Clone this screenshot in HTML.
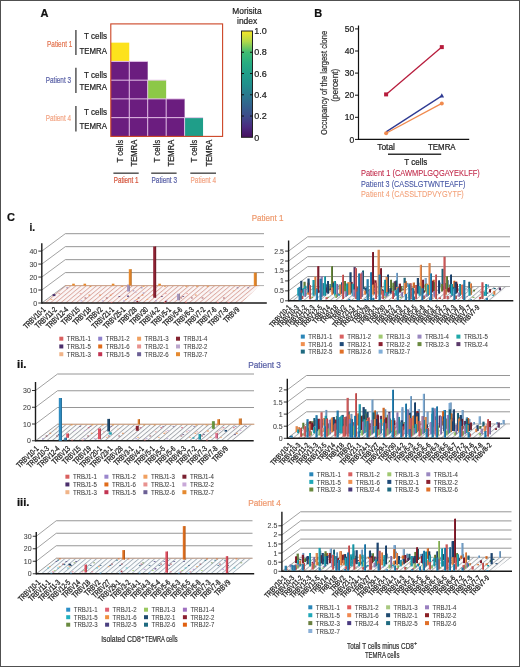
<!DOCTYPE html>
<html><head><meta charset="utf-8"><style>
html,body{margin:0;padding:0;background:#fff;}
body{width:520px;height:667px;overflow:hidden;position:relative;}
svg{position:absolute;left:0;top:0;display:block;font-family:"Liberation Sans",sans-serif;will-change:transform;}
.frame{position:absolute;left:0;top:0;width:520px;height:667px;box-sizing:border-box;border:1px solid #505050;}
</style></head><body>
<svg width="520" height="667" viewBox="0 0 520 667">
<text x="40.50" y="17.00" font-size="11" fill="#111" font-weight="bold" stroke="#111" stroke-width="0.22">A</text>
<text x="47.10" y="46.60" font-size="9.2" fill="#E2734F" textLength="25.20" lengthAdjust="spacingAndGlyphs" stroke="#E2734F" stroke-width="0.22">Patient 1</text>
<text x="45.80" y="83.20" font-size="9.2" fill="#5960A6" textLength="25.20" lengthAdjust="spacingAndGlyphs" stroke="#5960A6" stroke-width="0.22">Patient 3</text>
<text x="45.80" y="121.30" font-size="9.2" fill="#F2A585" textLength="25.20" lengthAdjust="spacingAndGlyphs" stroke="#F2A585" stroke-width="0.22">Patient 4</text>
<line x1="75.90" y1="29.90" x2="75.90" y2="55.10" stroke="#555" stroke-width="1.5"/>
<line x1="75.90" y1="67.70" x2="75.90" y2="92.90" stroke="#555" stroke-width="1.5"/>
<line x1="75.90" y1="106.00" x2="75.90" y2="131.60" stroke="#555" stroke-width="1.5"/>
<text x="107.00" y="39.20" font-size="9.0" fill="#222" text-anchor="end" textLength="23.00" lengthAdjust="spacingAndGlyphs" stroke="#222" stroke-width="0.22">T cells</text>
<text x="107.00" y="53.80" font-size="9.0" fill="#222" text-anchor="end" textLength="27.50" lengthAdjust="spacingAndGlyphs" stroke="#222" stroke-width="0.22">TEMRA</text>
<text x="107.00" y="78.00" font-size="9.0" fill="#222" text-anchor="end" textLength="23.00" lengthAdjust="spacingAndGlyphs" stroke="#222" stroke-width="0.22">T cells</text>
<text x="107.00" y="89.60" font-size="9.0" fill="#222" text-anchor="end" textLength="27.50" lengthAdjust="spacingAndGlyphs" stroke="#222" stroke-width="0.22">TEMRA</text>
<text x="107.00" y="115.20" font-size="9.0" fill="#222" text-anchor="end" textLength="23.00" lengthAdjust="spacingAndGlyphs" stroke="#222" stroke-width="0.22">T cells</text>
<text x="107.00" y="128.80" font-size="9.0" fill="#222" text-anchor="end" textLength="27.50" lengthAdjust="spacingAndGlyphs" stroke="#222" stroke-width="0.22">TEMRA</text>
<rect x="110.80" y="42.65" width="18.45" height="18.75" fill="#FDE21C" />
<rect x="110.80" y="61.40" width="18.45" height="18.75" fill="#6B1D7F" />
<rect x="129.25" y="61.40" width="18.45" height="18.75" fill="#6B1D7F" />
<rect x="110.80" y="80.15" width="18.45" height="18.75" fill="#6B1D7F" />
<rect x="129.25" y="80.15" width="18.45" height="18.75" fill="#6B1D7F" />
<rect x="147.70" y="80.15" width="18.45" height="18.75" fill="#8CC847" />
<rect x="110.80" y="98.90" width="18.45" height="18.75" fill="#6B1D7F" />
<rect x="129.25" y="98.90" width="18.45" height="18.75" fill="#6B1D7F" />
<rect x="147.70" y="98.90" width="18.45" height="18.75" fill="#6B1D7F" />
<rect x="166.15" y="98.90" width="18.45" height="18.75" fill="#6B1D7F" />
<rect x="110.80" y="117.65" width="18.45" height="18.75" fill="#6B1D7F" />
<rect x="129.25" y="117.65" width="18.45" height="18.75" fill="#6B1D7F" />
<rect x="147.70" y="117.65" width="18.45" height="18.75" fill="#6B1D7F" />
<rect x="166.15" y="117.65" width="18.45" height="18.75" fill="#6B1D7F" />
<rect x="184.60" y="117.65" width="18.45" height="18.75" fill="#1F9E89" />
<g stroke="#E9C6EC" stroke-width="0.9">
<line x1="110.80" y1="61.40" x2="129.25" y2="61.40" stroke="#EBC8EE" stroke-width="0.9"/>
<line x1="129.25" y1="61.40" x2="129.25" y2="80.15" stroke="#EBC8EE" stroke-width="0.9"/>
<line x1="129.25" y1="61.40" x2="147.70" y2="61.40" stroke="#EBC8EE" stroke-width="0.9"/>
<line x1="110.80" y1="80.15" x2="129.25" y2="80.15" stroke="#EBC8EE" stroke-width="0.9"/>
<line x1="129.25" y1="80.15" x2="129.25" y2="98.90" stroke="#EBC8EE" stroke-width="0.9"/>
<line x1="129.25" y1="80.15" x2="147.70" y2="80.15" stroke="#EBC8EE" stroke-width="0.9"/>
<line x1="147.70" y1="80.15" x2="147.70" y2="98.90" stroke="#EBC8EE" stroke-width="0.9"/>
<line x1="147.70" y1="80.15" x2="166.15" y2="80.15" stroke="#EBC8EE" stroke-width="0.9"/>
<line x1="110.80" y1="98.90" x2="129.25" y2="98.90" stroke="#EBC8EE" stroke-width="0.9"/>
<line x1="129.25" y1="98.90" x2="129.25" y2="117.65" stroke="#EBC8EE" stroke-width="0.9"/>
<line x1="129.25" y1="98.90" x2="147.70" y2="98.90" stroke="#EBC8EE" stroke-width="0.9"/>
<line x1="147.70" y1="98.90" x2="147.70" y2="117.65" stroke="#EBC8EE" stroke-width="0.9"/>
<line x1="147.70" y1="98.90" x2="166.15" y2="98.90" stroke="#EBC8EE" stroke-width="0.9"/>
<line x1="166.15" y1="98.90" x2="166.15" y2="117.65" stroke="#EBC8EE" stroke-width="0.9"/>
<line x1="166.15" y1="98.90" x2="184.60" y2="98.90" stroke="#EBC8EE" stroke-width="0.9"/>
<line x1="110.80" y1="117.65" x2="129.25" y2="117.65" stroke="#EBC8EE" stroke-width="0.9"/>
<line x1="129.25" y1="117.65" x2="129.25" y2="136.40" stroke="#EBC8EE" stroke-width="0.9"/>
<line x1="129.25" y1="117.65" x2="147.70" y2="117.65" stroke="#EBC8EE" stroke-width="0.9"/>
<line x1="147.70" y1="117.65" x2="147.70" y2="136.40" stroke="#EBC8EE" stroke-width="0.9"/>
<line x1="147.70" y1="117.65" x2="166.15" y2="117.65" stroke="#EBC8EE" stroke-width="0.9"/>
<line x1="166.15" y1="117.65" x2="166.15" y2="136.40" stroke="#EBC8EE" stroke-width="0.9"/>
<line x1="166.15" y1="117.65" x2="184.60" y2="117.65" stroke="#EBC8EE" stroke-width="0.9"/>
<line x1="184.60" y1="117.65" x2="184.60" y2="136.40" stroke="#EBC8EE" stroke-width="0.9"/>
<line x1="184.60" y1="117.65" x2="203.05" y2="117.65" stroke="#EBC8EE" stroke-width="0.9"/>
</g>
<rect x="110.80" y="23.90" width="111.80" height="112.50" fill="none" stroke="#CC4424" stroke-width="1.1"/>
<text x="122.70" y="162.50" font-size="8.6" fill="#222" transform="rotate(-90 122.70 162.50)" textLength="22.70" lengthAdjust="spacingAndGlyphs" stroke="#222" stroke-width="0.22">T cells</text>
<text x="137.35" y="166.40" font-size="8.6" fill="#222" transform="rotate(-90 137.35 166.40)" textLength="26.60" lengthAdjust="spacingAndGlyphs" stroke="#222" stroke-width="0.22">TEMRA</text>
<text x="159.70" y="162.50" font-size="8.6" fill="#222" transform="rotate(-90 159.70 162.50)" textLength="22.70" lengthAdjust="spacingAndGlyphs" stroke="#222" stroke-width="0.22">T cells</text>
<text x="174.00" y="166.40" font-size="8.6" fill="#222" transform="rotate(-90 174.00 166.40)" textLength="26.60" lengthAdjust="spacingAndGlyphs" stroke="#222" stroke-width="0.22">TEMRA</text>
<text x="197.10" y="162.50" font-size="8.6" fill="#222" transform="rotate(-90 197.10 162.50)" textLength="22.70" lengthAdjust="spacingAndGlyphs" stroke="#222" stroke-width="0.22">T cells</text>
<text x="212.10" y="166.40" font-size="8.6" fill="#222" transform="rotate(-90 212.10 166.40)" textLength="26.60" lengthAdjust="spacingAndGlyphs" stroke="#222" stroke-width="0.22">TEMRA</text>
<line x1="113.40" y1="173.20" x2="138.70" y2="173.20" stroke="#555" stroke-width="1.5"/>
<line x1="151.20" y1="173.20" x2="176.60" y2="173.20" stroke="#555" stroke-width="1.5"/>
<line x1="190.30" y1="173.20" x2="216.00" y2="173.20" stroke="#555" stroke-width="1.5"/>
<text x="113.80" y="183.10" font-size="8.8" fill="#D4553C" textLength="24.80" lengthAdjust="spacingAndGlyphs" stroke="#D4553C" stroke-width="0.22">Patient 1</text>
<text x="151.50" y="183.10" font-size="8.8" fill="#5960A6" textLength="25.50" lengthAdjust="spacingAndGlyphs" stroke="#5960A6" stroke-width="0.22">Patient 3</text>
<text x="190.50" y="183.10" font-size="8.8" fill="#F2A585" textLength="25.50" lengthAdjust="spacingAndGlyphs" stroke="#F2A585" stroke-width="0.22">Patient 4</text>
<defs><linearGradient id="vir" x1="0" y1="1" x2="0" y2="0"><stop offset="0.0" stop-color="#46105F"/><stop offset="0.1" stop-color="#4A2C80"/><stop offset="0.2" stop-color="#3D4C8A"/><stop offset="0.3" stop-color="#33638D"/><stop offset="0.4" stop-color="#2A7A8E"/><stop offset="0.5" stop-color="#20908C"/><stop offset="0.6" stop-color="#1F9E89"/><stop offset="0.7" stop-color="#27AD81"/><stop offset="0.8" stop-color="#40BC72"/><stop offset="0.9" stop-color="#B0D84A"/><stop offset="1.0" stop-color="#F8E626"/></linearGradient></defs>
<rect x="241.50" y="31.00" width="11.00" height="106.30" fill="url(#vir)" stroke="#222" stroke-width="1"/>
<text x="254.30" y="140.50" font-size="9" fill="#222" stroke="#222" stroke-width="0.22">0</text>
<line x1="241.50" y1="116.04" x2="244.00" y2="116.04" stroke="#111" stroke-width="1"/>
<line x1="250.00" y1="116.04" x2="252.50" y2="116.04" stroke="#111" stroke-width="1"/>
<text x="254.30" y="119.24" font-size="9" fill="#222" stroke="#222" stroke-width="0.22">0.2</text>
<line x1="241.50" y1="94.78" x2="244.00" y2="94.78" stroke="#111" stroke-width="1"/>
<line x1="250.00" y1="94.78" x2="252.50" y2="94.78" stroke="#111" stroke-width="1"/>
<text x="254.30" y="97.98" font-size="9" fill="#222" stroke="#222" stroke-width="0.22">0.4</text>
<line x1="241.50" y1="73.52" x2="244.00" y2="73.52" stroke="#111" stroke-width="1"/>
<line x1="250.00" y1="73.52" x2="252.50" y2="73.52" stroke="#111" stroke-width="1"/>
<text x="254.30" y="76.72" font-size="9" fill="#222" stroke="#222" stroke-width="0.22">0.6</text>
<line x1="241.50" y1="52.26" x2="244.00" y2="52.26" stroke="#111" stroke-width="1"/>
<line x1="250.00" y1="52.26" x2="252.50" y2="52.26" stroke="#111" stroke-width="1"/>
<text x="254.30" y="55.46" font-size="9" fill="#222" stroke="#222" stroke-width="0.22">0.8</text>
<text x="254.30" y="34.20" font-size="9" fill="#222" stroke="#222" stroke-width="0.22">1.0</text>
<text x="246.90" y="14.00" font-size="9.3" fill="#222" text-anchor="middle" textLength="29.30" lengthAdjust="spacingAndGlyphs" stroke="#222" stroke-width="0.22">Morisita</text>
<text x="247.10" y="23.60" font-size="9.3" fill="#222" text-anchor="middle" textLength="20.20" lengthAdjust="spacingAndGlyphs" stroke="#222" stroke-width="0.22">index</text>
<text x="314.30" y="17.30" font-size="11" fill="#111" font-weight="bold" stroke="#111" stroke-width="0.22">B</text>
<line x1="358.50" y1="25.50" x2="358.50" y2="140.00" stroke="#111" stroke-width="1.2"/>
<line x1="357.90" y1="139.40" x2="469.20" y2="139.40" stroke="#111" stroke-width="1.2"/>
<line x1="355.00" y1="139.40" x2="358.50" y2="139.40" stroke="#111" stroke-width="1"/>
<text x="354.20" y="142.50" font-size="8.5" fill="#222" text-anchor="end" stroke="#222" stroke-width="0.22">0</text>
<line x1="355.00" y1="117.30" x2="358.50" y2="117.30" stroke="#111" stroke-width="1"/>
<text x="354.20" y="120.40" font-size="8.5" fill="#222" text-anchor="end" stroke="#222" stroke-width="0.22">10</text>
<line x1="355.00" y1="95.20" x2="358.50" y2="95.20" stroke="#111" stroke-width="1"/>
<text x="354.20" y="98.30" font-size="8.5" fill="#222" text-anchor="end" stroke="#222" stroke-width="0.22">20</text>
<line x1="355.00" y1="73.10" x2="358.50" y2="73.10" stroke="#111" stroke-width="1"/>
<text x="354.20" y="76.20" font-size="8.5" fill="#222" text-anchor="end" stroke="#222" stroke-width="0.22">30</text>
<line x1="355.00" y1="51.00" x2="358.50" y2="51.00" stroke="#111" stroke-width="1"/>
<text x="354.20" y="54.10" font-size="8.5" fill="#222" text-anchor="end" stroke="#222" stroke-width="0.22">40</text>
<line x1="355.00" y1="28.90" x2="358.50" y2="28.90" stroke="#111" stroke-width="1"/>
<text x="354.20" y="32.00" font-size="8.5" fill="#222" text-anchor="end" stroke="#222" stroke-width="0.22">50</text>
<text x="326.50" y="135.00" font-size="8.5" fill="#333" transform="rotate(-90 326.50 135.00)" textLength="104.30" lengthAdjust="spacingAndGlyphs" stroke="#333" stroke-width="0.22">Occupancy of the largest clone</text>
<text x="338.20" y="101.80" font-size="8.5" fill="#333" transform="rotate(-90 338.20 101.80)" textLength="33.10" lengthAdjust="spacingAndGlyphs" stroke="#333" stroke-width="0.22">(percent)</text>
<line x1="386.10" y1="94.40" x2="441.80" y2="47.10" stroke="#B71C3C" stroke-width="1.3"/>
<rect x="384.10" y="92.40" width="4.00" height="4.00" fill="#B71C3C" />
<rect x="439.80" y="45.10" width="4.00" height="4.00" fill="#B71C3C" />
<line x1="386.10" y1="131.90" x2="441.80" y2="95.90" stroke="#2E3A92" stroke-width="1.3"/>
<polygon points="441.80,93.30 439.50,97.40 444.10,97.40" fill="#2E3A92" stroke="none" stroke-width="1" />
<line x1="386.10" y1="133.30" x2="441.80" y2="103.40" stroke="#F08A4E" stroke-width="1.3"/>
<circle cx="386.1" cy="133.3" r="2" fill="#F08A4E"/><circle cx="441.8" cy="103.4" r="2" fill="#F08A4E"/>
<text x="386.10" y="149.60" font-size="8.5" fill="#222" text-anchor="middle" textLength="17.80" lengthAdjust="spacingAndGlyphs" stroke="#222" stroke-width="0.22">Total</text>
<text x="441.80" y="149.60" font-size="8.5" fill="#222" text-anchor="middle" textLength="27.70" lengthAdjust="spacingAndGlyphs" stroke="#222" stroke-width="0.22">TEMRA</text>
<line x1="388.00" y1="154.20" x2="441.20" y2="154.20" stroke="#333" stroke-width="1.5"/>
<text x="415.70" y="165.00" font-size="8.5" fill="#222" text-anchor="middle" textLength="23.10" lengthAdjust="spacingAndGlyphs" stroke="#222" stroke-width="0.22">T cells</text>
<text x="361.00" y="176.40" font-size="8.5" fill="#C02848" textLength="118.70" lengthAdjust="spacingAndGlyphs" stroke="#C02848" stroke-width="0.08">Patient 1 (CAWMPLGQGAYEKLFF)</text>
<text x="361.00" y="187.10" font-size="8.5" fill="#4252A2" textLength="104.40" lengthAdjust="spacingAndGlyphs" stroke="#4252A2" stroke-width="0.08">Patient 3 (CASSLGTWNTEAFF)</text>
<text x="361.00" y="196.60" font-size="8.5" fill="#F2A078" textLength="102.80" lengthAdjust="spacingAndGlyphs" stroke="#F2A078" stroke-width="0.08">Patient 4 (CASSLTDPVYGYTF)</text>
<text x="7.00" y="220.50" font-size="11" fill="#111" font-weight="bold" stroke="#111" stroke-width="0.22">C</text>
<defs><pattern id="hpink" patternUnits="userSpaceOnUse" width="3.3" height="3.3" patternTransform="rotate(50)"><rect width="3.3" height="3.3" fill="#fbf6f6"/><rect width="0.9" height="3.3" fill="#dcaaa2"/></pattern><pattern id="hgray" patternUnits="userSpaceOnUse" width="3.4" height="3.4" patternTransform="rotate(50)"><rect width="3.4" height="3.4" fill="#fcfcfc"/><rect width="0.9" height="3.4" fill="#a8aeb4"/></pattern><pattern id="hmix" patternUnits="userSpaceOnUse" width="3.4" height="3.4" patternTransform="rotate(50)"><rect width="3.4" height="3.4" fill="#fbf8f8"/><rect width="0.9" height="3.4" fill="#b8acae"/></pattern><pattern id="hgray2" patternUnits="userSpaceOnUse" width="3.4" height="3.4" patternTransform="rotate(50)"><rect width="3.4" height="3.4" fill="#fbfbfb"/><rect width="0.9" height="3.4" fill="#a2a6ac"/></pattern><pattern id="hblue" patternUnits="userSpaceOnUse" width="3.4" height="3.4" patternTransform="rotate(50)"><rect width="3.4" height="3.4" fill="#fafcfd"/><rect width="0.9" height="3.4" fill="#a4b0ba"/></pattern></defs>
<text x="29.50" y="231.00" font-size="10" fill="#111" font-weight="bold" stroke="#111" stroke-width="0.22">i.</text>
<text x="17.00" y="367.70" font-size="10" fill="#111" textLength="9.40" lengthAdjust="spacingAndGlyphs" font-weight="bold" stroke="#111" stroke-width="0.22">ii.</text>
<text x="17.00" y="506.30" font-size="10" fill="#111" textLength="12.40" lengthAdjust="spacingAndGlyphs" font-weight="bold" stroke="#111" stroke-width="0.22">iii.</text>
<text x="267.60" y="220.60" font-size="8.6" fill="#EE9A6E" text-anchor="middle" textLength="31.80" lengthAdjust="spacingAndGlyphs" stroke="#EE9A6E" stroke-width="0.22">Patient 1</text>
<text x="264.60" y="368.40" font-size="8.6" fill="#5960A6" text-anchor="middle" textLength="32.80" lengthAdjust="spacingAndGlyphs" stroke="#5960A6" stroke-width="0.22">Patient 3</text>
<text x="0.00" y="0.00" font-size="1" fill="#222" stroke="#222" stroke-width="0.22"></text>
<polygon points="42.60,303.00 65.30,285.60 259.50,285.60 241.50,303.00" fill="url(#hpink)" stroke="none" stroke-width="1" />
<line x1="65.30" y1="285.60" x2="264.00" y2="285.60" stroke="#9a9a9a" stroke-width="0.8"/>
<line x1="65.30" y1="285.60" x2="259.50" y2="285.60" stroke="#d9a080" stroke-width="0.8"/>
<line x1="41.80" y1="303.00" x2="65.30" y2="285.60" stroke="#8a8a8a" stroke-width="0.8"/>
<line x1="38.30" y1="303.00" x2="41.80" y2="303.00" stroke="#333" stroke-width="1"/>
<text x="37.20" y="305.50" font-size="7.0" fill="#444" text-anchor="end" stroke="#444" stroke-width="0.08">0</text>
<line x1="41.80" y1="290.02" x2="65.30" y2="272.62" stroke="#8a8a8a" stroke-width="0.8"/>
<line x1="65.30" y1="272.62" x2="264.00" y2="272.62" stroke="#8a8a8a" stroke-width="0.9"/>
<line x1="38.30" y1="290.02" x2="41.80" y2="290.02" stroke="#333" stroke-width="1"/>
<text x="37.20" y="292.52" font-size="7.0" fill="#444" text-anchor="end" stroke="#444" stroke-width="0.08">10</text>
<line x1="41.80" y1="277.05" x2="65.30" y2="259.65" stroke="#8a8a8a" stroke-width="0.8"/>
<line x1="65.30" y1="259.65" x2="264.00" y2="259.65" stroke="#8a8a8a" stroke-width="0.9"/>
<line x1="38.30" y1="277.05" x2="41.80" y2="277.05" stroke="#333" stroke-width="1"/>
<text x="37.20" y="279.55" font-size="7.0" fill="#444" text-anchor="end" stroke="#444" stroke-width="0.08">20</text>
<line x1="41.80" y1="264.07" x2="65.30" y2="246.67" stroke="#8a8a8a" stroke-width="0.8"/>
<line x1="65.30" y1="246.67" x2="264.00" y2="246.67" stroke="#8a8a8a" stroke-width="0.9"/>
<line x1="38.30" y1="264.07" x2="41.80" y2="264.07" stroke="#333" stroke-width="1"/>
<text x="37.20" y="266.57" font-size="7.0" fill="#444" text-anchor="end" stroke="#444" stroke-width="0.08">30</text>
<line x1="41.80" y1="251.10" x2="65.30" y2="233.70" stroke="#8a8a8a" stroke-width="0.8"/>
<line x1="65.30" y1="233.70" x2="264.00" y2="233.70" stroke="#8a8a8a" stroke-width="0.9"/>
<line x1="38.30" y1="251.10" x2="41.80" y2="251.10" stroke="#333" stroke-width="1"/>
<text x="37.20" y="253.60" font-size="7.0" fill="#444" text-anchor="end" stroke="#444" stroke-width="0.08">40</text>
<line x1="41.80" y1="243.30" x2="41.80" y2="303.70" stroke="#1a1a1a" stroke-width="1.4"/>
<line x1="41.80" y1="303.00" x2="266.80" y2="303.00" stroke="#1a1a1a" stroke-width="1.4"/>
<text x="0" y="0" font-size="7.9" fill="#262626" transform="translate(46.00 310.20) rotate(-44) scale(0.74 1)" text-anchor="end" stroke="#262626" stroke-width="0.3">TRBV10-1</text>
<text x="0" y="0" font-size="7.9" fill="#262626" transform="translate(57.41 310.20) rotate(-44) scale(0.74 1)" text-anchor="end" stroke="#262626" stroke-width="0.3">TRBV11-2</text>
<text x="0" y="0" font-size="7.9" fill="#262626" transform="translate(68.82 310.20) rotate(-44) scale(0.74 1)" text-anchor="end" stroke="#262626" stroke-width="0.3">TRBV12-4</text>
<text x="0" y="0" font-size="7.9" fill="#262626" transform="translate(80.24 310.20) rotate(-44) scale(0.74 1)" text-anchor="end" stroke="#262626" stroke-width="0.3">TRBV15</text>
<text x="0" y="0" font-size="7.9" fill="#262626" transform="translate(91.65 310.20) rotate(-44) scale(0.74 1)" text-anchor="end" stroke="#262626" stroke-width="0.3">TRBV18</text>
<text x="0" y="0" font-size="7.9" fill="#262626" transform="translate(103.06 310.20) rotate(-44) scale(0.74 1)" text-anchor="end" stroke="#262626" stroke-width="0.3">TRBV2</text>
<text x="0" y="0" font-size="7.9" fill="#262626" transform="translate(114.47 310.20) rotate(-44) scale(0.74 1)" text-anchor="end" stroke="#262626" stroke-width="0.3">TRBV21-1</text>
<text x="0" y="0" font-size="7.9" fill="#262626" transform="translate(125.88 310.20) rotate(-44) scale(0.74 1)" text-anchor="end" stroke="#262626" stroke-width="0.3">TRBV25-1</text>
<text x="0" y="0" font-size="7.9" fill="#262626" transform="translate(137.29 310.20) rotate(-44) scale(0.74 1)" text-anchor="end" stroke="#262626" stroke-width="0.3">TRBV28</text>
<text x="0" y="0" font-size="7.9" fill="#262626" transform="translate(148.71 310.20) rotate(-44) scale(0.74 1)" text-anchor="end" stroke="#262626" stroke-width="0.3">TRBV30</text>
<text x="0" y="0" font-size="7.9" fill="#262626" transform="translate(160.12 310.20) rotate(-44) scale(0.74 1)" text-anchor="end" stroke="#262626" stroke-width="0.3">TRBV4-2</text>
<text x="0" y="0" font-size="7.9" fill="#262626" transform="translate(171.53 310.20) rotate(-44) scale(0.74 1)" text-anchor="end" stroke="#262626" stroke-width="0.3">TRBV5-1</text>
<text x="0" y="0" font-size="7.9" fill="#262626" transform="translate(182.94 310.20) rotate(-44) scale(0.74 1)" text-anchor="end" stroke="#262626" stroke-width="0.3">TRBV5-6</text>
<text x="0" y="0" font-size="7.9" fill="#262626" transform="translate(194.35 310.20) rotate(-44) scale(0.74 1)" text-anchor="end" stroke="#262626" stroke-width="0.3">TRBV6-3</text>
<text x="0" y="0" font-size="7.9" fill="#262626" transform="translate(205.76 310.20) rotate(-44) scale(0.74 1)" text-anchor="end" stroke="#262626" stroke-width="0.3">TRBV7-2</text>
<text x="0" y="0" font-size="7.9" fill="#262626" transform="translate(217.18 310.20) rotate(-44) scale(0.74 1)" text-anchor="end" stroke="#262626" stroke-width="0.3">TRBV7-6</text>
<text x="0" y="0" font-size="7.9" fill="#262626" transform="translate(228.59 310.20) rotate(-44) scale(0.74 1)" text-anchor="end" stroke="#262626" stroke-width="0.3">TRBV7-8</text>
<text x="0" y="0" font-size="7.9" fill="#262626" transform="translate(240.00 310.20) rotate(-44) scale(0.74 1)" text-anchor="end" stroke="#262626" stroke-width="0.3">TRBV9</text>
<polygon points="289.40,300.80 307.60,286.50 509.50,286.50 490.50,300.80" fill="url(#hgray)" stroke="none" stroke-width="1" />
<line x1="288.60" y1="300.80" x2="307.60" y2="286.50" stroke="#8a8a8a" stroke-width="0.8"/>
<line x1="307.60" y1="286.50" x2="510.00" y2="286.50" stroke="#999" stroke-width="0.8"/>
<line x1="285.10" y1="300.80" x2="288.60" y2="300.80" stroke="#333" stroke-width="1"/>
<text x="284.00" y="303.30" font-size="7.0" fill="#444" text-anchor="end" stroke="#444" stroke-width="0.08">0</text>
<line x1="288.60" y1="290.86" x2="307.60" y2="276.56" stroke="#8a8a8a" stroke-width="0.8"/>
<line x1="307.60" y1="276.56" x2="510.00" y2="276.56" stroke="#8a8a8a" stroke-width="0.9"/>
<line x1="285.10" y1="290.86" x2="288.60" y2="290.86" stroke="#333" stroke-width="1"/>
<text x="284.00" y="293.36" font-size="7.0" fill="#444" text-anchor="end" stroke="#444" stroke-width="0.08">0.5</text>
<line x1="288.60" y1="280.92" x2="307.60" y2="266.62" stroke="#8a8a8a" stroke-width="0.8"/>
<line x1="307.60" y1="266.62" x2="510.00" y2="266.62" stroke="#8a8a8a" stroke-width="0.9"/>
<line x1="285.10" y1="280.92" x2="288.60" y2="280.92" stroke="#333" stroke-width="1"/>
<text x="284.00" y="283.42" font-size="7.0" fill="#444" text-anchor="end" stroke="#444" stroke-width="0.08">1</text>
<line x1="288.60" y1="270.98" x2="307.60" y2="256.68" stroke="#8a8a8a" stroke-width="0.8"/>
<line x1="307.60" y1="256.68" x2="510.00" y2="256.68" stroke="#8a8a8a" stroke-width="0.9"/>
<line x1="285.10" y1="270.98" x2="288.60" y2="270.98" stroke="#333" stroke-width="1"/>
<text x="284.00" y="273.48" font-size="7.0" fill="#444" text-anchor="end" stroke="#444" stroke-width="0.08">1.5</text>
<line x1="288.60" y1="261.04" x2="307.60" y2="246.74" stroke="#8a8a8a" stroke-width="0.8"/>
<line x1="307.60" y1="246.74" x2="510.00" y2="246.74" stroke="#8a8a8a" stroke-width="0.9"/>
<line x1="285.10" y1="261.04" x2="288.60" y2="261.04" stroke="#333" stroke-width="1"/>
<text x="284.00" y="263.54" font-size="7.0" fill="#444" text-anchor="end" stroke="#444" stroke-width="0.08">2</text>
<line x1="288.60" y1="251.10" x2="307.60" y2="236.80" stroke="#8a8a8a" stroke-width="0.8"/>
<line x1="307.60" y1="236.80" x2="510.00" y2="236.80" stroke="#8a8a8a" stroke-width="0.9"/>
<line x1="285.10" y1="251.10" x2="288.60" y2="251.10" stroke="#333" stroke-width="1"/>
<text x="284.00" y="253.60" font-size="7.0" fill="#444" text-anchor="end" stroke="#444" stroke-width="0.08">2.5</text>
<line x1="288.60" y1="240.50" x2="288.60" y2="301.50" stroke="#1a1a1a" stroke-width="1.4"/>
<line x1="288.60" y1="300.80" x2="513.30" y2="300.80" stroke="#1a1a1a" stroke-width="1.4"/>
<text x="0" y="0" font-size="7.4" fill="#262626" transform="translate(291.40 307.90) rotate(-47) scale(0.8 1)" text-anchor="end" stroke="#262626" stroke-width="0.3">TRBV10-1</text>
<text x="0" y="0" font-size="7.4" fill="#262626" transform="translate(299.25 307.90) rotate(-47) scale(0.8 1)" text-anchor="end" stroke="#262626" stroke-width="0.3">TRBV10-3</text>
<text x="0" y="0" font-size="7.4" fill="#262626" transform="translate(307.11 307.90) rotate(-47) scale(0.8 1)" text-anchor="end" stroke="#262626" stroke-width="0.3">TRBV11-2</text>
<text x="0" y="0" font-size="7.4" fill="#262626" transform="translate(314.96 307.90) rotate(-47) scale(0.8 1)" text-anchor="end" stroke="#262626" stroke-width="0.3">TRBV12-3</text>
<text x="0" y="0" font-size="7.4" fill="#262626" transform="translate(322.82 307.90) rotate(-47) scale(0.8 1)" text-anchor="end" stroke="#262626" stroke-width="0.3">TRBV12-5</text>
<text x="0" y="0" font-size="7.4" fill="#262626" transform="translate(330.67 307.90) rotate(-47) scale(0.8 1)" text-anchor="end" stroke="#262626" stroke-width="0.3">TRBV14</text>
<text x="0" y="0" font-size="7.4" fill="#262626" transform="translate(338.52 307.90) rotate(-47) scale(0.8 1)" text-anchor="end" stroke="#262626" stroke-width="0.3">TRBV18</text>
<text x="0" y="0" font-size="7.4" fill="#262626" transform="translate(346.38 307.90) rotate(-47) scale(0.8 1)" text-anchor="end" stroke="#262626" stroke-width="0.3">TRBV2</text>
<text x="0" y="0" font-size="7.4" fill="#262626" transform="translate(354.23 307.90) rotate(-47) scale(0.8 1)" text-anchor="end" stroke="#262626" stroke-width="0.3">TRBV21-1</text>
<text x="0" y="0" font-size="7.4" fill="#262626" transform="translate(362.09 307.90) rotate(-47) scale(0.8 1)" text-anchor="end" stroke="#262626" stroke-width="0.3">TRBV25-1</text>
<text x="0" y="0" font-size="7.4" fill="#262626" transform="translate(369.94 307.90) rotate(-47) scale(0.8 1)" text-anchor="end" stroke="#262626" stroke-width="0.3">TRBV28</text>
<text x="0" y="0" font-size="7.4" fill="#262626" transform="translate(377.80 307.90) rotate(-47) scale(0.8 1)" text-anchor="end" stroke="#262626" stroke-width="0.3">TRBV3-1</text>
<text x="0" y="0" font-size="7.4" fill="#262626" transform="translate(385.65 307.90) rotate(-47) scale(0.8 1)" text-anchor="end" stroke="#262626" stroke-width="0.3">TRBV30</text>
<text x="0" y="0" font-size="7.4" fill="#262626" transform="translate(393.50 307.90) rotate(-47) scale(0.8 1)" text-anchor="end" stroke="#262626" stroke-width="0.3">TRBV4-2</text>
<text x="0" y="0" font-size="7.4" fill="#262626" transform="translate(401.36 307.90) rotate(-47) scale(0.8 1)" text-anchor="end" stroke="#262626" stroke-width="0.3">TRBV4-3</text>
<text x="0" y="0" font-size="7.4" fill="#262626" transform="translate(409.21 307.90) rotate(-47) scale(0.8 1)" text-anchor="end" stroke="#262626" stroke-width="0.3">TRBV5-1</text>
<text x="0" y="0" font-size="7.4" fill="#262626" transform="translate(417.07 307.90) rotate(-47) scale(0.8 1)" text-anchor="end" stroke="#262626" stroke-width="0.3">TRBV5-5</text>
<text x="0" y="0" font-size="7.4" fill="#262626" transform="translate(424.92 307.90) rotate(-47) scale(0.8 1)" text-anchor="end" stroke="#262626" stroke-width="0.3">TRBV5-6</text>
<text x="0" y="0" font-size="7.4" fill="#262626" transform="translate(432.77 307.90) rotate(-47) scale(0.8 1)" text-anchor="end" stroke="#262626" stroke-width="0.3">TRBV6-1</text>
<text x="0" y="0" font-size="7.4" fill="#262626" transform="translate(440.63 307.90) rotate(-47) scale(0.8 1)" text-anchor="end" stroke="#262626" stroke-width="0.3">TRBV6-5</text>
<text x="0" y="0" font-size="7.4" fill="#262626" transform="translate(448.48 307.90) rotate(-47) scale(0.8 1)" text-anchor="end" stroke="#262626" stroke-width="0.3">TRBV7-2</text>
<text x="0" y="0" font-size="7.4" fill="#262626" transform="translate(456.34 307.90) rotate(-47) scale(0.8 1)" text-anchor="end" stroke="#262626" stroke-width="0.3">TRBV7-3</text>
<text x="0" y="0" font-size="7.4" fill="#262626" transform="translate(464.19 307.90) rotate(-47) scale(0.8 1)" text-anchor="end" stroke="#262626" stroke-width="0.3">TRBV7-6</text>
<text x="0" y="0" font-size="7.4" fill="#262626" transform="translate(472.05 307.90) rotate(-47) scale(0.8 1)" text-anchor="end" stroke="#262626" stroke-width="0.3">TRBV7-7</text>
<text x="0" y="0" font-size="7.4" fill="#262626" transform="translate(479.90 307.90) rotate(-47) scale(0.8 1)" text-anchor="end" stroke="#262626" stroke-width="0.3">TRBV7-9</text>
<polygon points="36.30,440.75 57.50,424.25 254.50,424.25 232.50,440.75" fill="url(#hgray2)" stroke="none" stroke-width="1" />
<line x1="57.50" y1="424.25" x2="254.00" y2="424.25" stroke="#9a9a9a" stroke-width="0.8"/>
<line x1="57.50" y1="424.25" x2="254.50" y2="424.25" stroke="#e0a070" stroke-width="0.8"/>
<line x1="35.50" y1="440.75" x2="57.50" y2="424.25" stroke="#8a8a8a" stroke-width="0.8"/>
<line x1="32.00" y1="440.75" x2="35.50" y2="440.75" stroke="#333" stroke-width="1"/>
<text x="30.90" y="443.25" font-size="7.0" fill="#444" text-anchor="end" stroke="#444" stroke-width="0.08">0</text>
<line x1="35.50" y1="424.00" x2="57.50" y2="407.50" stroke="#8a8a8a" stroke-width="0.8"/>
<line x1="57.50" y1="407.50" x2="254.00" y2="407.50" stroke="#8a8a8a" stroke-width="0.9"/>
<line x1="32.00" y1="424.00" x2="35.50" y2="424.00" stroke="#333" stroke-width="1"/>
<text x="30.90" y="426.50" font-size="7.0" fill="#444" text-anchor="end" stroke="#444" stroke-width="0.08">10</text>
<line x1="35.50" y1="407.25" x2="57.50" y2="390.75" stroke="#8a8a8a" stroke-width="0.8"/>
<line x1="57.50" y1="390.75" x2="254.00" y2="390.75" stroke="#8a8a8a" stroke-width="0.9"/>
<line x1="32.00" y1="407.25" x2="35.50" y2="407.25" stroke="#333" stroke-width="1"/>
<text x="30.90" y="409.75" font-size="7.0" fill="#444" text-anchor="end" stroke="#444" stroke-width="0.08">20</text>
<line x1="35.50" y1="390.50" x2="57.50" y2="374.00" stroke="#8a8a8a" stroke-width="0.8"/>
<line x1="57.50" y1="374.00" x2="254.00" y2="374.00" stroke="#8a8a8a" stroke-width="0.9"/>
<line x1="32.00" y1="390.50" x2="35.50" y2="390.50" stroke="#333" stroke-width="1"/>
<text x="30.90" y="393.00" font-size="7.0" fill="#444" text-anchor="end" stroke="#444" stroke-width="0.08">30</text>
<line x1="35.50" y1="382.00" x2="35.50" y2="441.45" stroke="#1a1a1a" stroke-width="1.4"/>
<line x1="35.50" y1="440.75" x2="253.70" y2="440.75" stroke="#1a1a1a" stroke-width="1.4"/>
<text x="0" y="0" font-size="7.9" fill="#262626" transform="translate(39.10 449.35) rotate(-44) scale(0.74 1)" text-anchor="end" stroke="#262626" stroke-width="0.3">TRBV10-1</text>
<text x="0" y="0" font-size="7.9" fill="#262626" transform="translate(49.63 449.35) rotate(-44) scale(0.74 1)" text-anchor="end" stroke="#262626" stroke-width="0.3">TRBV10-3</text>
<text x="0" y="0" font-size="7.9" fill="#262626" transform="translate(60.17 449.35) rotate(-44) scale(0.74 1)" text-anchor="end" stroke="#262626" stroke-width="0.3">TRBV12-4</text>
<text x="0" y="0" font-size="7.9" fill="#262626" transform="translate(70.70 449.35) rotate(-44) scale(0.74 1)" text-anchor="end" stroke="#262626" stroke-width="0.3">TRBV13</text>
<text x="0" y="0" font-size="7.9" fill="#262626" transform="translate(81.23 449.35) rotate(-44) scale(0.74 1)" text-anchor="end" stroke="#262626" stroke-width="0.3">TRBV15</text>
<text x="0" y="0" font-size="7.9" fill="#262626" transform="translate(91.77 449.35) rotate(-44) scale(0.74 1)" text-anchor="end" stroke="#262626" stroke-width="0.3">TRBV19</text>
<text x="0" y="0" font-size="7.9" fill="#262626" transform="translate(102.30 449.35) rotate(-44) scale(0.74 1)" text-anchor="end" stroke="#262626" stroke-width="0.3">TRBV20-1</text>
<text x="0" y="0" font-size="7.9" fill="#262626" transform="translate(112.83 449.35) rotate(-44) scale(0.74 1)" text-anchor="end" stroke="#262626" stroke-width="0.3">TRBV23-1</text>
<text x="0" y="0" font-size="7.9" fill="#262626" transform="translate(123.37 449.35) rotate(-44) scale(0.74 1)" text-anchor="end" stroke="#262626" stroke-width="0.3">TRBV28</text>
<text x="0" y="0" font-size="7.9" fill="#262626" transform="translate(133.90 449.35) rotate(-44) scale(0.74 1)" text-anchor="end" stroke="#262626" stroke-width="0.3">TRBV3-1</text>
<text x="0" y="0" font-size="7.9" fill="#262626" transform="translate(144.43 449.35) rotate(-44) scale(0.74 1)" text-anchor="end" stroke="#262626" stroke-width="0.3">TRBV4-1</text>
<text x="0" y="0" font-size="7.9" fill="#262626" transform="translate(154.97 449.35) rotate(-44) scale(0.74 1)" text-anchor="end" stroke="#262626" stroke-width="0.3">TRBV5-1</text>
<text x="0" y="0" font-size="7.9" fill="#262626" transform="translate(165.50 449.35) rotate(-44) scale(0.74 1)" text-anchor="end" stroke="#262626" stroke-width="0.3">TRBV5-5</text>
<text x="0" y="0" font-size="7.9" fill="#262626" transform="translate(176.03 449.35) rotate(-44) scale(0.74 1)" text-anchor="end" stroke="#262626" stroke-width="0.3">TRBV5-6</text>
<text x="0" y="0" font-size="7.9" fill="#262626" transform="translate(186.57 449.35) rotate(-44) scale(0.74 1)" text-anchor="end" stroke="#262626" stroke-width="0.3">TRBV6-3</text>
<text x="0" y="0" font-size="7.9" fill="#262626" transform="translate(197.10 449.35) rotate(-44) scale(0.74 1)" text-anchor="end" stroke="#262626" stroke-width="0.3">TRBV7-2</text>
<text x="0" y="0" font-size="7.9" fill="#262626" transform="translate(207.63 449.35) rotate(-44) scale(0.74 1)" text-anchor="end" stroke="#262626" stroke-width="0.3">TRBV7-3</text>
<text x="0" y="0" font-size="7.9" fill="#262626" transform="translate(218.17 449.35) rotate(-44) scale(0.74 1)" text-anchor="end" stroke="#262626" stroke-width="0.3">TRBV7-8</text>
<text x="0" y="0" font-size="7.9" fill="#262626" transform="translate(228.70 449.35) rotate(-44) scale(0.74 1)" text-anchor="end" stroke="#262626" stroke-width="0.3">TRBV9</text>
<polygon points="288.10,438.30 306.50,423.90 509.70,423.90 490.50,438.30" fill="url(#hgray)" stroke="none" stroke-width="1" />
<line x1="287.30" y1="438.30" x2="306.50" y2="423.90" stroke="#8a8a8a" stroke-width="0.8"/>
<line x1="306.50" y1="423.90" x2="510.00" y2="423.90" stroke="#999" stroke-width="0.8"/>
<line x1="283.80" y1="438.30" x2="287.30" y2="438.30" stroke="#333" stroke-width="1"/>
<text x="282.70" y="440.80" font-size="7.0" fill="#444" text-anchor="end" stroke="#444" stroke-width="0.08">0</text>
<line x1="287.30" y1="426.20" x2="306.50" y2="411.80" stroke="#8a8a8a" stroke-width="0.8"/>
<line x1="306.50" y1="411.80" x2="510.00" y2="411.80" stroke="#8a8a8a" stroke-width="0.9"/>
<line x1="283.80" y1="426.20" x2="287.30" y2="426.20" stroke="#333" stroke-width="1"/>
<text x="282.70" y="428.70" font-size="7.0" fill="#444" text-anchor="end" stroke="#444" stroke-width="0.08">0.5</text>
<line x1="287.30" y1="414.10" x2="306.50" y2="399.70" stroke="#8a8a8a" stroke-width="0.8"/>
<line x1="306.50" y1="399.70" x2="510.00" y2="399.70" stroke="#8a8a8a" stroke-width="0.9"/>
<line x1="283.80" y1="414.10" x2="287.30" y2="414.10" stroke="#333" stroke-width="1"/>
<text x="282.70" y="416.60" font-size="7.0" fill="#444" text-anchor="end" stroke="#444" stroke-width="0.08">1</text>
<line x1="287.30" y1="402.00" x2="306.50" y2="387.60" stroke="#8a8a8a" stroke-width="0.8"/>
<line x1="306.50" y1="387.60" x2="510.00" y2="387.60" stroke="#8a8a8a" stroke-width="0.9"/>
<line x1="283.80" y1="402.00" x2="287.30" y2="402.00" stroke="#333" stroke-width="1"/>
<text x="282.70" y="404.50" font-size="7.0" fill="#444" text-anchor="end" stroke="#444" stroke-width="0.08">1.5</text>
<line x1="287.30" y1="389.90" x2="306.50" y2="375.50" stroke="#8a8a8a" stroke-width="0.8"/>
<line x1="306.50" y1="375.50" x2="510.00" y2="375.50" stroke="#8a8a8a" stroke-width="0.9"/>
<line x1="283.80" y1="389.90" x2="287.30" y2="389.90" stroke="#333" stroke-width="1"/>
<text x="282.70" y="392.40" font-size="7.0" fill="#444" text-anchor="end" stroke="#444" stroke-width="0.08">2</text>
<line x1="287.30" y1="378.70" x2="287.30" y2="439.00" stroke="#1a1a1a" stroke-width="1.4"/>
<line x1="287.30" y1="438.30" x2="510.00" y2="438.30" stroke="#1a1a1a" stroke-width="1.4"/>
<text x="0" y="0" font-size="7.4" fill="#262626" transform="translate(292.40 445.60) rotate(-47) scale(0.8 1)" text-anchor="end" stroke="#262626" stroke-width="0.3">TRBV10-1</text>
<text x="0" y="0" font-size="7.4" fill="#262626" transform="translate(301.07 445.60) rotate(-47) scale(0.8 1)" text-anchor="end" stroke="#262626" stroke-width="0.3">TRBV10-3</text>
<text x="0" y="0" font-size="7.4" fill="#262626" transform="translate(309.75 445.60) rotate(-47) scale(0.8 1)" text-anchor="end" stroke="#262626" stroke-width="0.3">TRBV11-2</text>
<text x="0" y="0" font-size="7.4" fill="#262626" transform="translate(318.42 445.60) rotate(-47) scale(0.8 1)" text-anchor="end" stroke="#262626" stroke-width="0.3">TRBV12-3</text>
<text x="0" y="0" font-size="7.4" fill="#262626" transform="translate(327.10 445.60) rotate(-47) scale(0.8 1)" text-anchor="end" stroke="#262626" stroke-width="0.3">TRBV12-5</text>
<text x="0" y="0" font-size="7.4" fill="#262626" transform="translate(335.77 445.60) rotate(-47) scale(0.8 1)" text-anchor="end" stroke="#262626" stroke-width="0.3">TRBV14</text>
<text x="0" y="0" font-size="7.4" fill="#262626" transform="translate(344.44 445.60) rotate(-47) scale(0.8 1)" text-anchor="end" stroke="#262626" stroke-width="0.3">TRBV18</text>
<text x="0" y="0" font-size="7.4" fill="#262626" transform="translate(353.12 445.60) rotate(-47) scale(0.8 1)" text-anchor="end" stroke="#262626" stroke-width="0.3">TRBV2</text>
<text x="0" y="0" font-size="7.4" fill="#262626" transform="translate(361.79 445.60) rotate(-47) scale(0.8 1)" text-anchor="end" stroke="#262626" stroke-width="0.3">TRBV21-1</text>
<text x="0" y="0" font-size="7.4" fill="#262626" transform="translate(370.47 445.60) rotate(-47) scale(0.8 1)" text-anchor="end" stroke="#262626" stroke-width="0.3">TRBV24-1</text>
<text x="0" y="0" font-size="7.4" fill="#262626" transform="translate(379.14 445.60) rotate(-47) scale(0.8 1)" text-anchor="end" stroke="#262626" stroke-width="0.3">TRBV27</text>
<text x="0" y="0" font-size="7.4" fill="#262626" transform="translate(387.81 445.60) rotate(-47) scale(0.8 1)" text-anchor="end" stroke="#262626" stroke-width="0.3">TRBV29-1</text>
<text x="0" y="0" font-size="7.4" fill="#262626" transform="translate(396.49 445.60) rotate(-47) scale(0.8 1)" text-anchor="end" stroke="#262626" stroke-width="0.3">TRBV30</text>
<text x="0" y="0" font-size="7.4" fill="#262626" transform="translate(405.16 445.60) rotate(-47) scale(0.8 1)" text-anchor="end" stroke="#262626" stroke-width="0.3">TRBV4-2</text>
<text x="0" y="0" font-size="7.4" fill="#262626" transform="translate(413.83 445.60) rotate(-47) scale(0.8 1)" text-anchor="end" stroke="#262626" stroke-width="0.3">TRBV5-3</text>
<text x="0" y="0" font-size="7.4" fill="#262626" transform="translate(422.51 445.60) rotate(-47) scale(0.8 1)" text-anchor="end" stroke="#262626" stroke-width="0.3">TRBV5-5</text>
<text x="0" y="0" font-size="7.4" fill="#262626" transform="translate(431.18 445.60) rotate(-47) scale(0.8 1)" text-anchor="end" stroke="#262626" stroke-width="0.3">TRBV5-6</text>
<text x="0" y="0" font-size="7.4" fill="#262626" transform="translate(439.86 445.60) rotate(-47) scale(0.8 1)" text-anchor="end" stroke="#262626" stroke-width="0.3">TRBV6-3</text>
<text x="0" y="0" font-size="7.4" fill="#262626" transform="translate(448.53 445.60) rotate(-47) scale(0.8 1)" text-anchor="end" stroke="#262626" stroke-width="0.3">TRBV6-5</text>
<text x="0" y="0" font-size="7.4" fill="#262626" transform="translate(457.20 445.60) rotate(-47) scale(0.8 1)" text-anchor="end" stroke="#262626" stroke-width="0.3">TRBV6-7</text>
<text x="0" y="0" font-size="7.4" fill="#262626" transform="translate(465.88 445.60) rotate(-47) scale(0.8 1)" text-anchor="end" stroke="#262626" stroke-width="0.3">TRBV7-2</text>
<text x="0" y="0" font-size="7.4" fill="#262626" transform="translate(474.55 445.60) rotate(-47) scale(0.8 1)" text-anchor="end" stroke="#262626" stroke-width="0.3">TRBV7-6</text>
<text x="0" y="0" font-size="7.4" fill="#262626" transform="translate(483.23 445.60) rotate(-47) scale(0.8 1)" text-anchor="end" stroke="#262626" stroke-width="0.3">TRBV7-8</text>
<text x="0" y="0" font-size="7.4" fill="#262626" transform="translate(491.90 445.60) rotate(-47) scale(0.8 1)" text-anchor="end" stroke="#262626" stroke-width="0.3">TRBV8-2</text>
<polygon points="37.05,573.75 56.25,558.25 252.50,558.25 232.50,573.75" fill="url(#hblue)" stroke="none" stroke-width="1" />
<line x1="56.25" y1="558.25" x2="252.50" y2="558.25" stroke="#9a9a9a" stroke-width="0.8"/>
<line x1="56.25" y1="558.25" x2="252.50" y2="558.25" stroke="#c8a088" stroke-width="0.8"/>
<line x1="36.25" y1="573.75" x2="56.25" y2="558.25" stroke="#8a8a8a" stroke-width="0.8"/>
<line x1="32.75" y1="573.75" x2="36.25" y2="573.75" stroke="#333" stroke-width="1"/>
<text x="31.65" y="576.25" font-size="7.0" fill="#444" text-anchor="end" stroke="#444" stroke-width="0.08">0</text>
<line x1="36.25" y1="561.25" x2="56.25" y2="545.75" stroke="#8a8a8a" stroke-width="0.8"/>
<line x1="56.25" y1="545.75" x2="252.50" y2="545.75" stroke="#8a8a8a" stroke-width="0.9"/>
<line x1="32.75" y1="561.25" x2="36.25" y2="561.25" stroke="#333" stroke-width="1"/>
<text x="31.65" y="563.75" font-size="7.0" fill="#444" text-anchor="end" stroke="#444" stroke-width="0.08">10</text>
<line x1="36.25" y1="548.75" x2="56.25" y2="533.25" stroke="#8a8a8a" stroke-width="0.8"/>
<line x1="56.25" y1="533.25" x2="252.50" y2="533.25" stroke="#8a8a8a" stroke-width="0.9"/>
<line x1="32.75" y1="548.75" x2="36.25" y2="548.75" stroke="#333" stroke-width="1"/>
<text x="31.65" y="551.25" font-size="7.0" fill="#444" text-anchor="end" stroke="#444" stroke-width="0.08">20</text>
<line x1="36.25" y1="536.25" x2="56.25" y2="520.75" stroke="#8a8a8a" stroke-width="0.8"/>
<line x1="56.25" y1="520.75" x2="252.50" y2="520.75" stroke="#8a8a8a" stroke-width="0.9"/>
<line x1="32.75" y1="536.25" x2="36.25" y2="536.25" stroke="#333" stroke-width="1"/>
<text x="31.65" y="538.75" font-size="7.0" fill="#444" text-anchor="end" stroke="#444" stroke-width="0.08">30</text>
<line x1="36.25" y1="532.00" x2="36.25" y2="574.45" stroke="#1a1a1a" stroke-width="1.4"/>
<line x1="36.25" y1="573.75" x2="254.20" y2="573.75" stroke="#1a1a1a" stroke-width="1.4"/>
<text x="0" y="0" font-size="7.9" fill="#262626" transform="translate(40.80 583.05) rotate(-44) scale(0.74 1)" text-anchor="end" stroke="#262626" stroke-width="0.3">TRBV10-1</text>
<text x="0" y="0" font-size="7.9" fill="#262626" transform="translate(50.81 583.05) rotate(-44) scale(0.74 1)" text-anchor="end" stroke="#262626" stroke-width="0.3">TRBV11-1</text>
<text x="0" y="0" font-size="7.9" fill="#262626" transform="translate(60.82 583.05) rotate(-44) scale(0.74 1)" text-anchor="end" stroke="#262626" stroke-width="0.3">TRBV11-3</text>
<text x="0" y="0" font-size="7.9" fill="#262626" transform="translate(70.83 583.05) rotate(-44) scale(0.74 1)" text-anchor="end" stroke="#262626" stroke-width="0.3">TRBV12-5</text>
<text x="0" y="0" font-size="7.9" fill="#262626" transform="translate(80.84 583.05) rotate(-44) scale(0.74 1)" text-anchor="end" stroke="#262626" stroke-width="0.3">TRBV14</text>
<text x="0" y="0" font-size="7.9" fill="#262626" transform="translate(90.85 583.05) rotate(-44) scale(0.74 1)" text-anchor="end" stroke="#262626" stroke-width="0.3">TRBV18</text>
<text x="0" y="0" font-size="7.9" fill="#262626" transform="translate(100.86 583.05) rotate(-44) scale(0.74 1)" text-anchor="end" stroke="#262626" stroke-width="0.3">TRBV2</text>
<text x="0" y="0" font-size="7.9" fill="#262626" transform="translate(110.87 583.05) rotate(-44) scale(0.74 1)" text-anchor="end" stroke="#262626" stroke-width="0.3">TRBV27</text>
<text x="0" y="0" font-size="7.9" fill="#262626" transform="translate(120.88 583.05) rotate(-44) scale(0.74 1)" text-anchor="end" stroke="#262626" stroke-width="0.3">TRBV29-1</text>
<text x="0" y="0" font-size="7.9" fill="#262626" transform="translate(130.89 583.05) rotate(-44) scale(0.74 1)" text-anchor="end" stroke="#262626" stroke-width="0.3">TRBV3-2</text>
<text x="0" y="0" font-size="7.9" fill="#262626" transform="translate(140.91 583.05) rotate(-44) scale(0.74 1)" text-anchor="end" stroke="#262626" stroke-width="0.3">TRBV4-1</text>
<text x="0" y="0" font-size="7.9" fill="#262626" transform="translate(150.92 583.05) rotate(-44) scale(0.74 1)" text-anchor="end" stroke="#262626" stroke-width="0.3">TRBV4-3</text>
<text x="0" y="0" font-size="7.9" fill="#262626" transform="translate(160.93 583.05) rotate(-44) scale(0.74 1)" text-anchor="end" stroke="#262626" stroke-width="0.3">TRBV5-4</text>
<text x="0" y="0" font-size="7.9" fill="#262626" transform="translate(170.94 583.05) rotate(-44) scale(0.74 1)" text-anchor="end" stroke="#262626" stroke-width="0.3">TRBV5-6</text>
<text x="0" y="0" font-size="7.9" fill="#262626" transform="translate(180.95 583.05) rotate(-44) scale(0.74 1)" text-anchor="end" stroke="#262626" stroke-width="0.3">TRBV6-3</text>
<text x="0" y="0" font-size="7.9" fill="#262626" transform="translate(190.96 583.05) rotate(-44) scale(0.74 1)" text-anchor="end" stroke="#262626" stroke-width="0.3">TRBV6-5</text>
<text x="0" y="0" font-size="7.9" fill="#262626" transform="translate(200.97 583.05) rotate(-44) scale(0.74 1)" text-anchor="end" stroke="#262626" stroke-width="0.3">TRBV6-8</text>
<text x="0" y="0" font-size="7.9" fill="#262626" transform="translate(210.98 583.05) rotate(-44) scale(0.74 1)" text-anchor="end" stroke="#262626" stroke-width="0.3">TRBV7-3</text>
<text x="0" y="0" font-size="7.9" fill="#262626" transform="translate(220.99 583.05) rotate(-44) scale(0.74 1)" text-anchor="end" stroke="#262626" stroke-width="0.3">TRBV7-8</text>
<text x="0" y="0" font-size="7.9" fill="#262626" transform="translate(231.00 583.05) rotate(-44) scale(0.74 1)" text-anchor="end" stroke="#262626" stroke-width="0.3">TRBV9</text>
<polygon points="282.70,571.30 300.60,557.30 511.70,557.30 493.00,571.30" fill="url(#hgray)" stroke="none" stroke-width="1" />
<line x1="281.90" y1="571.30" x2="300.60" y2="557.30" stroke="#8a8a8a" stroke-width="0.8"/>
<line x1="300.60" y1="557.30" x2="511.50" y2="557.30" stroke="#999" stroke-width="0.8"/>
<line x1="278.40" y1="571.30" x2="281.90" y2="571.30" stroke="#333" stroke-width="1"/>
<text x="277.30" y="573.80" font-size="7.0" fill="#444" text-anchor="end" stroke="#444" stroke-width="0.08">0</text>
<line x1="281.90" y1="562.20" x2="300.60" y2="548.20" stroke="#8a8a8a" stroke-width="0.8"/>
<line x1="300.60" y1="548.20" x2="511.50" y2="548.20" stroke="#8a8a8a" stroke-width="0.9"/>
<line x1="278.40" y1="562.20" x2="281.90" y2="562.20" stroke="#333" stroke-width="1"/>
<text x="277.30" y="564.70" font-size="7.0" fill="#444" text-anchor="end" stroke="#444" stroke-width="0.08">0.5</text>
<line x1="281.90" y1="553.10" x2="300.60" y2="539.10" stroke="#8a8a8a" stroke-width="0.8"/>
<line x1="300.60" y1="539.10" x2="511.50" y2="539.10" stroke="#8a8a8a" stroke-width="0.9"/>
<line x1="278.40" y1="553.10" x2="281.90" y2="553.10" stroke="#333" stroke-width="1"/>
<text x="277.30" y="555.60" font-size="7.0" fill="#444" text-anchor="end" stroke="#444" stroke-width="0.08">1</text>
<line x1="281.90" y1="544.00" x2="300.60" y2="530.00" stroke="#8a8a8a" stroke-width="0.8"/>
<line x1="300.60" y1="530.00" x2="511.50" y2="530.00" stroke="#8a8a8a" stroke-width="0.9"/>
<line x1="278.40" y1="544.00" x2="281.90" y2="544.00" stroke="#333" stroke-width="1"/>
<text x="277.30" y="546.50" font-size="7.0" fill="#444" text-anchor="end" stroke="#444" stroke-width="0.08">1.5</text>
<line x1="281.90" y1="534.90" x2="300.60" y2="520.90" stroke="#8a8a8a" stroke-width="0.8"/>
<line x1="300.60" y1="520.90" x2="511.50" y2="520.90" stroke="#8a8a8a" stroke-width="0.9"/>
<line x1="278.40" y1="534.90" x2="281.90" y2="534.90" stroke="#333" stroke-width="1"/>
<text x="277.30" y="537.40" font-size="7.0" fill="#444" text-anchor="end" stroke="#444" stroke-width="0.08">2</text>
<line x1="281.90" y1="525.80" x2="300.60" y2="511.80" stroke="#8a8a8a" stroke-width="0.8"/>
<line x1="300.60" y1="511.80" x2="511.50" y2="511.80" stroke="#8a8a8a" stroke-width="0.9"/>
<line x1="278.40" y1="525.80" x2="281.90" y2="525.80" stroke="#333" stroke-width="1"/>
<text x="277.30" y="528.30" font-size="7.0" fill="#444" text-anchor="end" stroke="#444" stroke-width="0.08">2.5</text>
<line x1="281.90" y1="511.70" x2="281.90" y2="572.00" stroke="#1a1a1a" stroke-width="1.4"/>
<line x1="281.90" y1="571.30" x2="512.00" y2="571.30" stroke="#1a1a1a" stroke-width="1.4"/>
<text x="0" y="0" font-size="7.4" fill="#262626" transform="translate(286.40 578.40) rotate(-47) scale(0.8 1)" text-anchor="end" stroke="#262626" stroke-width="0.3">TRBV10-1</text>
<text x="0" y="0" font-size="7.4" fill="#262626" transform="translate(294.87 578.40) rotate(-47) scale(0.8 1)" text-anchor="end" stroke="#262626" stroke-width="0.3">TRBV10-3</text>
<text x="0" y="0" font-size="7.4" fill="#262626" transform="translate(303.34 578.40) rotate(-47) scale(0.8 1)" text-anchor="end" stroke="#262626" stroke-width="0.3">TRBV11-2</text>
<text x="0" y="0" font-size="7.4" fill="#262626" transform="translate(311.81 578.40) rotate(-47) scale(0.8 1)" text-anchor="end" stroke="#262626" stroke-width="0.3">TRBV12-3</text>
<text x="0" y="0" font-size="7.4" fill="#262626" transform="translate(320.28 578.40) rotate(-47) scale(0.8 1)" text-anchor="end" stroke="#262626" stroke-width="0.3">TRBV12-5</text>
<text x="0" y="0" font-size="7.4" fill="#262626" transform="translate(328.75 578.40) rotate(-47) scale(0.8 1)" text-anchor="end" stroke="#262626" stroke-width="0.3">TRBV14</text>
<text x="0" y="0" font-size="7.4" fill="#262626" transform="translate(337.22 578.40) rotate(-47) scale(0.8 1)" text-anchor="end" stroke="#262626" stroke-width="0.3">TRBV18</text>
<text x="0" y="0" font-size="7.4" fill="#262626" transform="translate(345.70 578.40) rotate(-47) scale(0.8 1)" text-anchor="end" stroke="#262626" stroke-width="0.3">TRBV2</text>
<text x="0" y="0" font-size="7.4" fill="#262626" transform="translate(354.17 578.40) rotate(-47) scale(0.8 1)" text-anchor="end" stroke="#262626" stroke-width="0.3">TRBV21-1</text>
<text x="0" y="0" font-size="7.4" fill="#262626" transform="translate(362.64 578.40) rotate(-47) scale(0.8 1)" text-anchor="end" stroke="#262626" stroke-width="0.3">TRBV24-1</text>
<text x="0" y="0" font-size="7.4" fill="#262626" transform="translate(371.11 578.40) rotate(-47) scale(0.8 1)" text-anchor="end" stroke="#262626" stroke-width="0.3">TRBV27</text>
<text x="0" y="0" font-size="7.4" fill="#262626" transform="translate(379.58 578.40) rotate(-47) scale(0.8 1)" text-anchor="end" stroke="#262626" stroke-width="0.3">TRBV29-1</text>
<text x="0" y="0" font-size="7.4" fill="#262626" transform="translate(388.05 578.40) rotate(-47) scale(0.8 1)" text-anchor="end" stroke="#262626" stroke-width="0.3">TRBV3-1</text>
<text x="0" y="0" font-size="7.4" fill="#262626" transform="translate(396.52 578.40) rotate(-47) scale(0.8 1)" text-anchor="end" stroke="#262626" stroke-width="0.3">TRBV4-1</text>
<text x="0" y="0" font-size="7.4" fill="#262626" transform="translate(404.99 578.40) rotate(-47) scale(0.8 1)" text-anchor="end" stroke="#262626" stroke-width="0.3">TRBV4-3</text>
<text x="0" y="0" font-size="7.4" fill="#262626" transform="translate(413.46 578.40) rotate(-47) scale(0.8 1)" text-anchor="end" stroke="#262626" stroke-width="0.3">TRBV5-1</text>
<text x="0" y="0" font-size="7.4" fill="#262626" transform="translate(421.93 578.40) rotate(-47) scale(0.8 1)" text-anchor="end" stroke="#262626" stroke-width="0.3">TRBV5-5</text>
<text x="0" y="0" font-size="7.4" fill="#262626" transform="translate(430.40 578.40) rotate(-47) scale(0.8 1)" text-anchor="end" stroke="#262626" stroke-width="0.3">TRBV5-6</text>
<text x="0" y="0" font-size="7.4" fill="#262626" transform="translate(438.88 578.40) rotate(-47) scale(0.8 1)" text-anchor="end" stroke="#262626" stroke-width="0.3">TRBV6-1</text>
<text x="0" y="0" font-size="7.4" fill="#262626" transform="translate(447.35 578.40) rotate(-47) scale(0.8 1)" text-anchor="end" stroke="#262626" stroke-width="0.3">TRBV6-5</text>
<text x="0" y="0" font-size="7.4" fill="#262626" transform="translate(455.82 578.40) rotate(-47) scale(0.8 1)" text-anchor="end" stroke="#262626" stroke-width="0.3">TRBV6-6</text>
<text x="0" y="0" font-size="7.4" fill="#262626" transform="translate(464.29 578.40) rotate(-47) scale(0.8 1)" text-anchor="end" stroke="#262626" stroke-width="0.3">TRBV7-2</text>
<text x="0" y="0" font-size="7.4" fill="#262626" transform="translate(472.76 578.40) rotate(-47) scale(0.8 1)" text-anchor="end" stroke="#262626" stroke-width="0.3">TRBV7-3</text>
<text x="0" y="0" font-size="7.4" fill="#262626" transform="translate(481.23 578.40) rotate(-47) scale(0.8 1)" text-anchor="end" stroke="#262626" stroke-width="0.3">TRBV7-7</text>
<text x="0" y="0" font-size="7.4" fill="#262626" transform="translate(489.70 578.40) rotate(-47) scale(0.8 1)" text-anchor="end" stroke="#262626" stroke-width="0.3">TRBV7-9</text>
<text x="264.60" y="506.20" font-size="8.6" fill="#EF9A70" text-anchor="middle" textLength="32.80" lengthAdjust="spacingAndGlyphs" stroke="#EF9A70" stroke-width="0.22">Patient 4</text>
<rect x="59.30" y="336.70" width="4.00" height="4.00" fill="#D9605F" />
<text x="66.80" y="341.30" font-size="6.8" fill="#3a3a3a" textLength="24.00" lengthAdjust="spacingAndGlyphs" stroke="#3a3a3a" stroke-width="0.05">TRBJ1-1</text>
<rect x="98.20" y="336.70" width="4.00" height="4.00" fill="#8E80CC" />
<text x="105.70" y="341.30" font-size="6.8" fill="#3a3a3a" textLength="24.00" lengthAdjust="spacingAndGlyphs" stroke="#3a3a3a" stroke-width="0.05">TRBJ1-2</text>
<rect x="137.10" y="336.70" width="4.00" height="4.00" fill="#F0A060" />
<text x="144.60" y="341.30" font-size="6.8" fill="#3a3a3a" textLength="24.00" lengthAdjust="spacingAndGlyphs" stroke="#3a3a3a" stroke-width="0.05">TRBJ1-3</text>
<rect x="176.00" y="336.70" width="4.00" height="4.00" fill="#842430" />
<text x="183.50" y="341.30" font-size="6.8" fill="#3a3a3a" textLength="24.00" lengthAdjust="spacingAndGlyphs" stroke="#3a3a3a" stroke-width="0.05">TRBJ1-4</text>
<rect x="59.30" y="344.45" width="4.00" height="4.00" fill="#4B2F6C" />
<text x="66.80" y="349.05" font-size="6.8" fill="#3a3a3a" textLength="24.00" lengthAdjust="spacingAndGlyphs" stroke="#3a3a3a" stroke-width="0.05">TRBJ1-5</text>
<rect x="98.20" y="344.45" width="4.00" height="4.00" fill="#E06C1A" />
<text x="105.70" y="349.05" font-size="6.8" fill="#3a3a3a" textLength="24.00" lengthAdjust="spacingAndGlyphs" stroke="#3a3a3a" stroke-width="0.05">TRBJ1-6</text>
<rect x="137.10" y="344.45" width="4.00" height="4.00" fill="#E8928F" />
<text x="144.60" y="349.05" font-size="6.8" fill="#3a3a3a" textLength="24.00" lengthAdjust="spacingAndGlyphs" stroke="#3a3a3a" stroke-width="0.05">TRBJ2-1</text>
<rect x="176.00" y="344.45" width="4.00" height="4.00" fill="#BBA6CC" />
<text x="183.50" y="349.05" font-size="6.8" fill="#3a3a3a" textLength="24.00" lengthAdjust="spacingAndGlyphs" stroke="#3a3a3a" stroke-width="0.05">TRBJ2-2</text>
<rect x="59.30" y="352.20" width="4.00" height="4.00" fill="#F0B488" />
<text x="66.80" y="356.80" font-size="6.8" fill="#3a3a3a" textLength="24.00" lengthAdjust="spacingAndGlyphs" stroke="#3a3a3a" stroke-width="0.05">TRBJ1-3</text>
<rect x="98.20" y="352.20" width="4.00" height="4.00" fill="#C23452" />
<text x="105.70" y="356.80" font-size="6.8" fill="#3a3a3a" textLength="24.00" lengthAdjust="spacingAndGlyphs" stroke="#3a3a3a" stroke-width="0.05">TRBJ1-5</text>
<rect x="137.10" y="352.20" width="4.00" height="4.00" fill="#6B5F95" />
<text x="144.60" y="356.80" font-size="6.8" fill="#3a3a3a" textLength="24.00" lengthAdjust="spacingAndGlyphs" stroke="#3a3a3a" stroke-width="0.05">TRBJ2-6</text>
<rect x="176.00" y="352.20" width="4.00" height="4.00" fill="#E58A30" />
<text x="183.50" y="356.80" font-size="6.8" fill="#3a3a3a" textLength="24.00" lengthAdjust="spacingAndGlyphs" stroke="#3a3a3a" stroke-width="0.05">TRBJ2-7</text>
<rect x="300.80" y="334.60" width="4.00" height="4.00" fill="#2A86B8" />
<text x="308.30" y="339.20" font-size="6.8" fill="#3a3a3a" textLength="24.00" lengthAdjust="spacingAndGlyphs" stroke="#3a3a3a" stroke-width="0.05">TRBJ1-1</text>
<rect x="339.70" y="334.60" width="4.00" height="4.00" fill="#D86060" />
<text x="347.20" y="339.20" font-size="6.8" fill="#3a3a3a" textLength="24.00" lengthAdjust="spacingAndGlyphs" stroke="#3a3a3a" stroke-width="0.05">TRBJ1-2</text>
<rect x="378.60" y="334.60" width="4.00" height="4.00" fill="#A0C870" />
<text x="386.10" y="339.20" font-size="6.8" fill="#3a3a3a" textLength="24.00" lengthAdjust="spacingAndGlyphs" stroke="#3a3a3a" stroke-width="0.05">TRBJ1-3</text>
<rect x="417.50" y="334.60" width="4.00" height="4.00" fill="#9A88C0" />
<text x="425.00" y="339.20" font-size="6.8" fill="#3a3a3a" textLength="24.00" lengthAdjust="spacingAndGlyphs" stroke="#3a3a3a" stroke-width="0.05">TRBJ1-4</text>
<rect x="456.40" y="334.60" width="4.00" height="4.00" fill="#20A8A8" />
<text x="463.90" y="339.20" font-size="6.8" fill="#3a3a3a" textLength="24.00" lengthAdjust="spacingAndGlyphs" stroke="#3a3a3a" stroke-width="0.05">TRBJ1-5</text>
<rect x="300.80" y="342.10" width="4.00" height="4.00" fill="#F09050" />
<text x="308.30" y="346.70" font-size="6.8" fill="#3a3a3a" textLength="24.00" lengthAdjust="spacingAndGlyphs" stroke="#3a3a3a" stroke-width="0.05">TRBJ1-6</text>
<rect x="339.70" y="342.10" width="4.00" height="4.00" fill="#1F4A78" />
<text x="347.20" y="346.70" font-size="6.8" fill="#3a3a3a" textLength="24.00" lengthAdjust="spacingAndGlyphs" stroke="#3a3a3a" stroke-width="0.05">TRBJ2-1</text>
<rect x="378.60" y="342.10" width="4.00" height="4.00" fill="#8B2030" />
<text x="386.10" y="346.70" font-size="6.8" fill="#3a3a3a" textLength="24.00" lengthAdjust="spacingAndGlyphs" stroke="#3a3a3a" stroke-width="0.05">TRBJ2-2</text>
<rect x="417.50" y="342.10" width="4.00" height="4.00" fill="#6A8A40" />
<text x="425.00" y="346.70" font-size="6.8" fill="#3a3a3a" textLength="24.00" lengthAdjust="spacingAndGlyphs" stroke="#3a3a3a" stroke-width="0.05">TRBJ2-3</text>
<rect x="456.40" y="342.10" width="4.00" height="4.00" fill="#5A3A6A" />
<text x="463.90" y="346.70" font-size="6.8" fill="#3a3a3a" textLength="24.00" lengthAdjust="spacingAndGlyphs" stroke="#3a3a3a" stroke-width="0.05">TRBJ2-4</text>
<rect x="300.80" y="349.60" width="4.00" height="4.00" fill="#1F6A80" />
<text x="308.30" y="354.20" font-size="6.8" fill="#3a3a3a" textLength="24.00" lengthAdjust="spacingAndGlyphs" stroke="#3a3a3a" stroke-width="0.05">TRBJ2-5</text>
<rect x="339.70" y="349.60" width="4.00" height="4.00" fill="#E07028" />
<text x="347.20" y="354.20" font-size="6.8" fill="#3a3a3a" textLength="24.00" lengthAdjust="spacingAndGlyphs" stroke="#3a3a3a" stroke-width="0.05">TRBJ2-6</text>
<rect x="378.60" y="349.60" width="4.00" height="4.00" fill="#80AED8" />
<text x="386.10" y="354.20" font-size="6.8" fill="#3a3a3a" textLength="24.00" lengthAdjust="spacingAndGlyphs" stroke="#3a3a3a" stroke-width="0.05">TRBJ2-7</text>
<rect x="65.40" y="474.70" width="4.00" height="4.00" fill="#D9605F" />
<text x="72.90" y="479.30" font-size="6.8" fill="#3a3a3a" textLength="24.00" lengthAdjust="spacingAndGlyphs" stroke="#3a3a3a" stroke-width="0.05">TRBJ1-1</text>
<rect x="104.40" y="474.70" width="4.00" height="4.00" fill="#9A86CC" />
<text x="111.90" y="479.30" font-size="6.8" fill="#3a3a3a" textLength="24.00" lengthAdjust="spacingAndGlyphs" stroke="#3a3a3a" stroke-width="0.05">TRBJ1-2</text>
<rect x="143.40" y="474.70" width="4.00" height="4.00" fill="#F0A060" />
<text x="150.90" y="479.30" font-size="6.8" fill="#3a3a3a" textLength="24.00" lengthAdjust="spacingAndGlyphs" stroke="#3a3a3a" stroke-width="0.05">TRBJ1-3</text>
<rect x="182.40" y="474.70" width="4.00" height="4.00" fill="#7A2030" />
<text x="189.90" y="479.30" font-size="6.8" fill="#3a3a3a" textLength="24.00" lengthAdjust="spacingAndGlyphs" stroke="#3a3a3a" stroke-width="0.05">TRBJ1-4</text>
<rect x="65.40" y="482.45" width="4.00" height="4.00" fill="#4B2F6C" />
<text x="72.90" y="487.05" font-size="6.8" fill="#3a3a3a" textLength="24.00" lengthAdjust="spacingAndGlyphs" stroke="#3a3a3a" stroke-width="0.05">TRBJ1-5</text>
<rect x="104.40" y="482.45" width="4.00" height="4.00" fill="#E06C1A" />
<text x="111.90" y="487.05" font-size="6.8" fill="#3a3a3a" textLength="24.00" lengthAdjust="spacingAndGlyphs" stroke="#3a3a3a" stroke-width="0.05">TRBJ1-6</text>
<rect x="143.40" y="482.45" width="4.00" height="4.00" fill="#E8928F" />
<text x="150.90" y="487.05" font-size="6.8" fill="#3a3a3a" textLength="24.00" lengthAdjust="spacingAndGlyphs" stroke="#3a3a3a" stroke-width="0.05">TRBJ2-1</text>
<rect x="182.40" y="482.45" width="4.00" height="4.00" fill="#C8A8D8" />
<text x="189.90" y="487.05" font-size="6.8" fill="#3a3a3a" textLength="24.00" lengthAdjust="spacingAndGlyphs" stroke="#3a3a3a" stroke-width="0.05">TRBJ2-2</text>
<rect x="65.40" y="490.20" width="4.00" height="4.00" fill="#F0B488" />
<text x="72.90" y="494.80" font-size="6.8" fill="#3a3a3a" textLength="24.00" lengthAdjust="spacingAndGlyphs" stroke="#3a3a3a" stroke-width="0.05">TRBJ1-3</text>
<rect x="104.40" y="490.20" width="4.00" height="4.00" fill="#C23452" />
<text x="111.90" y="494.80" font-size="6.8" fill="#3a3a3a" textLength="24.00" lengthAdjust="spacingAndGlyphs" stroke="#3a3a3a" stroke-width="0.05">TRBJ1-5</text>
<rect x="143.40" y="490.20" width="4.00" height="4.00" fill="#6B5F95" />
<text x="150.90" y="494.80" font-size="6.8" fill="#3a3a3a" textLength="24.00" lengthAdjust="spacingAndGlyphs" stroke="#3a3a3a" stroke-width="0.05">TRBJ2-6</text>
<rect x="182.40" y="490.20" width="4.00" height="4.00" fill="#E58A30" />
<text x="189.90" y="494.80" font-size="6.8" fill="#3a3a3a" textLength="24.00" lengthAdjust="spacingAndGlyphs" stroke="#3a3a3a" stroke-width="0.05">TRBJ2-7</text>
<rect x="309.30" y="472.30" width="4.00" height="4.00" fill="#2A86B8" />
<text x="316.80" y="476.90" font-size="6.8" fill="#3a3a3a" textLength="24.00" lengthAdjust="spacingAndGlyphs" stroke="#3a3a3a" stroke-width="0.05">TRBJ1-1</text>
<rect x="348.30" y="472.30" width="4.00" height="4.00" fill="#D86060" />
<text x="355.80" y="476.90" font-size="6.8" fill="#3a3a3a" textLength="24.00" lengthAdjust="spacingAndGlyphs" stroke="#3a3a3a" stroke-width="0.05">TRBJ1-2</text>
<rect x="387.30" y="472.30" width="4.00" height="4.00" fill="#A0C870" />
<text x="394.80" y="476.90" font-size="6.8" fill="#3a3a3a" textLength="24.00" lengthAdjust="spacingAndGlyphs" stroke="#3a3a3a" stroke-width="0.05">TRBJ1-3</text>
<rect x="426.30" y="472.30" width="4.00" height="4.00" fill="#9A88C0" />
<text x="433.80" y="476.90" font-size="6.8" fill="#3a3a3a" textLength="24.00" lengthAdjust="spacingAndGlyphs" stroke="#3a3a3a" stroke-width="0.05">TRBJ1-4</text>
<rect x="309.30" y="479.90" width="4.00" height="4.00" fill="#20A8B8" />
<text x="316.80" y="484.50" font-size="6.8" fill="#3a3a3a" textLength="24.00" lengthAdjust="spacingAndGlyphs" stroke="#3a3a3a" stroke-width="0.05">TRBJ1-5</text>
<rect x="348.30" y="479.90" width="4.00" height="4.00" fill="#F09050" />
<text x="355.80" y="484.50" font-size="6.8" fill="#3a3a3a" textLength="24.00" lengthAdjust="spacingAndGlyphs" stroke="#3a3a3a" stroke-width="0.05">TRBJ1-6</text>
<rect x="387.30" y="479.90" width="4.00" height="4.00" fill="#1F4A78" />
<text x="394.80" y="484.50" font-size="6.8" fill="#3a3a3a" textLength="24.00" lengthAdjust="spacingAndGlyphs" stroke="#3a3a3a" stroke-width="0.05">TRBJ2-1</text>
<rect x="426.30" y="479.90" width="4.00" height="4.00" fill="#8B2030" />
<text x="433.80" y="484.50" font-size="6.8" fill="#3a3a3a" textLength="24.00" lengthAdjust="spacingAndGlyphs" stroke="#3a3a3a" stroke-width="0.05">TRBJ2-2</text>
<rect x="309.30" y="487.50" width="4.00" height="4.00" fill="#6A8A40" />
<text x="316.80" y="492.10" font-size="6.8" fill="#3a3a3a" textLength="24.00" lengthAdjust="spacingAndGlyphs" stroke="#3a3a3a" stroke-width="0.05">TRBJ2-3</text>
<rect x="348.30" y="487.50" width="4.00" height="4.00" fill="#4A3A78" />
<text x="355.80" y="492.10" font-size="6.8" fill="#3a3a3a" textLength="24.00" lengthAdjust="spacingAndGlyphs" stroke="#3a3a3a" stroke-width="0.05">TRBJ2-4</text>
<rect x="387.30" y="487.50" width="4.00" height="4.00" fill="#1F6A80" />
<text x="394.80" y="492.10" font-size="6.8" fill="#3a3a3a" textLength="24.00" lengthAdjust="spacingAndGlyphs" stroke="#3a3a3a" stroke-width="0.05">TRBJ2-5</text>
<rect x="426.30" y="487.50" width="4.00" height="4.00" fill="#E07028" />
<text x="433.80" y="492.10" font-size="6.8" fill="#3a3a3a" textLength="24.00" lengthAdjust="spacingAndGlyphs" stroke="#3a3a3a" stroke-width="0.05">TRBJ2-6</text>
<rect x="66.20" y="607.70" width="4.00" height="4.00" fill="#2B8FC8" />
<text x="73.70" y="612.30" font-size="6.8" fill="#3a3a3a" textLength="24.00" lengthAdjust="spacingAndGlyphs" stroke="#3a3a3a" stroke-width="0.05">TRBJ1-1</text>
<rect x="105.10" y="607.70" width="4.00" height="4.00" fill="#E06070" />
<text x="112.60" y="612.30" font-size="6.8" fill="#3a3a3a" textLength="24.00" lengthAdjust="spacingAndGlyphs" stroke="#3a3a3a" stroke-width="0.05">TRBJ1-2</text>
<rect x="144.00" y="607.70" width="4.00" height="4.00" fill="#9AC860" />
<text x="151.50" y="612.30" font-size="6.8" fill="#3a3a3a" textLength="24.00" lengthAdjust="spacingAndGlyphs" stroke="#3a3a3a" stroke-width="0.05">TRBJ1-3</text>
<rect x="182.90" y="607.70" width="4.00" height="4.00" fill="#A070C0" />
<text x="190.40" y="612.30" font-size="6.8" fill="#3a3a3a" textLength="24.00" lengthAdjust="spacingAndGlyphs" stroke="#3a3a3a" stroke-width="0.05">TRBJ1-4</text>
<rect x="66.20" y="615.20" width="4.00" height="4.00" fill="#20B0C0" />
<text x="73.70" y="619.80" font-size="6.8" fill="#3a3a3a" textLength="24.00" lengthAdjust="spacingAndGlyphs" stroke="#3a3a3a" stroke-width="0.05">TRBJ1-5</text>
<rect x="105.10" y="615.20" width="4.00" height="4.00" fill="#F09040" />
<text x="112.60" y="619.80" font-size="6.8" fill="#3a3a3a" textLength="24.00" lengthAdjust="spacingAndGlyphs" stroke="#3a3a3a" stroke-width="0.05">TRBJ1-6</text>
<rect x="144.00" y="615.20" width="4.00" height="4.00" fill="#1F4A70" />
<text x="151.50" y="619.80" font-size="6.8" fill="#3a3a3a" textLength="24.00" lengthAdjust="spacingAndGlyphs" stroke="#3a3a3a" stroke-width="0.05">TRBJ2-1</text>
<rect x="182.90" y="615.20" width="4.00" height="4.00" fill="#8B2030" />
<text x="190.40" y="619.80" font-size="6.8" fill="#3a3a3a" textLength="24.00" lengthAdjust="spacingAndGlyphs" stroke="#3a3a3a" stroke-width="0.05">TRBJ2-2</text>
<rect x="66.20" y="622.70" width="4.00" height="4.00" fill="#6A8A40" />
<text x="73.70" y="627.30" font-size="6.8" fill="#3a3a3a" textLength="24.00" lengthAdjust="spacingAndGlyphs" stroke="#3a3a3a" stroke-width="0.05">TRBJ2-3</text>
<rect x="105.10" y="622.70" width="4.00" height="4.00" fill="#4A4080" />
<text x="112.60" y="627.30" font-size="6.8" fill="#3a3a3a" textLength="24.00" lengthAdjust="spacingAndGlyphs" stroke="#3a3a3a" stroke-width="0.05">TRBJ2-5</text>
<rect x="144.00" y="622.70" width="4.00" height="4.00" fill="#1F6A80" />
<text x="151.50" y="627.30" font-size="6.8" fill="#3a3a3a" textLength="24.00" lengthAdjust="spacingAndGlyphs" stroke="#3a3a3a" stroke-width="0.05">TRBJ2-6</text>
<rect x="182.90" y="622.70" width="4.00" height="4.00" fill="#E06010" />
<text x="190.40" y="627.30" font-size="6.8" fill="#3a3a3a" textLength="24.00" lengthAdjust="spacingAndGlyphs" stroke="#3a3a3a" stroke-width="0.05">TRBJ2-7</text>
<rect x="308.30" y="605.30" width="4.00" height="4.00" fill="#2A86B8" />
<text x="315.80" y="609.90" font-size="6.8" fill="#3a3a3a" textLength="24.00" lengthAdjust="spacingAndGlyphs" stroke="#3a3a3a" stroke-width="0.05">TRBJ1-1</text>
<rect x="347.20" y="605.30" width="4.00" height="4.00" fill="#E05A5A" />
<text x="354.70" y="609.90" font-size="6.8" fill="#3a3a3a" textLength="24.00" lengthAdjust="spacingAndGlyphs" stroke="#3a3a3a" stroke-width="0.05">TRBJ1-2</text>
<rect x="386.10" y="605.30" width="4.00" height="4.00" fill="#A8C880" />
<text x="393.60" y="609.90" font-size="6.8" fill="#3a3a3a" textLength="24.00" lengthAdjust="spacingAndGlyphs" stroke="#3a3a3a" stroke-width="0.05">TRBJ1-3</text>
<rect x="425.00" y="605.30" width="4.00" height="4.00" fill="#9A80C0" />
<text x="432.50" y="609.90" font-size="6.8" fill="#3a3a3a" textLength="24.00" lengthAdjust="spacingAndGlyphs" stroke="#3a3a3a" stroke-width="0.05">TRBJ1-4</text>
<rect x="308.30" y="613.20" width="4.00" height="4.00" fill="#20A8B8" />
<text x="315.80" y="617.80" font-size="6.8" fill="#3a3a3a" textLength="24.00" lengthAdjust="spacingAndGlyphs" stroke="#3a3a3a" stroke-width="0.05">TRBJ1-5</text>
<rect x="347.20" y="613.20" width="4.00" height="4.00" fill="#F08850" />
<text x="354.70" y="617.80" font-size="6.8" fill="#3a3a3a" textLength="24.00" lengthAdjust="spacingAndGlyphs" stroke="#3a3a3a" stroke-width="0.05">TRBJ1-6</text>
<rect x="386.10" y="613.20" width="4.00" height="4.00" fill="#1F4A70" />
<text x="393.60" y="617.80" font-size="6.8" fill="#3a3a3a" textLength="24.00" lengthAdjust="spacingAndGlyphs" stroke="#3a3a3a" stroke-width="0.05">TRBJ2-1</text>
<rect x="425.00" y="613.20" width="4.00" height="4.00" fill="#8B2025" />
<text x="432.50" y="617.80" font-size="6.8" fill="#3a3a3a" textLength="24.00" lengthAdjust="spacingAndGlyphs" stroke="#3a3a3a" stroke-width="0.05">TRBJ2-2</text>
<rect x="308.30" y="621.10" width="4.00" height="4.00" fill="#6A8040" />
<text x="315.80" y="625.70" font-size="6.8" fill="#3a3a3a" textLength="24.00" lengthAdjust="spacingAndGlyphs" stroke="#3a3a3a" stroke-width="0.05">TRBJ2-3</text>
<rect x="347.20" y="621.10" width="4.00" height="4.00" fill="#4A3A80" />
<text x="354.70" y="625.70" font-size="6.8" fill="#3a3a3a" textLength="24.00" lengthAdjust="spacingAndGlyphs" stroke="#3a3a3a" stroke-width="0.05">TRBJ2-4</text>
<rect x="386.10" y="621.10" width="4.00" height="4.00" fill="#1F6A80" />
<text x="393.60" y="625.70" font-size="6.8" fill="#3a3a3a" textLength="24.00" lengthAdjust="spacingAndGlyphs" stroke="#3a3a3a" stroke-width="0.05">TRBJ2-5</text>
<rect x="425.00" y="621.10" width="4.00" height="4.00" fill="#E0702A" />
<text x="432.50" y="625.70" font-size="6.8" fill="#3a3a3a" textLength="24.00" lengthAdjust="spacingAndGlyphs" stroke="#3a3a3a" stroke-width="0.05">TRBJ2-6</text>
<rect x="308.30" y="629.00" width="4.00" height="4.00" fill="#8AB0D8" />
<text x="315.80" y="633.60" font-size="6.8" fill="#3a3a3a" textLength="24.00" lengthAdjust="spacingAndGlyphs" stroke="#3a3a3a" stroke-width="0.05">TRBJ2-7</text>
<text x="101.20" y="641.90" font-size="8.2" fill="#333" textLength="39.60" lengthAdjust="spacingAndGlyphs" stroke="#333" stroke-width="0.22">Isolated CD8</text>
<text x="141.30" y="638.60" font-size="5.5" fill="#333" stroke="#333" stroke-width="0.22">+</text>
<text x="145.00" y="641.90" font-size="8.2" fill="#333" textLength="32.50" lengthAdjust="spacingAndGlyphs" stroke="#333" stroke-width="0.22">TEMRA cells</text>
<rect x="308.89" y="285.89" width="2.00" height="1.05" fill="#80AED8" />
<rect x="310.19" y="285.89" width="0.70" height="1.05" fill="#5c7d9b" />
<rect x="317.11" y="278.87" width="2.00" height="8.07" fill="#80AED8" />
<rect x="318.41" y="278.87" width="0.70" height="8.07" fill="#5c7d9b" />
<rect x="325.41" y="283.80" width="2.00" height="3.14" fill="#80AED8" />
<rect x="326.71" y="283.80" width="0.70" height="3.14" fill="#5c7d9b" />
<rect x="333.14" y="284.73" width="2.00" height="2.21" fill="#80AED8" />
<rect x="334.44" y="284.73" width="0.70" height="2.21" fill="#5c7d9b" />
<rect x="349.69" y="285.19" width="2.00" height="1.75" fill="#80AED8" />
<rect x="350.99" y="285.19" width="0.70" height="1.75" fill="#5c7d9b" />
<rect x="406.30" y="282.91" width="2.00" height="4.03" fill="#80AED8" />
<rect x="407.60" y="282.91" width="0.70" height="4.03" fill="#5c7d9b" />
<rect x="414.26" y="285.60" width="2.00" height="1.34" fill="#80AED8" />
<rect x="415.56" y="285.60" width="0.70" height="1.34" fill="#5c7d9b" />
<rect x="422.54" y="284.98" width="2.00" height="1.96" fill="#80AED8" />
<rect x="423.84" y="284.98" width="0.70" height="1.96" fill="#5c7d9b" />
<rect x="438.53" y="282.66" width="2.00" height="4.28" fill="#80AED8" />
<rect x="439.83" y="282.66" width="0.70" height="4.28" fill="#5c7d9b" />
<rect x="446.69" y="280.20" width="2.00" height="6.74" fill="#80AED8" />
<rect x="447.99" y="280.20" width="0.70" height="6.74" fill="#5c7d9b" />
<rect x="462.97" y="286.11" width="2.00" height="0.83" fill="#80AED8" />
<rect x="464.27" y="286.11" width="0.70" height="0.83" fill="#5c7d9b" />
<rect x="486.87" y="284.57" width="2.00" height="2.37" fill="#80AED8" />
<rect x="488.17" y="284.57" width="0.70" height="2.37" fill="#5c7d9b" />
<rect x="396.00" y="272.90" width="2.00" height="14.04" fill="#80AED8" />
<rect x="397.30" y="272.90" width="0.70" height="14.04" fill="#5c7d9b" />
<rect x="424.50" y="278.00" width="2.00" height="8.94" fill="#80AED8" />
<rect x="425.80" y="278.00" width="0.70" height="8.94" fill="#5c7d9b" />
<rect x="307.27" y="282.65" width="2.00" height="5.39" fill="#E07028" />
<rect x="308.57" y="282.65" width="0.70" height="5.39" fill="#a1501c" />
<rect x="331.83" y="281.50" width="2.00" height="6.54" fill="#E07028" />
<rect x="333.13" y="281.50" width="0.70" height="6.54" fill="#a1501c" />
<rect x="347.82" y="284.84" width="2.00" height="3.20" fill="#E07028" />
<rect x="349.12" y="284.84" width="0.70" height="3.20" fill="#a1501c" />
<rect x="356.29" y="286.86" width="2.00" height="1.18" fill="#E07028" />
<rect x="357.59" y="286.86" width="0.70" height="1.18" fill="#a1501c" />
<rect x="372.35" y="279.58" width="2.00" height="8.46" fill="#E07028" />
<rect x="373.65" y="279.58" width="0.70" height="8.46" fill="#a1501c" />
<rect x="404.58" y="281.20" width="2.00" height="6.84" fill="#E07028" />
<rect x="405.88" y="281.20" width="0.70" height="6.84" fill="#a1501c" />
<rect x="412.65" y="282.56" width="2.00" height="5.48" fill="#E07028" />
<rect x="413.95" y="282.56" width="0.70" height="5.48" fill="#a1501c" />
<rect x="421.11" y="283.97" width="2.00" height="4.07" fill="#E07028" />
<rect x="422.41" y="283.97" width="0.70" height="4.07" fill="#a1501c" />
<rect x="444.89" y="286.82" width="2.00" height="1.22" fill="#E07028" />
<rect x="446.19" y="286.82" width="0.70" height="1.22" fill="#a1501c" />
<rect x="453.23" y="280.77" width="2.00" height="7.27" fill="#E07028" />
<rect x="454.53" y="280.77" width="0.70" height="7.27" fill="#a1501c" />
<rect x="469.18" y="286.62" width="2.00" height="1.42" fill="#E07028" />
<rect x="470.48" y="286.62" width="0.70" height="1.42" fill="#a1501c" />
<rect x="432.50" y="279.80" width="2.00" height="8.24" fill="#E07028" />
<rect x="433.80" y="279.80" width="0.70" height="8.24" fill="#a1501c" />
<rect x="314.41" y="287.96" width="2.00" height="1.18" fill="#1F6A80" />
<rect x="315.71" y="287.96" width="0.70" height="1.18" fill="#164c5c" />
<rect x="322.20" y="284.51" width="2.00" height="4.63" fill="#1F6A80" />
<rect x="323.50" y="284.51" width="0.70" height="4.63" fill="#164c5c" />
<rect x="330.18" y="283.97" width="2.00" height="5.17" fill="#1F6A80" />
<rect x="331.48" y="283.97" width="0.70" height="5.17" fill="#164c5c" />
<rect x="338.57" y="284.62" width="2.00" height="4.52" fill="#1F6A80" />
<rect x="339.87" y="284.62" width="0.70" height="4.52" fill="#164c5c" />
<rect x="346.72" y="282.96" width="2.00" height="6.18" fill="#1F6A80" />
<rect x="348.02" y="282.96" width="0.70" height="6.18" fill="#164c5c" />
<rect x="362.69" y="287.16" width="2.00" height="1.98" fill="#1F6A80" />
<rect x="363.99" y="287.16" width="0.70" height="1.98" fill="#164c5c" />
<rect x="378.69" y="284.90" width="2.00" height="4.24" fill="#1F6A80" />
<rect x="379.99" y="284.90" width="0.70" height="4.24" fill="#164c5c" />
<rect x="386.98" y="286.69" width="2.00" height="2.45" fill="#1F6A80" />
<rect x="388.28" y="286.69" width="0.70" height="2.45" fill="#164c5c" />
<rect x="395.06" y="280.55" width="2.00" height="8.59" fill="#1F6A80" />
<rect x="396.36" y="280.55" width="0.70" height="8.59" fill="#164c5c" />
<rect x="403.50" y="277.83" width="2.00" height="11.31" fill="#1F6A80" />
<rect x="404.80" y="277.83" width="0.70" height="11.31" fill="#164c5c" />
<rect x="411.14" y="287.76" width="2.00" height="1.38" fill="#1F6A80" />
<rect x="412.44" y="287.76" width="0.70" height="1.38" fill="#164c5c" />
<rect x="419.56" y="282.69" width="2.00" height="6.45" fill="#1F6A80" />
<rect x="420.86" y="282.69" width="0.70" height="6.45" fill="#164c5c" />
<rect x="443.72" y="283.12" width="2.00" height="6.02" fill="#1F6A80" />
<rect x="445.02" y="283.12" width="0.70" height="6.02" fill="#164c5c" />
<rect x="451.93" y="287.27" width="2.00" height="1.87" fill="#1F6A80" />
<rect x="453.23" y="287.27" width="0.70" height="1.87" fill="#164c5c" />
<rect x="468.22" y="281.79" width="2.00" height="7.35" fill="#1F6A80" />
<rect x="469.52" y="281.79" width="0.70" height="7.35" fill="#164c5c" />
<rect x="362.00" y="270.60" width="2.00" height="18.54" fill="#1F6A80" />
<rect x="363.30" y="270.60" width="0.70" height="18.54" fill="#164c5c" />
<rect x="441.50" y="268.80" width="2.00" height="20.34" fill="#1F6A80" />
<rect x="442.80" y="268.80" width="0.70" height="20.34" fill="#164c5c" />
<rect x="493.50" y="288.00" width="2.00" height="1.14" fill="#1F6A80" />
<rect x="494.80" y="288.00" width="0.70" height="1.14" fill="#164c5c" />
<rect x="312.77" y="284.62" width="2.00" height="5.62" fill="#5A3A6A" />
<rect x="314.07" y="284.62" width="0.70" height="5.62" fill="#40294c" />
<rect x="321.07" y="289.50" width="2.00" height="0.74" fill="#5A3A6A" />
<rect x="322.37" y="289.50" width="0.70" height="0.74" fill="#40294c" />
<rect x="329.02" y="288.44" width="2.00" height="1.80" fill="#5A3A6A" />
<rect x="330.32" y="288.44" width="0.70" height="1.80" fill="#40294c" />
<rect x="385.58" y="286.50" width="2.00" height="3.74" fill="#5A3A6A" />
<rect x="386.88" y="286.50" width="0.70" height="3.74" fill="#40294c" />
<rect x="393.68" y="281.24" width="2.00" height="9.00" fill="#5A3A6A" />
<rect x="394.98" y="281.24" width="0.70" height="9.00" fill="#40294c" />
<rect x="401.93" y="289.35" width="2.00" height="0.89" fill="#5A3A6A" />
<rect x="403.23" y="289.35" width="0.70" height="0.89" fill="#40294c" />
<rect x="409.99" y="289.44" width="2.00" height="0.80" fill="#5A3A6A" />
<rect x="411.29" y="289.44" width="0.70" height="0.80" fill="#40294c" />
<rect x="417.73" y="286.82" width="2.00" height="3.42" fill="#5A3A6A" />
<rect x="419.03" y="286.82" width="0.70" height="3.42" fill="#40294c" />
<rect x="434.19" y="289.41" width="2.00" height="0.83" fill="#5A3A6A" />
<rect x="435.49" y="289.41" width="0.70" height="0.83" fill="#40294c" />
<rect x="442.17" y="286.33" width="2.00" height="3.91" fill="#5A3A6A" />
<rect x="443.47" y="286.33" width="0.70" height="3.91" fill="#40294c" />
<rect x="450.23" y="288.25" width="2.00" height="1.99" fill="#5A3A6A" />
<rect x="451.53" y="288.25" width="0.70" height="1.99" fill="#40294c" />
<rect x="458.45" y="288.26" width="2.00" height="1.98" fill="#5A3A6A" />
<rect x="459.75" y="288.26" width="0.70" height="1.98" fill="#40294c" />
<rect x="466.39" y="289.67" width="2.00" height="0.57" fill="#5A3A6A" />
<rect x="467.69" y="289.67" width="0.70" height="0.57" fill="#40294c" />
<rect x="498.83" y="287.60" width="2.00" height="2.64" fill="#5A3A6A" />
<rect x="500.13" y="287.60" width="0.70" height="2.64" fill="#40294c" />
<rect x="353.50" y="267.10" width="2.00" height="23.14" fill="#5A3A6A" />
<rect x="354.80" y="267.10" width="0.70" height="23.14" fill="#40294c" />
<rect x="303.42" y="281.81" width="2.00" height="9.53" fill="#6A8A40" />
<rect x="304.72" y="281.81" width="0.70" height="9.53" fill="#4c632e" />
<rect x="327.39" y="283.99" width="2.00" height="7.35" fill="#6A8A40" />
<rect x="328.69" y="283.99" width="0.70" height="7.35" fill="#4c632e" />
<rect x="343.62" y="287.76" width="2.00" height="3.58" fill="#6A8A40" />
<rect x="344.92" y="287.76" width="0.70" height="3.58" fill="#4c632e" />
<rect x="351.41" y="284.79" width="2.00" height="6.55" fill="#6A8A40" />
<rect x="352.71" y="284.79" width="0.70" height="6.55" fill="#4c632e" />
<rect x="359.61" y="287.53" width="2.00" height="3.81" fill="#6A8A40" />
<rect x="360.91" y="287.53" width="0.70" height="3.81" fill="#4c632e" />
<rect x="367.84" y="289.67" width="2.00" height="1.67" fill="#6A8A40" />
<rect x="369.14" y="289.67" width="0.70" height="1.67" fill="#4c632e" />
<rect x="383.80" y="282.28" width="2.00" height="9.06" fill="#6A8A40" />
<rect x="385.10" y="282.28" width="0.70" height="9.06" fill="#4c632e" />
<rect x="392.30" y="282.73" width="2.00" height="8.61" fill="#6A8A40" />
<rect x="393.60" y="282.73" width="0.70" height="8.61" fill="#4c632e" />
<rect x="400.22" y="285.98" width="2.00" height="5.36" fill="#6A8A40" />
<rect x="401.52" y="285.98" width="0.70" height="5.36" fill="#4c632e" />
<rect x="408.66" y="283.47" width="2.00" height="7.87" fill="#6A8A40" />
<rect x="409.96" y="283.47" width="0.70" height="7.87" fill="#4c632e" />
<rect x="424.71" y="283.82" width="2.00" height="7.52" fill="#6A8A40" />
<rect x="426.01" y="283.82" width="0.70" height="7.52" fill="#4c632e" />
<rect x="432.61" y="282.24" width="2.00" height="9.10" fill="#6A8A40" />
<rect x="433.91" y="282.24" width="0.70" height="9.10" fill="#4c632e" />
<rect x="440.87" y="283.96" width="2.00" height="7.38" fill="#6A8A40" />
<rect x="442.17" y="283.96" width="0.70" height="7.38" fill="#4c632e" />
<rect x="448.80" y="284.52" width="2.00" height="6.82" fill="#6A8A40" />
<rect x="450.10" y="284.52" width="0.70" height="6.82" fill="#4c632e" />
<rect x="472.85" y="289.68" width="2.00" height="1.66" fill="#6A8A40" />
<rect x="474.15" y="289.68" width="0.70" height="1.66" fill="#4c632e" />
<rect x="331.00" y="266.20" width="2.00" height="25.14" fill="#6A8A40" />
<rect x="332.30" y="266.20" width="0.70" height="25.14" fill="#4c632e" />
<rect x="344.00" y="281.00" width="2.00" height="10.34" fill="#6A8A40" />
<rect x="345.30" y="281.00" width="0.70" height="10.34" fill="#4c632e" />
<rect x="345.20" y="285.60" width="2.00" height="5.74" fill="#6A8A40" />
<rect x="346.50" y="285.60" width="0.70" height="5.74" fill="#4c632e" />
<rect x="390.00" y="279.80" width="2.00" height="11.54" fill="#6A8A40" />
<rect x="391.30" y="279.80" width="0.70" height="11.54" fill="#4c632e" />
<rect x="446.00" y="276.30" width="2.00" height="15.04" fill="#6A8A40" />
<rect x="447.30" y="276.30" width="0.70" height="15.04" fill="#4c632e" />
<rect x="301.63" y="288.92" width="2.00" height="3.52" fill="#8B2030" />
<rect x="302.93" y="288.92" width="0.70" height="3.52" fill="#641722" />
<rect x="317.65" y="290.46" width="2.00" height="1.98" fill="#8B2030" />
<rect x="318.95" y="290.46" width="0.70" height="1.98" fill="#641722" />
<rect x="326.04" y="287.19" width="2.00" height="5.25" fill="#8B2030" />
<rect x="327.34" y="287.19" width="0.70" height="5.25" fill="#641722" />
<rect x="334.12" y="282.66" width="2.00" height="9.78" fill="#8B2030" />
<rect x="335.42" y="282.66" width="0.70" height="9.78" fill="#641722" />
<rect x="350.43" y="281.94" width="2.00" height="10.50" fill="#8B2030" />
<rect x="351.73" y="281.94" width="0.70" height="10.50" fill="#641722" />
<rect x="374.36" y="280.38" width="2.00" height="12.06" fill="#8B2030" />
<rect x="375.66" y="280.38" width="0.70" height="12.06" fill="#641722" />
<rect x="382.40" y="290.18" width="2.00" height="2.26" fill="#8B2030" />
<rect x="383.70" y="290.18" width="0.70" height="2.26" fill="#641722" />
<rect x="390.58" y="291.15" width="2.00" height="1.29" fill="#8B2030" />
<rect x="391.88" y="291.15" width="0.70" height="1.29" fill="#641722" />
<rect x="398.77" y="283.67" width="2.00" height="8.77" fill="#8B2030" />
<rect x="400.07" y="283.67" width="0.70" height="8.77" fill="#641722" />
<rect x="422.82" y="290.48" width="2.00" height="1.96" fill="#8B2030" />
<rect x="424.12" y="290.48" width="0.70" height="1.96" fill="#641722" />
<rect x="431.45" y="280.88" width="2.00" height="11.56" fill="#8B2030" />
<rect x="432.75" y="280.88" width="0.70" height="11.56" fill="#641722" />
<rect x="447.55" y="287.52" width="2.00" height="4.92" fill="#8B2030" />
<rect x="448.85" y="287.52" width="0.70" height="4.92" fill="#641722" />
<rect x="455.30" y="291.28" width="2.00" height="1.16" fill="#8B2030" />
<rect x="456.60" y="291.28" width="0.70" height="1.16" fill="#641722" />
<rect x="479.79" y="291.67" width="2.00" height="0.77" fill="#8B2030" />
<rect x="481.09" y="291.67" width="0.70" height="0.77" fill="#641722" />
<rect x="317.20" y="266.20" width="2.00" height="26.24" fill="#8B2030" />
<rect x="318.50" y="266.20" width="0.70" height="26.24" fill="#641722" />
<rect x="372.00" y="252.10" width="2.00" height="40.34" fill="#8B2030" />
<rect x="373.30" y="252.10" width="0.70" height="40.34" fill="#641722" />
<rect x="380.00" y="268.30" width="2.00" height="24.14" fill="#8B2030" />
<rect x="381.30" y="268.30" width="0.70" height="24.14" fill="#641722" />
<rect x="422.00" y="279.80" width="2.00" height="12.64" fill="#8B2030" />
<rect x="423.30" y="279.80" width="0.70" height="12.64" fill="#641722" />
<rect x="456.00" y="283.80" width="2.00" height="8.64" fill="#8B2030" />
<rect x="457.30" y="283.80" width="0.70" height="8.64" fill="#641722" />
<rect x="455.20" y="281.70" width="2.00" height="10.74" fill="#8B2030" />
<rect x="456.50" y="281.70" width="0.70" height="10.74" fill="#641722" />
<rect x="489.00" y="289.20" width="2.00" height="3.24" fill="#8B2030" />
<rect x="490.30" y="289.20" width="0.70" height="3.24" fill="#641722" />
<rect x="300.20" y="280.89" width="2.00" height="12.65" fill="#1F4A78" />
<rect x="301.50" y="280.89" width="0.70" height="12.65" fill="#163556" />
<rect x="324.36" y="284.67" width="2.00" height="8.87" fill="#1F4A78" />
<rect x="325.66" y="284.67" width="0.70" height="8.87" fill="#163556" />
<rect x="332.60" y="282.76" width="2.00" height="10.78" fill="#1F4A78" />
<rect x="333.90" y="282.76" width="0.70" height="10.78" fill="#163556" />
<rect x="340.57" y="289.52" width="2.00" height="4.02" fill="#1F4A78" />
<rect x="341.87" y="289.52" width="0.70" height="4.02" fill="#163556" />
<rect x="349.02" y="291.28" width="2.00" height="2.26" fill="#1F4A78" />
<rect x="350.32" y="291.28" width="0.70" height="2.26" fill="#163556" />
<rect x="357.16" y="287.71" width="2.00" height="5.83" fill="#1F4A78" />
<rect x="358.46" y="287.71" width="0.70" height="5.83" fill="#163556" />
<rect x="364.79" y="287.55" width="2.00" height="5.99" fill="#1F4A78" />
<rect x="366.09" y="287.55" width="0.70" height="5.99" fill="#163556" />
<rect x="373.13" y="292.41" width="2.00" height="1.13" fill="#1F4A78" />
<rect x="374.43" y="292.41" width="0.70" height="1.13" fill="#163556" />
<rect x="381.17" y="289.29" width="2.00" height="4.25" fill="#1F4A78" />
<rect x="382.47" y="289.29" width="0.70" height="4.25" fill="#163556" />
<rect x="389.30" y="288.16" width="2.00" height="5.38" fill="#1F4A78" />
<rect x="390.60" y="288.16" width="0.70" height="5.38" fill="#163556" />
<rect x="397.09" y="287.51" width="2.00" height="6.03" fill="#1F4A78" />
<rect x="398.39" y="287.51" width="0.70" height="6.03" fill="#163556" />
<rect x="413.80" y="290.72" width="2.00" height="2.82" fill="#1F4A78" />
<rect x="415.10" y="290.72" width="0.70" height="2.82" fill="#163556" />
<rect x="421.42" y="288.89" width="2.00" height="4.65" fill="#1F4A78" />
<rect x="422.72" y="288.89" width="0.70" height="4.65" fill="#163556" />
<rect x="429.98" y="288.35" width="2.00" height="5.19" fill="#1F4A78" />
<rect x="431.28" y="288.35" width="0.70" height="5.19" fill="#163556" />
<rect x="454.28" y="291.88" width="2.00" height="1.66" fill="#1F4A78" />
<rect x="455.58" y="291.88" width="0.70" height="1.66" fill="#163556" />
<rect x="461.84" y="291.53" width="2.00" height="2.01" fill="#1F4A78" />
<rect x="463.14" y="291.53" width="0.70" height="2.01" fill="#163556" />
<rect x="486.17" y="292.79" width="2.00" height="0.75" fill="#1F4A78" />
<rect x="487.47" y="292.79" width="0.70" height="0.75" fill="#163556" />
<rect x="307.40" y="278.60" width="2.00" height="14.94" fill="#1F4A78" />
<rect x="308.70" y="278.60" width="0.70" height="14.94" fill="#163556" />
<rect x="327.00" y="281.00" width="2.00" height="12.54" fill="#1F4A78" />
<rect x="328.30" y="281.00" width="0.70" height="12.54" fill="#163556" />
<rect x="341.00" y="282.30" width="2.00" height="11.24" fill="#1F4A78" />
<rect x="342.30" y="282.30" width="0.70" height="11.24" fill="#163556" />
<rect x="349.40" y="272.30" width="2.00" height="21.24" fill="#1F4A78" />
<rect x="350.70" y="272.30" width="0.70" height="21.24" fill="#163556" />
<rect x="387.00" y="274.60" width="2.00" height="18.94" fill="#1F4A78" />
<rect x="388.30" y="274.60" width="0.70" height="18.94" fill="#163556" />
<rect x="416.80" y="278.00" width="2.00" height="15.54" fill="#1F4A78" />
<rect x="418.10" y="278.00" width="0.70" height="15.54" fill="#163556" />
<rect x="438.00" y="280.40" width="2.00" height="13.14" fill="#1F4A78" />
<rect x="439.30" y="280.40" width="0.70" height="13.14" fill="#163556" />
<rect x="450.00" y="274.60" width="2.00" height="18.94" fill="#1F4A78" />
<rect x="451.30" y="274.60" width="0.70" height="18.94" fill="#163556" />
<rect x="454.50" y="282.10" width="2.00" height="11.44" fill="#1F4A78" />
<rect x="455.80" y="282.10" width="0.70" height="11.44" fill="#163556" />
<rect x="298.55" y="293.62" width="2.00" height="1.02" fill="#F09050" />
<rect x="299.85" y="293.62" width="0.70" height="1.02" fill="#ac6739" />
<rect x="306.97" y="292.62" width="2.00" height="2.02" fill="#F09050" />
<rect x="308.27" y="292.62" width="0.70" height="2.02" fill="#ac6739" />
<rect x="331.14" y="287.53" width="2.00" height="7.11" fill="#F09050" />
<rect x="332.44" y="287.53" width="0.70" height="7.11" fill="#ac6739" />
<rect x="339.16" y="284.74" width="2.00" height="9.90" fill="#F09050" />
<rect x="340.46" y="284.74" width="0.70" height="9.90" fill="#ac6739" />
<rect x="347.07" y="282.29" width="2.00" height="12.35" fill="#F09050" />
<rect x="348.37" y="282.29" width="0.70" height="12.35" fill="#ac6739" />
<rect x="355.19" y="289.74" width="2.00" height="4.90" fill="#F09050" />
<rect x="356.49" y="289.74" width="0.70" height="4.90" fill="#ac6739" />
<rect x="363.76" y="290.67" width="2.00" height="3.97" fill="#F09050" />
<rect x="365.06" y="290.67" width="0.70" height="3.97" fill="#ac6739" />
<rect x="371.83" y="284.66" width="2.00" height="9.98" fill="#F09050" />
<rect x="373.13" y="284.66" width="0.70" height="9.98" fill="#ac6739" />
<rect x="379.68" y="286.98" width="2.00" height="7.66" fill="#F09050" />
<rect x="380.98" y="286.98" width="0.70" height="7.66" fill="#ac6739" />
<rect x="396.08" y="287.13" width="2.00" height="7.51" fill="#F09050" />
<rect x="397.38" y="287.13" width="0.70" height="7.51" fill="#ac6739" />
<rect x="403.82" y="282.87" width="2.00" height="11.77" fill="#F09050" />
<rect x="405.12" y="282.87" width="0.70" height="11.77" fill="#ac6739" />
<rect x="412.37" y="288.64" width="2.00" height="6.00" fill="#F09050" />
<rect x="413.67" y="288.64" width="0.70" height="6.00" fill="#ac6739" />
<rect x="420.07" y="282.69" width="2.00" height="11.95" fill="#F09050" />
<rect x="421.37" y="282.69" width="0.70" height="11.95" fill="#ac6739" />
<rect x="428.19" y="293.27" width="2.00" height="1.37" fill="#F09050" />
<rect x="429.49" y="293.27" width="0.70" height="1.37" fill="#ac6739" />
<rect x="444.63" y="289.30" width="2.00" height="5.34" fill="#F09050" />
<rect x="445.93" y="289.30" width="0.70" height="5.34" fill="#ac6739" />
<rect x="460.40" y="284.74" width="2.00" height="9.90" fill="#F09050" />
<rect x="461.70" y="284.74" width="0.70" height="9.90" fill="#ac6739" />
<rect x="493.18" y="290.95" width="2.00" height="3.69" fill="#F09050" />
<rect x="494.48" y="290.95" width="0.70" height="3.69" fill="#ac6739" />
<rect x="314.20" y="276.80" width="2.00" height="17.84" fill="#F09050" />
<rect x="315.50" y="276.80" width="0.70" height="17.84" fill="#ac6739" />
<rect x="348.60" y="282.10" width="2.00" height="12.54" fill="#F09050" />
<rect x="349.90" y="282.10" width="0.70" height="12.54" fill="#ac6739" />
<rect x="377.50" y="249.80" width="2.00" height="44.84" fill="#F09050" />
<rect x="378.80" y="249.80" width="0.70" height="44.84" fill="#ac6739" />
<rect x="385.50" y="277.00" width="2.00" height="17.64" fill="#F09050" />
<rect x="386.80" y="277.00" width="0.70" height="17.64" fill="#ac6739" />
<rect x="419.80" y="264.80" width="2.00" height="29.84" fill="#F09050" />
<rect x="421.10" y="264.80" width="0.70" height="29.84" fill="#ac6739" />
<rect x="426.00" y="283.80" width="2.00" height="10.84" fill="#F09050" />
<rect x="427.30" y="283.80" width="0.70" height="10.84" fill="#ac6739" />
<rect x="428.40" y="263.10" width="2.00" height="31.54" fill="#F09050" />
<rect x="429.70" y="263.10" width="0.70" height="31.54" fill="#ac6739" />
<rect x="470.00" y="283.50" width="2.00" height="11.14" fill="#F09050" />
<rect x="471.30" y="283.50" width="0.70" height="11.14" fill="#ac6739" />
<rect x="297.18" y="288.02" width="2.00" height="7.72" fill="#20A8B8" />
<rect x="298.48" y="288.02" width="0.70" height="7.72" fill="#177884" />
<rect x="321.82" y="283.05" width="2.00" height="12.69" fill="#20A8B8" />
<rect x="323.12" y="283.05" width="0.70" height="12.69" fill="#177884" />
<rect x="337.65" y="293.85" width="2.00" height="1.89" fill="#20A8B8" />
<rect x="338.95" y="293.85" width="0.70" height="1.89" fill="#177884" />
<rect x="346.06" y="283.67" width="2.00" height="12.07" fill="#20A8B8" />
<rect x="347.36" y="283.67" width="0.70" height="12.07" fill="#177884" />
<rect x="354.22" y="292.52" width="2.00" height="3.22" fill="#20A8B8" />
<rect x="355.52" y="292.52" width="0.70" height="3.22" fill="#177884" />
<rect x="370.01" y="293.17" width="2.00" height="2.57" fill="#20A8B8" />
<rect x="371.31" y="293.17" width="0.70" height="2.57" fill="#177884" />
<rect x="386.33" y="292.08" width="2.00" height="3.66" fill="#20A8B8" />
<rect x="387.63" y="292.08" width="0.70" height="3.66" fill="#177884" />
<rect x="394.72" y="290.31" width="2.00" height="5.43" fill="#20A8B8" />
<rect x="396.02" y="290.31" width="0.70" height="5.43" fill="#177884" />
<rect x="418.44" y="286.25" width="2.00" height="9.49" fill="#20A8B8" />
<rect x="419.74" y="286.25" width="0.70" height="9.49" fill="#177884" />
<rect x="426.70" y="284.75" width="2.00" height="10.99" fill="#20A8B8" />
<rect x="428.00" y="284.75" width="0.70" height="10.99" fill="#177884" />
<rect x="450.82" y="284.03" width="2.00" height="11.71" fill="#20A8B8" />
<rect x="452.12" y="284.03" width="0.70" height="11.71" fill="#177884" />
<rect x="483.46" y="291.66" width="2.00" height="4.08" fill="#20A8B8" />
<rect x="484.76" y="291.66" width="0.70" height="4.08" fill="#177884" />
<rect x="491.86" y="294.64" width="2.00" height="1.10" fill="#20A8B8" />
<rect x="493.16" y="294.64" width="0.70" height="1.10" fill="#177884" />
<rect x="302.50" y="288.00" width="2.00" height="7.74" fill="#20A8B8" />
<rect x="303.80" y="288.00" width="0.70" height="7.74" fill="#177884" />
<rect x="304.30" y="285.80" width="2.00" height="9.94" fill="#20A8B8" />
<rect x="305.60" y="285.80" width="0.70" height="9.94" fill="#177884" />
<rect x="312.40" y="280.00" width="2.00" height="15.74" fill="#20A8B8" />
<rect x="313.70" y="280.00" width="0.70" height="15.74" fill="#177884" />
<rect x="324.00" y="276.50" width="2.00" height="19.24" fill="#20A8B8" />
<rect x="325.30" y="276.50" width="0.70" height="19.24" fill="#177884" />
<rect x="334.00" y="281.00" width="2.00" height="14.74" fill="#20A8B8" />
<rect x="335.30" y="281.00" width="0.70" height="14.74" fill="#177884" />
<rect x="351.70" y="283.80" width="2.00" height="11.94" fill="#20A8B8" />
<rect x="353.00" y="283.80" width="0.70" height="11.94" fill="#177884" />
<rect x="384.00" y="279.80" width="2.00" height="15.94" fill="#20A8B8" />
<rect x="385.30" y="279.80" width="0.70" height="15.94" fill="#177884" />
<rect x="459.00" y="284.00" width="2.00" height="11.74" fill="#20A8B8" />
<rect x="460.30" y="284.00" width="0.70" height="11.74" fill="#177884" />
<rect x="468.40" y="288.00" width="2.00" height="7.74" fill="#20A8B8" />
<rect x="469.70" y="288.00" width="0.70" height="7.74" fill="#177884" />
<rect x="485.00" y="284.00" width="2.00" height="11.74" fill="#20A8B8" />
<rect x="486.30" y="284.00" width="0.70" height="11.74" fill="#177884" />
<rect x="304.03" y="288.95" width="2.00" height="7.89" fill="#9A88C0" />
<rect x="305.33" y="288.95" width="0.70" height="7.89" fill="#6e618a" />
<rect x="320.10" y="291.41" width="2.00" height="5.43" fill="#9A88C0" />
<rect x="321.40" y="291.41" width="0.70" height="5.43" fill="#6e618a" />
<rect x="336.04" y="293.10" width="2.00" height="3.74" fill="#9A88C0" />
<rect x="337.34" y="293.10" width="0.70" height="3.74" fill="#6e618a" />
<rect x="344.63" y="291.34" width="2.00" height="5.50" fill="#9A88C0" />
<rect x="345.93" y="291.34" width="0.70" height="5.50" fill="#6e618a" />
<rect x="352.67" y="289.48" width="2.00" height="7.36" fill="#9A88C0" />
<rect x="353.97" y="289.48" width="0.70" height="7.36" fill="#6e618a" />
<rect x="368.92" y="289.96" width="2.00" height="6.88" fill="#9A88C0" />
<rect x="370.22" y="289.96" width="0.70" height="6.88" fill="#6e618a" />
<rect x="385.09" y="292.87" width="2.00" height="3.97" fill="#9A88C0" />
<rect x="386.39" y="292.87" width="0.70" height="3.97" fill="#6e618a" />
<rect x="392.90" y="292.78" width="2.00" height="4.06" fill="#9A88C0" />
<rect x="394.20" y="292.78" width="0.70" height="4.06" fill="#6e618a" />
<rect x="400.81" y="292.27" width="2.00" height="4.57" fill="#9A88C0" />
<rect x="402.11" y="292.27" width="0.70" height="4.57" fill="#6e618a" />
<rect x="409.39" y="291.43" width="2.00" height="5.41" fill="#9A88C0" />
<rect x="410.69" y="291.43" width="0.70" height="5.41" fill="#6e618a" />
<rect x="425.40" y="293.95" width="2.00" height="2.89" fill="#9A88C0" />
<rect x="426.70" y="293.95" width="0.70" height="2.89" fill="#6e618a" />
<rect x="433.20" y="291.21" width="2.00" height="5.63" fill="#9A88C0" />
<rect x="434.50" y="291.21" width="0.70" height="5.63" fill="#6e618a" />
<rect x="449.63" y="295.34" width="2.00" height="1.50" fill="#9A88C0" />
<rect x="450.93" y="295.34" width="0.70" height="1.50" fill="#6e618a" />
<rect x="457.74" y="292.50" width="2.00" height="4.34" fill="#9A88C0" />
<rect x="459.04" y="292.50" width="0.70" height="4.34" fill="#6e618a" />
<rect x="465.69" y="296.30" width="2.00" height="0.54" fill="#9A88C0" />
<rect x="466.99" y="296.30" width="0.70" height="0.54" fill="#6e618a" />
<rect x="320.50" y="276.30" width="2.00" height="20.54" fill="#9A88C0" />
<rect x="321.80" y="276.30" width="0.70" height="20.54" fill="#6e618a" />
<rect x="336.00" y="284.00" width="2.00" height="12.84" fill="#9A88C0" />
<rect x="337.30" y="284.00" width="0.70" height="12.84" fill="#6e618a" />
<rect x="361.00" y="272.30" width="2.00" height="24.54" fill="#9A88C0" />
<rect x="362.30" y="272.30" width="0.70" height="24.54" fill="#6e618a" />
<rect x="310.74" y="296.62" width="2.00" height="1.32" fill="#A0C870" />
<rect x="312.04" y="296.62" width="0.70" height="1.32" fill="#739050" />
<rect x="327.00" y="296.86" width="2.00" height="1.08" fill="#A0C870" />
<rect x="328.30" y="296.86" width="0.70" height="1.08" fill="#739050" />
<rect x="335.07" y="294.47" width="2.00" height="3.47" fill="#A0C870" />
<rect x="336.37" y="294.47" width="0.70" height="3.47" fill="#739050" />
<rect x="367.06" y="293.70" width="2.00" height="4.24" fill="#A0C870" />
<rect x="368.36" y="293.70" width="0.70" height="4.24" fill="#739050" />
<rect x="383.47" y="296.41" width="2.00" height="1.53" fill="#A0C870" />
<rect x="384.77" y="296.41" width="0.70" height="1.53" fill="#739050" />
<rect x="399.35" y="296.72" width="2.00" height="1.22" fill="#A0C870" />
<rect x="400.65" y="296.72" width="0.70" height="1.22" fill="#739050" />
<rect x="407.91" y="294.39" width="2.00" height="3.55" fill="#A0C870" />
<rect x="409.21" y="294.39" width="0.70" height="3.55" fill="#739050" />
<rect x="423.72" y="297.39" width="2.00" height="0.55" fill="#A0C870" />
<rect x="425.02" y="297.39" width="0.70" height="0.55" fill="#739050" />
<rect x="472.25" y="296.81" width="2.00" height="1.13" fill="#A0C870" />
<rect x="473.55" y="296.81" width="0.70" height="1.13" fill="#739050" />
<rect x="480.85" y="295.94" width="2.00" height="2.00" fill="#A0C870" />
<rect x="482.15" y="295.94" width="0.70" height="2.00" fill="#739050" />
<rect x="301.16" y="295.90" width="2.00" height="3.14" fill="#D86060" />
<rect x="302.46" y="295.90" width="0.70" height="3.14" fill="#9b4545" />
<rect x="325.43" y="297.28" width="2.00" height="1.76" fill="#D86060" />
<rect x="326.73" y="297.28" width="0.70" height="1.76" fill="#9b4545" />
<rect x="357.47" y="292.03" width="2.00" height="7.01" fill="#D86060" />
<rect x="358.77" y="292.03" width="0.70" height="7.01" fill="#9b4545" />
<rect x="381.73" y="290.66" width="2.00" height="8.38" fill="#D86060" />
<rect x="383.03" y="290.66" width="0.70" height="8.38" fill="#9b4545" />
<rect x="422.61" y="295.51" width="2.00" height="3.53" fill="#D86060" />
<rect x="423.91" y="295.51" width="0.70" height="3.53" fill="#9b4545" />
<rect x="430.35" y="294.40" width="2.00" height="4.64" fill="#D86060" />
<rect x="431.65" y="294.40" width="0.70" height="4.64" fill="#9b4545" />
<rect x="438.71" y="297.40" width="2.00" height="1.64" fill="#D86060" />
<rect x="440.01" y="297.40" width="0.70" height="1.64" fill="#9b4545" />
<rect x="446.55" y="296.02" width="2.00" height="3.02" fill="#D86060" />
<rect x="447.85" y="296.02" width="0.70" height="3.02" fill="#9b4545" />
<rect x="454.71" y="295.60" width="2.00" height="3.44" fill="#D86060" />
<rect x="456.01" y="295.60" width="0.70" height="3.44" fill="#9b4545" />
<rect x="478.95" y="296.92" width="2.00" height="2.12" fill="#D86060" />
<rect x="480.25" y="296.92" width="0.70" height="2.12" fill="#9b4545" />
<rect x="299.70" y="290.40" width="2.00" height="8.64" fill="#D86060" />
<rect x="301.00" y="290.40" width="0.70" height="8.64" fill="#9b4545" />
<rect x="309.00" y="285.20" width="2.00" height="13.84" fill="#D86060" />
<rect x="310.30" y="285.20" width="0.70" height="13.84" fill="#9b4545" />
<rect x="342.00" y="274.80" width="2.00" height="24.24" fill="#D86060" />
<rect x="343.30" y="274.80" width="0.70" height="24.24" fill="#9b4545" />
<rect x="355.00" y="268.30" width="2.00" height="30.74" fill="#D86060" />
<rect x="356.30" y="268.30" width="0.70" height="30.74" fill="#9b4545" />
<rect x="359.50" y="273.50" width="2.00" height="25.54" fill="#D86060" />
<rect x="360.80" y="273.50" width="0.70" height="25.54" fill="#9b4545" />
<rect x="375.00" y="282.70" width="2.00" height="16.34" fill="#D86060" />
<rect x="376.30" y="282.70" width="0.70" height="16.34" fill="#9b4545" />
<rect x="392.00" y="290.80" width="2.00" height="8.24" fill="#D86060" />
<rect x="393.30" y="290.80" width="0.70" height="8.24" fill="#9b4545" />
<rect x="409.50" y="283.30" width="2.00" height="15.74" fill="#D86060" />
<rect x="410.80" y="283.30" width="0.70" height="15.74" fill="#9b4545" />
<rect x="415.00" y="285.00" width="2.00" height="14.04" fill="#D86060" />
<rect x="416.30" y="285.00" width="0.70" height="14.04" fill="#9b4545" />
<rect x="435.00" y="274.60" width="2.00" height="24.44" fill="#D86060" />
<rect x="436.30" y="274.60" width="0.70" height="24.44" fill="#9b4545" />
<rect x="443.40" y="256.70" width="2.00" height="42.34" fill="#D86060" />
<rect x="444.70" y="256.70" width="0.70" height="42.34" fill="#9b4545" />
<rect x="462.00" y="284.60" width="2.00" height="14.44" fill="#D86060" />
<rect x="463.30" y="284.60" width="0.70" height="14.44" fill="#9b4545" />
<rect x="481.30" y="282.30" width="2.00" height="16.74" fill="#D86060" />
<rect x="482.60" y="282.30" width="0.70" height="16.74" fill="#9b4545" />
<rect x="299.53" y="292.83" width="2.00" height="7.31" fill="#2A86B8" />
<rect x="300.83" y="292.83" width="0.70" height="7.31" fill="#1e6084" />
<rect x="315.80" y="289.12" width="2.00" height="11.02" fill="#2A86B8" />
<rect x="317.10" y="289.12" width="0.70" height="11.02" fill="#1e6084" />
<rect x="348.22" y="298.83" width="2.00" height="1.31" fill="#2A86B8" />
<rect x="349.52" y="298.83" width="0.70" height="1.31" fill="#1e6084" />
<rect x="356.48" y="291.59" width="2.00" height="8.55" fill="#2A86B8" />
<rect x="357.78" y="291.59" width="0.70" height="8.55" fill="#1e6084" />
<rect x="364.09" y="298.92" width="2.00" height="1.22" fill="#2A86B8" />
<rect x="365.39" y="298.92" width="0.70" height="1.22" fill="#1e6084" />
<rect x="372.13" y="297.79" width="2.00" height="2.35" fill="#2A86B8" />
<rect x="373.43" y="297.79" width="0.70" height="2.35" fill="#1e6084" />
<rect x="396.65" y="288.19" width="2.00" height="11.95" fill="#2A86B8" />
<rect x="397.95" y="288.19" width="0.70" height="11.95" fill="#1e6084" />
<rect x="404.86" y="294.03" width="2.00" height="6.11" fill="#2A86B8" />
<rect x="406.16" y="294.03" width="0.70" height="6.11" fill="#1e6084" />
<rect x="412.85" y="296.91" width="2.00" height="3.23" fill="#2A86B8" />
<rect x="414.15" y="296.91" width="0.70" height="3.23" fill="#1e6084" />
<rect x="421.27" y="288.23" width="2.00" height="11.91" fill="#2A86B8" />
<rect x="422.57" y="288.23" width="0.70" height="11.91" fill="#1e6084" />
<rect x="428.95" y="297.42" width="2.00" height="2.72" fill="#2A86B8" />
<rect x="430.25" y="297.42" width="0.70" height="2.72" fill="#1e6084" />
<rect x="453.29" y="288.11" width="2.00" height="12.03" fill="#2A86B8" />
<rect x="454.59" y="288.11" width="0.70" height="12.03" fill="#1e6084" />
<rect x="469.75" y="299.33" width="2.00" height="0.81" fill="#2A86B8" />
<rect x="471.05" y="299.33" width="0.70" height="0.81" fill="#1e6084" />
<rect x="485.72" y="297.94" width="2.00" height="2.20" fill="#2A86B8" />
<rect x="487.02" y="297.94" width="0.70" height="2.20" fill="#1e6084" />
<rect x="298.50" y="286.90" width="2.00" height="13.24" fill="#2A86B8" />
<rect x="299.80" y="286.90" width="0.70" height="13.24" fill="#1e6084" />
<rect x="319.50" y="278.80" width="2.00" height="21.34" fill="#2A86B8" />
<rect x="320.80" y="278.80" width="0.70" height="21.34" fill="#1e6084" />
<rect x="358.00" y="273.50" width="2.00" height="26.64" fill="#2A86B8" />
<rect x="359.30" y="273.50" width="0.70" height="26.64" fill="#1e6084" />
<rect x="366.50" y="279.20" width="2.00" height="20.94" fill="#2A86B8" />
<rect x="367.80" y="279.20" width="0.70" height="20.94" fill="#1e6084" />
<rect x="370.00" y="272.30" width="2.00" height="27.84" fill="#2A86B8" />
<rect x="371.30" y="272.30" width="0.70" height="27.84" fill="#1e6084" />
<rect x="378.50" y="274.60" width="2.00" height="25.54" fill="#2A86B8" />
<rect x="379.80" y="274.60" width="0.70" height="25.54" fill="#1e6084" />
<rect x="408.20" y="284.40" width="2.00" height="15.74" fill="#2A86B8" />
<rect x="409.50" y="284.40" width="0.70" height="15.74" fill="#1e6084" />
<rect x="412.00" y="288.50" width="2.00" height="11.64" fill="#2A86B8" />
<rect x="413.30" y="288.50" width="0.70" height="11.64" fill="#1e6084" />
<rect x="430.00" y="273.50" width="2.00" height="26.64" fill="#2A86B8" />
<rect x="431.30" y="273.50" width="0.70" height="26.64" fill="#1e6084" />
<rect x="463.20" y="280.00" width="2.00" height="20.14" fill="#2A86B8" />
<rect x="464.50" y="280.00" width="0.70" height="20.14" fill="#1e6084" />
<rect x="316.50" y="420.16" width="2.00" height="4.19" fill="#80AED8" />
<rect x="317.80" y="420.16" width="0.70" height="4.19" fill="#5c7d9b" />
<rect x="325.17" y="409.94" width="2.00" height="14.40" fill="#80AED8" />
<rect x="326.47" y="409.94" width="0.70" height="14.40" fill="#5c7d9b" />
<rect x="333.44" y="419.00" width="2.00" height="5.34" fill="#80AED8" />
<rect x="334.74" y="419.00" width="0.70" height="5.34" fill="#5c7d9b" />
<rect x="341.60" y="419.01" width="2.00" height="5.33" fill="#80AED8" />
<rect x="342.90" y="419.01" width="0.70" height="5.33" fill="#5c7d9b" />
<rect x="350.26" y="413.89" width="2.00" height="10.45" fill="#80AED8" />
<rect x="351.56" y="413.89" width="0.70" height="10.45" fill="#5c7d9b" />
<rect x="358.49" y="415.11" width="2.00" height="9.23" fill="#80AED8" />
<rect x="359.79" y="415.11" width="0.70" height="9.23" fill="#5c7d9b" />
<rect x="375.76" y="411.97" width="2.00" height="12.37" fill="#80AED8" />
<rect x="377.06" y="411.97" width="0.70" height="12.37" fill="#5c7d9b" />
<rect x="384.21" y="409.32" width="2.00" height="15.02" fill="#80AED8" />
<rect x="385.51" y="409.32" width="0.70" height="15.02" fill="#5c7d9b" />
<rect x="392.72" y="418.13" width="2.00" height="6.21" fill="#80AED8" />
<rect x="394.02" y="418.13" width="0.70" height="6.21" fill="#5c7d9b" />
<rect x="401.11" y="409.08" width="2.00" height="15.26" fill="#80AED8" />
<rect x="402.41" y="409.08" width="0.70" height="15.26" fill="#5c7d9b" />
<rect x="409.53" y="407.94" width="2.00" height="16.40" fill="#80AED8" />
<rect x="410.83" y="407.94" width="0.70" height="16.40" fill="#5c7d9b" />
<rect x="417.63" y="409.11" width="2.00" height="15.23" fill="#80AED8" />
<rect x="418.93" y="409.11" width="0.70" height="15.23" fill="#5c7d9b" />
<rect x="426.42" y="411.63" width="2.00" height="12.72" fill="#80AED8" />
<rect x="427.72" y="411.63" width="0.70" height="12.72" fill="#5c7d9b" />
<rect x="434.80" y="416.19" width="2.00" height="8.16" fill="#80AED8" />
<rect x="436.10" y="416.19" width="0.70" height="8.16" fill="#5c7d9b" />
<rect x="442.93" y="410.05" width="2.00" height="14.29" fill="#80AED8" />
<rect x="444.23" y="410.05" width="0.70" height="14.29" fill="#5c7d9b" />
<rect x="451.86" y="414.19" width="2.00" height="10.15" fill="#80AED8" />
<rect x="453.16" y="414.19" width="0.70" height="10.15" fill="#5c7d9b" />
<rect x="460.21" y="415.81" width="2.00" height="8.54" fill="#80AED8" />
<rect x="461.51" y="415.81" width="0.70" height="8.54" fill="#5c7d9b" />
<rect x="468.29" y="419.03" width="2.00" height="5.32" fill="#80AED8" />
<rect x="469.59" y="419.03" width="0.70" height="5.32" fill="#5c7d9b" />
<rect x="502.45" y="419.95" width="2.00" height="4.39" fill="#80AED8" />
<rect x="503.75" y="419.95" width="0.70" height="4.39" fill="#5c7d9b" />
<rect x="371.30" y="399.60" width="2.00" height="24.74" fill="#80AED8" />
<rect x="372.60" y="399.60" width="0.70" height="24.74" fill="#5c7d9b" />
<rect x="401.30" y="407.10" width="2.00" height="17.24" fill="#80AED8" />
<rect x="402.60" y="407.10" width="0.70" height="17.24" fill="#5c7d9b" />
<rect x="410.00" y="396.20" width="2.00" height="28.14" fill="#80AED8" />
<rect x="411.30" y="396.20" width="0.70" height="28.14" fill="#5c7d9b" />
<rect x="422.80" y="393.80" width="2.00" height="30.54" fill="#80AED8" />
<rect x="424.10" y="393.80" width="0.70" height="30.54" fill="#5c7d9b" />
<rect x="448.50" y="403.00" width="2.00" height="21.34" fill="#80AED8" />
<rect x="449.80" y="403.00" width="0.70" height="21.34" fill="#5c7d9b" />
<rect x="449.50" y="402.50" width="2.00" height="21.84" fill="#80AED8" />
<rect x="450.80" y="402.50" width="0.70" height="21.84" fill="#5c7d9b" />
<rect x="461.50" y="410.00" width="2.00" height="14.34" fill="#80AED8" />
<rect x="462.80" y="410.00" width="0.70" height="14.34" fill="#5c7d9b" />
<rect x="465.80" y="417.00" width="2.00" height="7.34" fill="#80AED8" />
<rect x="467.10" y="417.00" width="0.70" height="7.34" fill="#5c7d9b" />
<rect x="473.00" y="422.00" width="2.00" height="2.34" fill="#80AED8" />
<rect x="474.30" y="422.00" width="0.70" height="2.34" fill="#5c7d9b" />
<rect x="478.60" y="416.30" width="2.00" height="8.04" fill="#80AED8" />
<rect x="479.90" y="416.30" width="0.70" height="8.04" fill="#5c7d9b" />
<rect x="496.00" y="422.10" width="2.00" height="2.24" fill="#80AED8" />
<rect x="497.30" y="422.10" width="0.70" height="2.24" fill="#5c7d9b" />
<rect x="500.00" y="423.30" width="2.00" height="1.04" fill="#80AED8" />
<rect x="501.30" y="423.30" width="0.70" height="1.04" fill="#5c7d9b" />
<rect x="306.54" y="422.04" width="2.00" height="3.41" fill="#E07028" />
<rect x="307.84" y="422.04" width="0.70" height="3.41" fill="#a1501c" />
<rect x="314.85" y="419.89" width="2.00" height="5.56" fill="#E07028" />
<rect x="316.15" y="419.89" width="0.70" height="5.56" fill="#a1501c" />
<rect x="323.24" y="418.01" width="2.00" height="7.45" fill="#E07028" />
<rect x="324.54" y="418.01" width="0.70" height="7.45" fill="#a1501c" />
<rect x="332.10" y="418.99" width="2.00" height="6.46" fill="#E07028" />
<rect x="333.40" y="418.99" width="0.70" height="6.46" fill="#a1501c" />
<rect x="340.15" y="416.79" width="2.00" height="8.66" fill="#E07028" />
<rect x="341.45" y="416.79" width="0.70" height="8.66" fill="#a1501c" />
<rect x="348.92" y="418.58" width="2.00" height="6.87" fill="#E07028" />
<rect x="350.22" y="418.58" width="0.70" height="6.87" fill="#a1501c" />
<rect x="357.14" y="413.36" width="2.00" height="12.09" fill="#E07028" />
<rect x="358.44" y="413.36" width="0.70" height="12.09" fill="#a1501c" />
<rect x="365.68" y="418.60" width="2.00" height="6.85" fill="#E07028" />
<rect x="366.98" y="418.60" width="0.70" height="6.85" fill="#a1501c" />
<rect x="374.01" y="410.52" width="2.00" height="14.93" fill="#E07028" />
<rect x="375.31" y="410.52" width="0.70" height="14.93" fill="#a1501c" />
<rect x="382.46" y="407.81" width="2.00" height="17.64" fill="#E07028" />
<rect x="383.76" y="407.81" width="0.70" height="17.64" fill="#a1501c" />
<rect x="416.05" y="411.17" width="2.00" height="14.28" fill="#E07028" />
<rect x="417.35" y="411.17" width="0.70" height="14.28" fill="#a1501c" />
<rect x="433.26" y="420.72" width="2.00" height="4.73" fill="#E07028" />
<rect x="434.56" y="420.72" width="0.70" height="4.73" fill="#a1501c" />
<rect x="441.94" y="411.27" width="2.00" height="14.18" fill="#E07028" />
<rect x="443.24" y="411.27" width="0.70" height="14.18" fill="#a1501c" />
<rect x="450.33" y="413.39" width="2.00" height="12.06" fill="#E07028" />
<rect x="451.63" y="413.39" width="0.70" height="12.06" fill="#a1501c" />
<rect x="458.43" y="417.14" width="2.00" height="8.32" fill="#E07028" />
<rect x="459.73" y="417.14" width="0.70" height="8.32" fill="#a1501c" />
<rect x="467.13" y="418.01" width="2.00" height="7.44" fill="#E07028" />
<rect x="468.43" y="418.01" width="0.70" height="7.44" fill="#a1501c" />
<rect x="312.50" y="421.00" width="2.00" height="4.45" fill="#E07028" />
<rect x="313.80" y="421.00" width="0.70" height="4.45" fill="#a1501c" />
<rect x="421.60" y="416.30" width="2.00" height="9.15" fill="#E07028" />
<rect x="422.90" y="416.30" width="0.70" height="9.15" fill="#a1501c" />
<rect x="313.28" y="418.04" width="2.00" height="8.52" fill="#1F6A80" />
<rect x="314.58" y="418.04" width="0.70" height="8.52" fill="#164c5c" />
<rect x="330.62" y="418.64" width="2.00" height="7.91" fill="#1F6A80" />
<rect x="331.92" y="418.64" width="0.70" height="7.91" fill="#164c5c" />
<rect x="347.47" y="411.68" width="2.00" height="14.87" fill="#1F6A80" />
<rect x="348.77" y="411.68" width="0.70" height="14.87" fill="#164c5c" />
<rect x="364.29" y="409.32" width="2.00" height="17.24" fill="#1F6A80" />
<rect x="365.59" y="409.32" width="0.70" height="17.24" fill="#164c5c" />
<rect x="372.39" y="412.39" width="2.00" height="14.17" fill="#1F6A80" />
<rect x="373.69" y="412.39" width="0.70" height="14.17" fill="#164c5c" />
<rect x="397.77" y="419.19" width="2.00" height="7.37" fill="#1F6A80" />
<rect x="399.07" y="419.19" width="0.70" height="7.37" fill="#164c5c" />
<rect x="406.35" y="409.84" width="2.00" height="16.71" fill="#1F6A80" />
<rect x="407.65" y="409.84" width="0.70" height="16.71" fill="#164c5c" />
<rect x="414.85" y="412.50" width="2.00" height="14.06" fill="#1F6A80" />
<rect x="416.15" y="412.50" width="0.70" height="14.06" fill="#164c5c" />
<rect x="431.87" y="411.23" width="2.00" height="15.33" fill="#1F6A80" />
<rect x="433.17" y="411.23" width="0.70" height="15.33" fill="#164c5c" />
<rect x="440.18" y="421.11" width="2.00" height="5.45" fill="#1F6A80" />
<rect x="441.48" y="421.11" width="0.70" height="5.45" fill="#164c5c" />
<rect x="448.69" y="409.42" width="2.00" height="17.14" fill="#1F6A80" />
<rect x="449.99" y="409.42" width="0.70" height="17.14" fill="#164c5c" />
<rect x="456.95" y="413.07" width="2.00" height="13.48" fill="#1F6A80" />
<rect x="458.25" y="413.07" width="0.70" height="13.48" fill="#164c5c" />
<rect x="465.77" y="418.51" width="2.00" height="8.05" fill="#1F6A80" />
<rect x="467.07" y="418.51" width="0.70" height="8.05" fill="#164c5c" />
<rect x="482.36" y="421.70" width="2.00" height="4.86" fill="#1F6A80" />
<rect x="483.66" y="421.70" width="0.70" height="4.86" fill="#164c5c" />
<rect x="384.00" y="419.20" width="2.00" height="7.36" fill="#1F6A80" />
<rect x="385.30" y="419.20" width="0.70" height="7.36" fill="#164c5c" />
<rect x="311.78" y="424.50" width="2.00" height="3.16" fill="#5A3A6A" />
<rect x="313.08" y="424.50" width="0.70" height="3.16" fill="#40294c" />
<rect x="320.46" y="419.11" width="2.00" height="8.56" fill="#5A3A6A" />
<rect x="321.76" y="419.11" width="0.70" height="8.56" fill="#40294c" />
<rect x="329.07" y="422.71" width="2.00" height="4.95" fill="#5A3A6A" />
<rect x="330.37" y="422.71" width="0.70" height="4.95" fill="#40294c" />
<rect x="345.48" y="416.46" width="2.00" height="11.21" fill="#5A3A6A" />
<rect x="346.78" y="416.46" width="0.70" height="11.21" fill="#40294c" />
<rect x="354.43" y="423.20" width="2.00" height="4.46" fill="#5A3A6A" />
<rect x="355.73" y="423.20" width="0.70" height="4.46" fill="#40294c" />
<rect x="362.56" y="415.46" width="2.00" height="12.20" fill="#5A3A6A" />
<rect x="363.86" y="415.46" width="0.70" height="12.20" fill="#40294c" />
<rect x="379.84" y="415.88" width="2.00" height="11.78" fill="#5A3A6A" />
<rect x="381.14" y="415.88" width="0.70" height="11.78" fill="#40294c" />
<rect x="388.21" y="411.94" width="2.00" height="15.72" fill="#5A3A6A" />
<rect x="389.51" y="411.94" width="0.70" height="15.72" fill="#40294c" />
<rect x="396.44" y="422.04" width="2.00" height="5.62" fill="#5A3A6A" />
<rect x="397.74" y="422.04" width="0.70" height="5.62" fill="#40294c" />
<rect x="405.10" y="413.85" width="2.00" height="13.82" fill="#5A3A6A" />
<rect x="406.40" y="413.85" width="0.70" height="13.82" fill="#40294c" />
<rect x="413.63" y="414.89" width="2.00" height="12.77" fill="#5A3A6A" />
<rect x="414.93" y="414.89" width="0.70" height="12.77" fill="#40294c" />
<rect x="421.96" y="420.22" width="2.00" height="7.45" fill="#5A3A6A" />
<rect x="423.26" y="420.22" width="0.70" height="7.45" fill="#40294c" />
<rect x="430.48" y="422.48" width="2.00" height="5.19" fill="#5A3A6A" />
<rect x="431.78" y="422.48" width="0.70" height="5.19" fill="#40294c" />
<rect x="438.62" y="415.57" width="2.00" height="12.09" fill="#5A3A6A" />
<rect x="439.92" y="415.57" width="0.70" height="12.09" fill="#40294c" />
<rect x="447.37" y="420.28" width="2.00" height="7.39" fill="#5A3A6A" />
<rect x="448.67" y="420.28" width="0.70" height="7.39" fill="#40294c" />
<rect x="463.85" y="420.92" width="2.00" height="6.74" fill="#5A3A6A" />
<rect x="465.15" y="420.92" width="0.70" height="6.74" fill="#40294c" />
<rect x="497.56" y="422.47" width="2.00" height="5.20" fill="#5A3A6A" />
<rect x="498.86" y="422.47" width="0.70" height="5.20" fill="#40294c" />
<rect x="333.00" y="424.40" width="2.00" height="3.27" fill="#5A3A6A" />
<rect x="334.30" y="424.40" width="0.70" height="3.27" fill="#40294c" />
<rect x="302.21" y="422.79" width="2.00" height="5.99" fill="#6A8A40" />
<rect x="303.51" y="422.79" width="0.70" height="5.99" fill="#4c632e" />
<rect x="310.36" y="421.22" width="2.00" height="7.55" fill="#6A8A40" />
<rect x="311.66" y="421.22" width="0.70" height="7.55" fill="#4c632e" />
<rect x="318.78" y="425.60" width="2.00" height="3.17" fill="#6A8A40" />
<rect x="320.08" y="425.60" width="0.70" height="3.17" fill="#4c632e" />
<rect x="327.45" y="423.91" width="2.00" height="4.86" fill="#6A8A40" />
<rect x="328.75" y="423.91" width="0.70" height="4.86" fill="#4c632e" />
<rect x="335.91" y="416.01" width="2.00" height="12.76" fill="#6A8A40" />
<rect x="337.21" y="416.01" width="0.70" height="12.76" fill="#4c632e" />
<rect x="344.15" y="418.77" width="2.00" height="10.00" fill="#6A8A40" />
<rect x="345.45" y="418.77" width="0.70" height="10.00" fill="#4c632e" />
<rect x="361.15" y="415.64" width="2.00" height="13.13" fill="#6A8A40" />
<rect x="362.45" y="415.64" width="0.70" height="13.13" fill="#4c632e" />
<rect x="378.02" y="424.86" width="2.00" height="3.91" fill="#6A8A40" />
<rect x="379.32" y="424.86" width="0.70" height="3.91" fill="#4c632e" />
<rect x="386.81" y="414.76" width="2.00" height="14.02" fill="#6A8A40" />
<rect x="388.11" y="414.76" width="0.70" height="14.02" fill="#4c632e" />
<rect x="403.26" y="422.08" width="2.00" height="6.70" fill="#6A8A40" />
<rect x="404.56" y="422.08" width="0.70" height="6.70" fill="#4c632e" />
<rect x="411.74" y="422.53" width="2.00" height="6.25" fill="#6A8A40" />
<rect x="413.04" y="422.53" width="0.70" height="6.25" fill="#4c632e" />
<rect x="445.38" y="418.56" width="2.00" height="10.21" fill="#6A8A40" />
<rect x="446.68" y="418.56" width="0.70" height="10.21" fill="#4c632e" />
<rect x="454.23" y="424.84" width="2.00" height="3.93" fill="#6A8A40" />
<rect x="455.53" y="424.84" width="0.70" height="3.93" fill="#4c632e" />
<rect x="462.68" y="425.79" width="2.00" height="2.98" fill="#6A8A40" />
<rect x="463.98" y="425.79" width="0.70" height="2.98" fill="#4c632e" />
<rect x="479.18" y="425.99" width="2.00" height="2.78" fill="#6A8A40" />
<rect x="480.48" y="425.99" width="0.70" height="2.78" fill="#4c632e" />
<rect x="365.60" y="413.50" width="2.00" height="15.27" fill="#6A8A40" />
<rect x="366.90" y="413.50" width="0.70" height="15.27" fill="#4c632e" />
<rect x="308.95" y="421.30" width="2.00" height="8.58" fill="#8B2030" />
<rect x="310.25" y="421.30" width="0.70" height="8.58" fill="#641722" />
<rect x="317.59" y="418.80" width="2.00" height="11.09" fill="#8B2030" />
<rect x="318.89" y="418.80" width="0.70" height="11.09" fill="#641722" />
<rect x="325.70" y="418.58" width="2.00" height="11.30" fill="#8B2030" />
<rect x="327.00" y="418.58" width="0.70" height="11.30" fill="#641722" />
<rect x="334.67" y="419.75" width="2.00" height="10.13" fill="#8B2030" />
<rect x="335.97" y="419.75" width="0.70" height="10.13" fill="#641722" />
<rect x="342.67" y="424.18" width="2.00" height="5.70" fill="#8B2030" />
<rect x="343.97" y="424.18" width="0.70" height="5.70" fill="#641722" />
<rect x="351.39" y="422.01" width="2.00" height="7.87" fill="#8B2030" />
<rect x="352.69" y="422.01" width="0.70" height="7.87" fill="#641722" />
<rect x="360.00" y="416.25" width="2.00" height="13.63" fill="#8B2030" />
<rect x="361.30" y="416.25" width="0.70" height="13.63" fill="#641722" />
<rect x="368.45" y="423.45" width="2.00" height="6.43" fill="#8B2030" />
<rect x="369.75" y="423.45" width="0.70" height="6.43" fill="#641722" />
<rect x="376.75" y="415.65" width="2.00" height="14.23" fill="#8B2030" />
<rect x="378.05" y="415.65" width="0.70" height="14.23" fill="#641722" />
<rect x="385.08" y="417.57" width="2.00" height="12.31" fill="#8B2030" />
<rect x="386.38" y="417.57" width="0.70" height="12.31" fill="#641722" />
<rect x="393.23" y="420.42" width="2.00" height="9.46" fill="#8B2030" />
<rect x="394.53" y="420.42" width="0.70" height="9.46" fill="#641722" />
<rect x="402.12" y="423.87" width="2.00" height="6.01" fill="#8B2030" />
<rect x="403.42" y="423.87" width="0.70" height="6.01" fill="#641722" />
<rect x="435.95" y="420.68" width="2.00" height="9.20" fill="#8B2030" />
<rect x="437.25" y="420.68" width="0.70" height="9.20" fill="#641722" />
<rect x="452.52" y="417.80" width="2.00" height="12.08" fill="#8B2030" />
<rect x="453.82" y="417.80" width="0.70" height="12.08" fill="#641722" />
<rect x="461.04" y="418.88" width="2.00" height="11.01" fill="#8B2030" />
<rect x="462.34" y="418.88" width="0.70" height="11.01" fill="#641722" />
<rect x="469.72" y="422.54" width="2.00" height="7.34" fill="#8B2030" />
<rect x="471.02" y="422.54" width="0.70" height="7.34" fill="#641722" />
<rect x="486.57" y="424.18" width="2.00" height="5.70" fill="#8B2030" />
<rect x="487.87" y="424.18" width="0.70" height="5.70" fill="#641722" />
<rect x="494.87" y="428.24" width="2.00" height="1.65" fill="#8B2030" />
<rect x="496.17" y="428.24" width="0.70" height="1.65" fill="#641722" />
<rect x="311.00" y="422.70" width="2.00" height="7.18" fill="#8B2030" />
<rect x="312.30" y="422.70" width="0.70" height="7.18" fill="#641722" />
<rect x="376.50" y="414.60" width="2.00" height="15.28" fill="#8B2030" />
<rect x="377.80" y="414.60" width="0.70" height="15.28" fill="#641722" />
<rect x="416.50" y="411.20" width="2.00" height="18.68" fill="#8B2030" />
<rect x="417.80" y="411.20" width="0.70" height="18.68" fill="#641722" />
<rect x="489.00" y="421.00" width="2.00" height="8.88" fill="#8B2030" />
<rect x="490.30" y="421.00" width="0.70" height="8.88" fill="#641722" />
<rect x="307.72" y="427.77" width="2.00" height="3.22" fill="#1F4A78" />
<rect x="309.02" y="427.77" width="0.70" height="3.22" fill="#163556" />
<rect x="315.93" y="418.84" width="2.00" height="12.15" fill="#1F4A78" />
<rect x="317.23" y="418.84" width="0.70" height="12.15" fill="#163556" />
<rect x="324.25" y="419.54" width="2.00" height="11.45" fill="#1F4A78" />
<rect x="325.55" y="419.54" width="0.70" height="11.45" fill="#163556" />
<rect x="332.62" y="417.07" width="2.00" height="13.92" fill="#1F4A78" />
<rect x="333.92" y="417.07" width="0.70" height="13.92" fill="#163556" />
<rect x="341.51" y="414.92" width="2.00" height="16.07" fill="#1F4A78" />
<rect x="342.81" y="414.92" width="0.70" height="16.07" fill="#163556" />
<rect x="358.32" y="414.57" width="2.00" height="16.42" fill="#1F4A78" />
<rect x="359.62" y="414.57" width="0.70" height="16.42" fill="#163556" />
<rect x="366.42" y="412.04" width="2.00" height="18.95" fill="#1F4A78" />
<rect x="367.72" y="412.04" width="0.70" height="18.95" fill="#163556" />
<rect x="375.27" y="419.00" width="2.00" height="11.99" fill="#1F4A78" />
<rect x="376.57" y="419.00" width="0.70" height="11.99" fill="#163556" />
<rect x="383.48" y="424.59" width="2.00" height="6.40" fill="#1F4A78" />
<rect x="384.78" y="424.59" width="0.70" height="6.40" fill="#163556" />
<rect x="392.01" y="414.07" width="2.00" height="16.92" fill="#1F4A78" />
<rect x="393.31" y="414.07" width="0.70" height="16.92" fill="#163556" />
<rect x="400.57" y="420.32" width="2.00" height="10.66" fill="#1F4A78" />
<rect x="401.87" y="420.32" width="0.70" height="10.66" fill="#163556" />
<rect x="408.72" y="412.75" width="2.00" height="18.24" fill="#1F4A78" />
<rect x="410.02" y="412.75" width="0.70" height="18.24" fill="#163556" />
<rect x="417.07" y="413.08" width="2.00" height="17.91" fill="#1F4A78" />
<rect x="418.37" y="413.08" width="0.70" height="17.91" fill="#163556" />
<rect x="425.92" y="424.39" width="2.00" height="6.60" fill="#1F4A78" />
<rect x="427.22" y="424.39" width="0.70" height="6.60" fill="#163556" />
<rect x="434.41" y="416.57" width="2.00" height="14.42" fill="#1F4A78" />
<rect x="435.71" y="416.57" width="0.70" height="14.42" fill="#163556" />
<rect x="442.96" y="416.46" width="2.00" height="14.53" fill="#1F4A78" />
<rect x="444.26" y="416.46" width="0.70" height="14.53" fill="#163556" />
<rect x="450.93" y="421.50" width="2.00" height="9.49" fill="#1F4A78" />
<rect x="452.23" y="421.50" width="0.70" height="9.49" fill="#163556" />
<rect x="459.60" y="415.01" width="2.00" height="15.98" fill="#1F4A78" />
<rect x="460.90" y="415.01" width="0.70" height="15.98" fill="#163556" />
<rect x="468.11" y="423.73" width="2.00" height="7.26" fill="#1F4A78" />
<rect x="469.41" y="423.73" width="0.70" height="7.26" fill="#163556" />
<rect x="476.42" y="425.28" width="2.00" height="5.71" fill="#1F4A78" />
<rect x="477.72" y="425.28" width="0.70" height="5.71" fill="#163556" />
<rect x="289.50" y="436.00" width="2.00" height="1.00" fill="#1F4A78" />
<rect x="290.80" y="436.00" width="0.70" height="1.00" fill="#163556" />
<rect x="328.50" y="423.30" width="2.00" height="7.69" fill="#1F4A78" />
<rect x="329.80" y="423.30" width="0.70" height="7.69" fill="#163556" />
<rect x="362.50" y="407.10" width="2.00" height="23.89" fill="#1F4A78" />
<rect x="363.80" y="407.10" width="0.70" height="23.89" fill="#163556" />
<rect x="414.00" y="402.50" width="2.00" height="28.49" fill="#1F4A78" />
<rect x="415.30" y="402.50" width="0.70" height="28.49" fill="#163556" />
<rect x="452.80" y="409.40" width="2.00" height="21.59" fill="#1F4A78" />
<rect x="454.10" y="409.40" width="0.70" height="21.59" fill="#163556" />
<rect x="457.00" y="419.80" width="2.00" height="11.19" fill="#1F4A78" />
<rect x="458.30" y="419.80" width="0.70" height="11.19" fill="#163556" />
<rect x="297.77" y="427.16" width="2.00" height="4.94" fill="#F09050" />
<rect x="299.07" y="427.16" width="0.70" height="4.94" fill="#ac6739" />
<rect x="305.95" y="423.67" width="2.00" height="8.43" fill="#F09050" />
<rect x="307.25" y="423.67" width="0.70" height="8.43" fill="#ac6739" />
<rect x="314.76" y="427.59" width="2.00" height="4.51" fill="#F09050" />
<rect x="316.06" y="427.59" width="0.70" height="4.51" fill="#ac6739" />
<rect x="323.12" y="427.59" width="2.00" height="4.51" fill="#F09050" />
<rect x="324.42" y="427.59" width="0.70" height="4.51" fill="#ac6739" />
<rect x="331.23" y="424.74" width="2.00" height="7.36" fill="#F09050" />
<rect x="332.53" y="424.74" width="0.70" height="7.36" fill="#ac6739" />
<rect x="348.10" y="414.61" width="2.00" height="17.49" fill="#F09050" />
<rect x="349.40" y="414.61" width="0.70" height="17.49" fill="#ac6739" />
<rect x="365.36" y="420.04" width="2.00" height="12.06" fill="#F09050" />
<rect x="366.66" y="420.04" width="0.70" height="12.06" fill="#ac6739" />
<rect x="373.83" y="419.14" width="2.00" height="12.95" fill="#F09050" />
<rect x="375.13" y="419.14" width="0.70" height="12.95" fill="#ac6739" />
<rect x="390.46" y="419.85" width="2.00" height="12.25" fill="#F09050" />
<rect x="391.76" y="419.85" width="0.70" height="12.25" fill="#ac6739" />
<rect x="399.23" y="422.11" width="2.00" height="9.99" fill="#F09050" />
<rect x="400.53" y="422.11" width="0.70" height="9.99" fill="#ac6739" />
<rect x="407.19" y="423.29" width="2.00" height="8.81" fill="#F09050" />
<rect x="408.49" y="423.29" width="0.70" height="8.81" fill="#ac6739" />
<rect x="415.95" y="416.53" width="2.00" height="15.57" fill="#F09050" />
<rect x="417.25" y="416.53" width="0.70" height="15.57" fill="#ac6739" />
<rect x="424.51" y="417.02" width="2.00" height="15.08" fill="#F09050" />
<rect x="425.81" y="417.02" width="0.70" height="15.08" fill="#ac6739" />
<rect x="449.95" y="419.45" width="2.00" height="12.65" fill="#F09050" />
<rect x="451.25" y="419.45" width="0.70" height="12.65" fill="#ac6739" />
<rect x="458.12" y="418.62" width="2.00" height="13.47" fill="#F09050" />
<rect x="459.42" y="418.62" width="0.70" height="13.47" fill="#ac6739" />
<rect x="466.58" y="425.12" width="2.00" height="6.98" fill="#F09050" />
<rect x="467.88" y="425.12" width="0.70" height="6.98" fill="#ac6739" />
<rect x="475.18" y="428.80" width="2.00" height="3.30" fill="#F09050" />
<rect x="476.48" y="428.80" width="0.70" height="3.30" fill="#ac6739" />
<rect x="483.64" y="425.65" width="2.00" height="6.45" fill="#F09050" />
<rect x="484.94" y="425.65" width="0.70" height="6.45" fill="#ac6739" />
<rect x="295.50" y="426.20" width="2.00" height="5.90" fill="#F09050" />
<rect x="296.80" y="426.20" width="0.70" height="5.90" fill="#ac6739" />
<rect x="308.50" y="423.80" width="2.00" height="8.30" fill="#F09050" />
<rect x="309.80" y="423.80" width="0.70" height="8.30" fill="#ac6739" />
<rect x="331.00" y="417.50" width="2.00" height="14.60" fill="#F09050" />
<rect x="332.30" y="417.50" width="0.70" height="14.60" fill="#ac6739" />
<rect x="408.00" y="415.20" width="2.00" height="16.90" fill="#F09050" />
<rect x="409.30" y="415.20" width="0.70" height="16.90" fill="#ac6739" />
<rect x="412.00" y="415.80" width="2.00" height="16.30" fill="#F09050" />
<rect x="413.30" y="415.80" width="0.70" height="16.30" fill="#ac6739" />
<rect x="312.99" y="426.82" width="2.00" height="6.38" fill="#20A8B8" />
<rect x="314.29" y="426.82" width="0.70" height="6.38" fill="#177884" />
<rect x="338.68" y="417.07" width="2.00" height="16.14" fill="#20A8B8" />
<rect x="339.98" y="417.07" width="0.70" height="16.14" fill="#177884" />
<rect x="346.94" y="424.09" width="2.00" height="9.11" fill="#20A8B8" />
<rect x="348.24" y="424.09" width="0.70" height="9.11" fill="#177884" />
<rect x="363.47" y="419.36" width="2.00" height="13.85" fill="#20A8B8" />
<rect x="364.77" y="419.36" width="0.70" height="13.85" fill="#177884" />
<rect x="372.20" y="426.37" width="2.00" height="6.83" fill="#20A8B8" />
<rect x="373.50" y="426.37" width="0.70" height="6.83" fill="#177884" />
<rect x="388.86" y="418.56" width="2.00" height="14.65" fill="#20A8B8" />
<rect x="390.16" y="418.56" width="0.70" height="14.65" fill="#177884" />
<rect x="397.59" y="416.92" width="2.00" height="16.28" fill="#20A8B8" />
<rect x="398.89" y="416.92" width="0.70" height="16.28" fill="#177884" />
<rect x="405.98" y="425.23" width="2.00" height="7.97" fill="#20A8B8" />
<rect x="407.28" y="425.23" width="0.70" height="7.97" fill="#177884" />
<rect x="414.69" y="424.16" width="2.00" height="9.05" fill="#20A8B8" />
<rect x="415.99" y="424.16" width="0.70" height="9.05" fill="#177884" />
<rect x="422.85" y="419.99" width="2.00" height="13.21" fill="#20A8B8" />
<rect x="424.15" y="419.99" width="0.70" height="13.21" fill="#177884" />
<rect x="431.17" y="413.73" width="2.00" height="19.48" fill="#20A8B8" />
<rect x="432.47" y="413.73" width="0.70" height="19.48" fill="#177884" />
<rect x="448.23" y="414.65" width="2.00" height="18.55" fill="#20A8B8" />
<rect x="449.53" y="414.65" width="0.70" height="18.55" fill="#177884" />
<rect x="465.35" y="424.03" width="2.00" height="9.17" fill="#20A8B8" />
<rect x="466.65" y="424.03" width="0.70" height="9.17" fill="#177884" />
<rect x="297.00" y="429.60" width="2.00" height="3.60" fill="#20A8B8" />
<rect x="298.30" y="429.60" width="0.70" height="3.60" fill="#177884" />
<rect x="324.60" y="415.80" width="2.00" height="17.40" fill="#20A8B8" />
<rect x="325.90" y="415.80" width="0.70" height="17.40" fill="#177884" />
<rect x="340.50" y="415.80" width="2.00" height="17.40" fill="#20A8B8" />
<rect x="341.80" y="415.80" width="0.70" height="17.40" fill="#177884" />
<rect x="340.70" y="415.80" width="2.00" height="17.40" fill="#20A8B8" />
<rect x="342.00" y="415.80" width="0.70" height="17.40" fill="#177884" />
<rect x="358.60" y="404.20" width="2.00" height="29.00" fill="#20A8B8" />
<rect x="359.90" y="404.20" width="0.70" height="29.00" fill="#177884" />
<rect x="380.00" y="419.20" width="2.00" height="14.00" fill="#20A8B8" />
<rect x="381.30" y="419.20" width="0.70" height="14.00" fill="#177884" />
<rect x="397.50" y="417.00" width="2.00" height="16.20" fill="#20A8B8" />
<rect x="398.80" y="417.00" width="0.70" height="16.20" fill="#177884" />
<rect x="319.81" y="420.86" width="2.00" height="13.45" fill="#9A88C0" />
<rect x="321.11" y="420.86" width="0.70" height="13.45" fill="#6e618a" />
<rect x="328.60" y="419.74" width="2.00" height="14.57" fill="#9A88C0" />
<rect x="329.90" y="419.74" width="0.70" height="14.57" fill="#6e618a" />
<rect x="337.11" y="418.68" width="2.00" height="15.63" fill="#9A88C0" />
<rect x="338.41" y="418.68" width="0.70" height="15.63" fill="#6e618a" />
<rect x="345.26" y="426.51" width="2.00" height="7.81" fill="#9A88C0" />
<rect x="346.56" y="426.51" width="0.70" height="7.81" fill="#6e618a" />
<rect x="362.08" y="421.62" width="2.00" height="12.69" fill="#9A88C0" />
<rect x="363.38" y="421.62" width="0.70" height="12.69" fill="#6e618a" />
<rect x="370.77" y="419.84" width="2.00" height="14.47" fill="#9A88C0" />
<rect x="372.07" y="419.84" width="0.70" height="14.47" fill="#6e618a" />
<rect x="379.11" y="422.70" width="2.00" height="11.61" fill="#9A88C0" />
<rect x="380.41" y="422.70" width="0.70" height="11.61" fill="#6e618a" />
<rect x="387.74" y="413.29" width="2.00" height="21.02" fill="#9A88C0" />
<rect x="389.04" y="413.29" width="0.70" height="21.02" fill="#6e618a" />
<rect x="396.27" y="412.36" width="2.00" height="21.95" fill="#9A88C0" />
<rect x="397.57" y="412.36" width="0.70" height="21.95" fill="#6e618a" />
<rect x="404.26" y="422.40" width="2.00" height="11.91" fill="#9A88C0" />
<rect x="405.56" y="422.40" width="0.70" height="11.91" fill="#6e618a" />
<rect x="413.13" y="428.09" width="2.00" height="6.23" fill="#9A88C0" />
<rect x="414.43" y="428.09" width="0.70" height="6.23" fill="#6e618a" />
<rect x="421.51" y="416.08" width="2.00" height="18.23" fill="#9A88C0" />
<rect x="422.81" y="416.08" width="0.70" height="18.23" fill="#6e618a" />
<rect x="429.65" y="421.95" width="2.00" height="12.36" fill="#9A88C0" />
<rect x="430.95" y="421.95" width="0.70" height="12.36" fill="#6e618a" />
<rect x="446.67" y="415.00" width="2.00" height="19.31" fill="#9A88C0" />
<rect x="447.97" y="415.00" width="0.70" height="19.31" fill="#6e618a" />
<rect x="455.11" y="424.68" width="2.00" height="9.63" fill="#9A88C0" />
<rect x="456.41" y="424.68" width="0.70" height="9.63" fill="#6e618a" />
<rect x="463.71" y="425.57" width="2.00" height="8.74" fill="#9A88C0" />
<rect x="465.01" y="425.57" width="0.70" height="8.74" fill="#6e618a" />
<rect x="480.54" y="428.66" width="2.00" height="5.65" fill="#9A88C0" />
<rect x="481.84" y="428.66" width="0.70" height="5.65" fill="#6e618a" />
<rect x="488.90" y="426.94" width="2.00" height="7.37" fill="#9A88C0" />
<rect x="490.20" y="426.94" width="0.70" height="7.37" fill="#6e618a" />
<rect x="348.50" y="419.20" width="2.00" height="15.11" fill="#9A88C0" />
<rect x="349.80" y="419.20" width="0.70" height="15.11" fill="#6e618a" />
<rect x="406.50" y="409.40" width="2.00" height="24.91" fill="#9A88C0" />
<rect x="407.80" y="409.40" width="0.70" height="24.91" fill="#6e618a" />
<rect x="433.50" y="408.30" width="2.00" height="26.01" fill="#9A88C0" />
<rect x="434.80" y="408.30" width="0.70" height="26.01" fill="#6e618a" />
<rect x="440.00" y="416.30" width="2.00" height="18.01" fill="#9A88C0" />
<rect x="441.30" y="416.30" width="0.70" height="18.01" fill="#6e618a" />
<rect x="301.44" y="433.52" width="2.00" height="1.90" fill="#A0C870" />
<rect x="302.74" y="433.52" width="0.70" height="1.90" fill="#739050" />
<rect x="309.91" y="432.02" width="2.00" height="3.40" fill="#A0C870" />
<rect x="311.21" y="432.02" width="0.70" height="3.40" fill="#739050" />
<rect x="318.30" y="429.21" width="2.00" height="6.21" fill="#A0C870" />
<rect x="319.60" y="429.21" width="0.70" height="6.21" fill="#739050" />
<rect x="327.11" y="428.64" width="2.00" height="6.78" fill="#A0C870" />
<rect x="328.41" y="428.64" width="0.70" height="6.78" fill="#739050" />
<rect x="335.45" y="430.15" width="2.00" height="5.27" fill="#A0C870" />
<rect x="336.75" y="430.15" width="0.70" height="5.27" fill="#739050" />
<rect x="343.64" y="425.32" width="2.00" height="10.10" fill="#A0C870" />
<rect x="344.94" y="425.32" width="0.70" height="10.10" fill="#739050" />
<rect x="352.33" y="426.15" width="2.00" height="9.27" fill="#A0C870" />
<rect x="353.63" y="426.15" width="0.70" height="9.27" fill="#739050" />
<rect x="360.84" y="430.20" width="2.00" height="5.22" fill="#A0C870" />
<rect x="362.14" y="430.20" width="0.70" height="5.22" fill="#739050" />
<rect x="369.13" y="430.11" width="2.00" height="5.31" fill="#A0C870" />
<rect x="370.43" y="430.11" width="0.70" height="5.31" fill="#739050" />
<rect x="377.57" y="429.40" width="2.00" height="6.02" fill="#A0C870" />
<rect x="378.87" y="429.40" width="0.70" height="6.02" fill="#739050" />
<rect x="386.30" y="428.65" width="2.00" height="6.77" fill="#A0C870" />
<rect x="387.60" y="428.65" width="0.70" height="6.77" fill="#739050" />
<rect x="394.41" y="430.32" width="2.00" height="5.10" fill="#A0C870" />
<rect x="395.71" y="430.32" width="0.70" height="5.10" fill="#739050" />
<rect x="411.31" y="425.52" width="2.00" height="9.90" fill="#A0C870" />
<rect x="412.61" y="425.52" width="0.70" height="9.90" fill="#739050" />
<rect x="419.66" y="428.77" width="2.00" height="6.65" fill="#A0C870" />
<rect x="420.96" y="428.77" width="0.70" height="6.65" fill="#739050" />
<rect x="436.75" y="425.47" width="2.00" height="9.95" fill="#A0C870" />
<rect x="438.05" y="425.47" width="0.70" height="9.95" fill="#739050" />
<rect x="445.45" y="430.57" width="2.00" height="4.85" fill="#A0C870" />
<rect x="446.75" y="430.57" width="0.70" height="4.85" fill="#739050" />
<rect x="453.76" y="432.28" width="2.00" height="3.14" fill="#A0C870" />
<rect x="455.06" y="432.28" width="0.70" height="3.14" fill="#739050" />
<rect x="461.99" y="431.14" width="2.00" height="4.28" fill="#A0C870" />
<rect x="463.29" y="431.14" width="0.70" height="4.28" fill="#739050" />
<rect x="478.77" y="433.01" width="2.00" height="2.41" fill="#A0C870" />
<rect x="480.07" y="433.01" width="0.70" height="2.41" fill="#739050" />
<rect x="300.23" y="433.44" width="2.00" height="3.09" fill="#D86060" />
<rect x="301.53" y="433.44" width="0.70" height="3.09" fill="#9b4545" />
<rect x="308.36" y="430.86" width="2.00" height="5.67" fill="#D86060" />
<rect x="309.66" y="430.86" width="0.70" height="5.67" fill="#9b4545" />
<rect x="325.63" y="418.94" width="2.00" height="17.59" fill="#D86060" />
<rect x="326.93" y="418.94" width="0.70" height="17.59" fill="#9b4545" />
<rect x="334.23" y="423.42" width="2.00" height="13.10" fill="#D86060" />
<rect x="335.53" y="423.42" width="0.70" height="13.10" fill="#9b4545" />
<rect x="342.56" y="426.32" width="2.00" height="10.21" fill="#D86060" />
<rect x="343.86" y="426.32" width="0.70" height="10.21" fill="#9b4545" />
<rect x="350.78" y="428.61" width="2.00" height="7.91" fill="#D86060" />
<rect x="352.08" y="428.61" width="0.70" height="7.91" fill="#9b4545" />
<rect x="367.56" y="417.49" width="2.00" height="19.04" fill="#D86060" />
<rect x="368.86" y="417.49" width="0.70" height="19.04" fill="#9b4545" />
<rect x="376.02" y="429.96" width="2.00" height="6.56" fill="#D86060" />
<rect x="377.32" y="429.96" width="0.70" height="6.56" fill="#9b4545" />
<rect x="384.44" y="423.35" width="2.00" height="13.18" fill="#D86060" />
<rect x="385.74" y="423.35" width="0.70" height="13.18" fill="#9b4545" />
<rect x="392.93" y="425.18" width="2.00" height="11.35" fill="#D86060" />
<rect x="394.23" y="425.18" width="0.70" height="11.35" fill="#9b4545" />
<rect x="401.50" y="426.37" width="2.00" height="10.16" fill="#D86060" />
<rect x="402.80" y="426.37" width="0.70" height="10.16" fill="#9b4545" />
<rect x="410.16" y="418.07" width="2.00" height="18.46" fill="#D86060" />
<rect x="411.46" y="418.07" width="0.70" height="18.46" fill="#9b4545" />
<rect x="418.37" y="421.10" width="2.00" height="15.42" fill="#D86060" />
<rect x="419.67" y="421.10" width="0.70" height="15.42" fill="#9b4545" />
<rect x="426.95" y="427.94" width="2.00" height="8.59" fill="#D86060" />
<rect x="428.25" y="427.94" width="0.70" height="8.59" fill="#9b4545" />
<rect x="435.26" y="419.92" width="2.00" height="16.61" fill="#D86060" />
<rect x="436.56" y="419.92" width="0.70" height="16.61" fill="#9b4545" />
<rect x="443.79" y="419.10" width="2.00" height="17.43" fill="#D86060" />
<rect x="445.09" y="419.10" width="0.70" height="17.43" fill="#9b4545" />
<rect x="460.55" y="425.92" width="2.00" height="10.61" fill="#D86060" />
<rect x="461.85" y="425.92" width="0.70" height="10.61" fill="#9b4545" />
<rect x="468.94" y="433.59" width="2.00" height="2.94" fill="#D86060" />
<rect x="470.24" y="433.59" width="0.70" height="2.94" fill="#9b4545" />
<rect x="300.00" y="427.90" width="2.00" height="8.63" fill="#D86060" />
<rect x="301.30" y="427.90" width="0.70" height="8.63" fill="#9b4545" />
<rect x="303.70" y="426.20" width="2.00" height="10.33" fill="#D86060" />
<rect x="305.00" y="426.20" width="0.70" height="10.33" fill="#9b4545" />
<rect x="320.40" y="412.30" width="2.00" height="24.23" fill="#D86060" />
<rect x="321.70" y="412.30" width="0.70" height="24.23" fill="#9b4545" />
<rect x="343.60" y="417.00" width="2.00" height="19.53" fill="#D86060" />
<rect x="344.90" y="417.00" width="0.70" height="19.53" fill="#9b4545" />
<rect x="346.50" y="397.90" width="2.00" height="38.63" fill="#D86060" />
<rect x="347.80" y="397.90" width="0.70" height="38.63" fill="#9b4545" />
<rect x="355.00" y="393.30" width="2.00" height="43.23" fill="#D86060" />
<rect x="356.30" y="393.30" width="0.70" height="43.23" fill="#9b4545" />
<rect x="367.00" y="418.00" width="2.00" height="18.53" fill="#D86060" />
<rect x="368.30" y="418.00" width="0.70" height="18.53" fill="#9b4545" />
<rect x="487.00" y="419.20" width="2.00" height="17.33" fill="#D86060" />
<rect x="488.30" y="419.20" width="0.70" height="17.33" fill="#9b4545" />
<rect x="290.53" y="435.54" width="2.00" height="2.09" fill="#2A86B8" />
<rect x="291.83" y="435.54" width="0.70" height="2.09" fill="#1e6084" />
<rect x="323.87" y="426.40" width="2.00" height="11.24" fill="#2A86B8" />
<rect x="325.17" y="426.40" width="0.70" height="11.24" fill="#1e6084" />
<rect x="349.33" y="423.51" width="2.00" height="14.13" fill="#2A86B8" />
<rect x="350.63" y="423.51" width="0.70" height="14.13" fill="#1e6084" />
<rect x="357.74" y="431.11" width="2.00" height="6.53" fill="#2A86B8" />
<rect x="359.04" y="431.11" width="0.70" height="6.53" fill="#1e6084" />
<rect x="366.32" y="421.08" width="2.00" height="16.55" fill="#2A86B8" />
<rect x="367.62" y="421.08" width="0.70" height="16.55" fill="#1e6084" />
<rect x="375.00" y="426.01" width="2.00" height="11.62" fill="#2A86B8" />
<rect x="376.30" y="426.01" width="0.70" height="11.62" fill="#1e6084" />
<rect x="383.08" y="422.52" width="2.00" height="15.12" fill="#2A86B8" />
<rect x="384.38" y="422.52" width="0.70" height="15.12" fill="#1e6084" />
<rect x="391.49" y="430.64" width="2.00" height="7.00" fill="#2A86B8" />
<rect x="392.79" y="430.64" width="0.70" height="7.00" fill="#1e6084" />
<rect x="400.18" y="422.21" width="2.00" height="15.43" fill="#2A86B8" />
<rect x="401.48" y="422.21" width="0.70" height="15.43" fill="#1e6084" />
<rect x="408.58" y="429.03" width="2.00" height="8.61" fill="#2A86B8" />
<rect x="409.88" y="429.03" width="0.70" height="8.61" fill="#1e6084" />
<rect x="425.58" y="428.80" width="2.00" height="8.83" fill="#2A86B8" />
<rect x="426.88" y="428.80" width="0.70" height="8.83" fill="#1e6084" />
<rect x="459.22" y="421.43" width="2.00" height="16.21" fill="#2A86B8" />
<rect x="460.52" y="421.43" width="0.70" height="16.21" fill="#1e6084" />
<rect x="467.54" y="432.16" width="2.00" height="5.48" fill="#2A86B8" />
<rect x="468.84" y="432.16" width="0.70" height="5.48" fill="#1e6084" />
<rect x="484.27" y="431.16" width="2.00" height="6.48" fill="#2A86B8" />
<rect x="485.57" y="431.16" width="0.70" height="6.48" fill="#1e6084" />
<rect x="306.40" y="419.20" width="2.00" height="18.44" fill="#2A86B8" />
<rect x="307.70" y="419.20" width="0.70" height="18.44" fill="#1e6084" />
<rect x="315.40" y="415.20" width="2.00" height="22.44" fill="#2A86B8" />
<rect x="316.70" y="415.20" width="0.70" height="22.44" fill="#1e6084" />
<rect x="336.50" y="410.60" width="2.00" height="27.04" fill="#2A86B8" />
<rect x="337.80" y="410.60" width="0.70" height="27.04" fill="#1e6084" />
<rect x="351.00" y="419.20" width="2.00" height="18.44" fill="#2A86B8" />
<rect x="352.30" y="419.20" width="0.70" height="18.44" fill="#1e6084" />
<rect x="354.00" y="415.80" width="2.00" height="21.84" fill="#2A86B8" />
<rect x="355.30" y="415.80" width="0.70" height="21.84" fill="#1e6084" />
<rect x="392.00" y="389.80" width="2.00" height="47.84" fill="#2A86B8" />
<rect x="393.30" y="389.80" width="0.70" height="47.84" fill="#1e6084" />
<rect x="405.00" y="403.70" width="2.00" height="33.94" fill="#2A86B8" />
<rect x="406.30" y="403.70" width="0.70" height="33.94" fill="#1e6084" />
<rect x="431.50" y="407.70" width="2.00" height="29.94" fill="#2A86B8" />
<rect x="432.80" y="407.70" width="0.70" height="29.94" fill="#1e6084" />
<rect x="436.00" y="406.50" width="2.00" height="31.14" fill="#2A86B8" />
<rect x="437.30" y="406.50" width="0.70" height="31.14" fill="#1e6084" />
<rect x="444.00" y="410.00" width="2.00" height="27.64" fill="#2A86B8" />
<rect x="445.30" y="410.00" width="0.70" height="27.64" fill="#1e6084" />
<rect x="302.16" y="552.97" width="2.00" height="4.76" fill="#80AED8" />
<rect x="303.46" y="552.97" width="0.70" height="4.76" fill="#5c7d9b" />
<rect x="319.18" y="550.70" width="2.00" height="7.03" fill="#80AED8" />
<rect x="320.48" y="550.70" width="0.70" height="7.03" fill="#5c7d9b" />
<rect x="327.11" y="555.00" width="2.00" height="2.73" fill="#80AED8" />
<rect x="328.41" y="555.00" width="0.70" height="2.73" fill="#5c7d9b" />
<rect x="335.94" y="552.41" width="2.00" height="5.32" fill="#80AED8" />
<rect x="337.24" y="552.41" width="0.70" height="5.32" fill="#5c7d9b" />
<rect x="343.92" y="554.91" width="2.00" height="2.82" fill="#80AED8" />
<rect x="345.22" y="554.91" width="0.70" height="2.82" fill="#5c7d9b" />
<rect x="352.71" y="550.58" width="2.00" height="7.15" fill="#80AED8" />
<rect x="354.01" y="550.58" width="0.70" height="7.15" fill="#5c7d9b" />
<rect x="360.84" y="549.59" width="2.00" height="8.14" fill="#80AED8" />
<rect x="362.14" y="549.59" width="0.70" height="8.14" fill="#5c7d9b" />
<rect x="369.58" y="553.24" width="2.00" height="4.49" fill="#80AED8" />
<rect x="370.88" y="553.24" width="0.70" height="4.49" fill="#5c7d9b" />
<rect x="385.89" y="553.70" width="2.00" height="4.03" fill="#80AED8" />
<rect x="387.19" y="553.70" width="0.70" height="4.03" fill="#5c7d9b" />
<rect x="394.73" y="551.66" width="2.00" height="6.07" fill="#80AED8" />
<rect x="396.03" y="551.66" width="0.70" height="6.07" fill="#5c7d9b" />
<rect x="402.66" y="549.09" width="2.00" height="8.64" fill="#80AED8" />
<rect x="403.96" y="549.09" width="0.70" height="8.64" fill="#5c7d9b" />
<rect x="411.32" y="556.36" width="2.00" height="1.37" fill="#80AED8" />
<rect x="412.62" y="556.36" width="0.70" height="1.37" fill="#5c7d9b" />
<rect x="419.76" y="553.90" width="2.00" height="3.83" fill="#80AED8" />
<rect x="421.06" y="553.90" width="0.70" height="3.83" fill="#5c7d9b" />
<rect x="428.35" y="554.12" width="2.00" height="3.61" fill="#80AED8" />
<rect x="429.65" y="554.12" width="0.70" height="3.61" fill="#5c7d9b" />
<rect x="445.06" y="548.62" width="2.00" height="9.11" fill="#80AED8" />
<rect x="446.36" y="548.62" width="0.70" height="9.11" fill="#5c7d9b" />
<rect x="453.32" y="551.73" width="2.00" height="6.00" fill="#80AED8" />
<rect x="454.62" y="551.73" width="0.70" height="6.00" fill="#5c7d9b" />
<rect x="462.01" y="554.14" width="2.00" height="3.59" fill="#80AED8" />
<rect x="463.31" y="554.14" width="0.70" height="3.59" fill="#5c7d9b" />
<rect x="329.70" y="548.50" width="2.00" height="9.23" fill="#80AED8" />
<rect x="331.00" y="548.50" width="0.70" height="9.23" fill="#5c7d9b" />
<rect x="393.50" y="545.60" width="2.00" height="12.13" fill="#80AED8" />
<rect x="394.80" y="545.60" width="0.70" height="12.13" fill="#5c7d9b" />
<rect x="393.50" y="545.00" width="2.00" height="12.73" fill="#80AED8" />
<rect x="394.80" y="545.00" width="0.70" height="12.73" fill="#5c7d9b" />
<rect x="406.00" y="553.70" width="2.00" height="4.03" fill="#80AED8" />
<rect x="407.30" y="553.70" width="0.70" height="4.03" fill="#5c7d9b" />
<rect x="461.30" y="543.00" width="2.00" height="14.73" fill="#80AED8" />
<rect x="462.60" y="543.00" width="0.70" height="14.73" fill="#5c7d9b" />
<rect x="478.00" y="555.60" width="2.00" height="2.13" fill="#80AED8" />
<rect x="479.30" y="555.60" width="0.70" height="2.13" fill="#5c7d9b" />
<rect x="499.00" y="551.25" width="2.00" height="6.48" fill="#80AED8" />
<rect x="500.30" y="551.25" width="0.70" height="6.48" fill="#5c7d9b" />
<rect x="325.94" y="553.07" width="2.00" height="5.73" fill="#E07028" />
<rect x="327.24" y="553.07" width="0.70" height="5.73" fill="#a1501c" />
<rect x="334.17" y="556.26" width="2.00" height="2.55" fill="#E07028" />
<rect x="335.47" y="556.26" width="0.70" height="2.55" fill="#a1501c" />
<rect x="342.71" y="554.37" width="2.00" height="4.43" fill="#E07028" />
<rect x="344.01" y="554.37" width="0.70" height="4.43" fill="#a1501c" />
<rect x="359.60" y="556.12" width="2.00" height="2.69" fill="#E07028" />
<rect x="360.90" y="556.12" width="0.70" height="2.69" fill="#a1501c" />
<rect x="367.78" y="556.79" width="2.00" height="2.02" fill="#E07028" />
<rect x="369.08" y="556.79" width="0.70" height="2.02" fill="#a1501c" />
<rect x="376.06" y="557.56" width="2.00" height="1.25" fill="#E07028" />
<rect x="377.36" y="557.56" width="0.70" height="1.25" fill="#a1501c" />
<rect x="393.10" y="549.22" width="2.00" height="9.59" fill="#E07028" />
<rect x="394.40" y="549.22" width="0.70" height="9.59" fill="#a1501c" />
<rect x="401.76" y="555.55" width="2.00" height="3.26" fill="#E07028" />
<rect x="403.06" y="555.55" width="0.70" height="3.26" fill="#a1501c" />
<rect x="409.72" y="557.11" width="2.00" height="1.70" fill="#E07028" />
<rect x="411.02" y="557.11" width="0.70" height="1.70" fill="#a1501c" />
<rect x="418.22" y="557.47" width="2.00" height="1.33" fill="#E07028" />
<rect x="419.52" y="557.47" width="0.70" height="1.33" fill="#a1501c" />
<rect x="426.78" y="548.36" width="2.00" height="10.45" fill="#E07028" />
<rect x="428.08" y="548.36" width="0.70" height="10.45" fill="#a1501c" />
<rect x="443.33" y="554.33" width="2.00" height="4.48" fill="#E07028" />
<rect x="444.63" y="554.33" width="0.70" height="4.48" fill="#a1501c" />
<rect x="460.16" y="555.59" width="2.00" height="3.22" fill="#E07028" />
<rect x="461.46" y="555.59" width="0.70" height="3.22" fill="#a1501c" />
<rect x="485.34" y="556.19" width="2.00" height="2.62" fill="#E07028" />
<rect x="486.64" y="556.19" width="0.70" height="2.62" fill="#a1501c" />
<rect x="339.30" y="551.30" width="2.00" height="7.51" fill="#E07028" />
<rect x="340.60" y="551.30" width="0.70" height="7.51" fill="#a1501c" />
<rect x="298.93" y="558.95" width="2.00" height="0.94" fill="#1F6A80" />
<rect x="300.23" y="558.95" width="0.70" height="0.94" fill="#164c5c" />
<rect x="307.35" y="557.44" width="2.00" height="2.44" fill="#1F6A80" />
<rect x="308.65" y="557.44" width="0.70" height="2.44" fill="#164c5c" />
<rect x="316.00" y="556.96" width="2.00" height="2.92" fill="#1F6A80" />
<rect x="317.30" y="556.96" width="0.70" height="2.92" fill="#164c5c" />
<rect x="324.31" y="553.94" width="2.00" height="5.94" fill="#1F6A80" />
<rect x="325.61" y="553.94" width="0.70" height="5.94" fill="#164c5c" />
<rect x="333.00" y="549.64" width="2.00" height="10.24" fill="#1F6A80" />
<rect x="334.30" y="549.64" width="0.70" height="10.24" fill="#164c5c" />
<rect x="349.73" y="556.75" width="2.00" height="3.13" fill="#1F6A80" />
<rect x="351.03" y="556.75" width="0.70" height="3.13" fill="#164c5c" />
<rect x="383.21" y="558.75" width="2.00" height="1.14" fill="#1F6A80" />
<rect x="384.51" y="558.75" width="0.70" height="1.14" fill="#164c5c" />
<rect x="408.30" y="553.86" width="2.00" height="6.03" fill="#1F6A80" />
<rect x="409.60" y="553.86" width="0.70" height="6.03" fill="#164c5c" />
<rect x="416.87" y="548.94" width="2.00" height="10.95" fill="#1F6A80" />
<rect x="418.17" y="548.94" width="0.70" height="10.95" fill="#164c5c" />
<rect x="425.09" y="555.69" width="2.00" height="4.19" fill="#1F6A80" />
<rect x="426.39" y="555.69" width="0.70" height="4.19" fill="#164c5c" />
<rect x="442.03" y="554.14" width="2.00" height="5.75" fill="#1F6A80" />
<rect x="443.33" y="554.14" width="0.70" height="5.75" fill="#164c5c" />
<rect x="467.39" y="555.59" width="2.00" height="4.29" fill="#1F6A80" />
<rect x="468.69" y="555.59" width="0.70" height="4.29" fill="#164c5c" />
<rect x="492.28" y="559.01" width="2.00" height="0.87" fill="#1F6A80" />
<rect x="493.58" y="559.01" width="0.70" height="0.87" fill="#164c5c" />
<rect x="306.11" y="557.08" width="2.00" height="3.89" fill="#5A3A6A" />
<rect x="307.41" y="557.08" width="0.70" height="3.89" fill="#40294c" />
<rect x="323.21" y="559.56" width="2.00" height="1.41" fill="#5A3A6A" />
<rect x="324.51" y="559.56" width="0.70" height="1.41" fill="#40294c" />
<rect x="331.45" y="555.32" width="2.00" height="5.64" fill="#5A3A6A" />
<rect x="332.75" y="555.32" width="0.70" height="5.64" fill="#40294c" />
<rect x="340.08" y="559.88" width="2.00" height="1.08" fill="#5A3A6A" />
<rect x="341.38" y="559.88" width="0.70" height="1.08" fill="#40294c" />
<rect x="348.36" y="555.30" width="2.00" height="5.66" fill="#5A3A6A" />
<rect x="349.66" y="555.30" width="0.70" height="5.66" fill="#40294c" />
<rect x="356.89" y="560.24" width="2.00" height="0.72" fill="#5A3A6A" />
<rect x="358.19" y="560.24" width="0.70" height="0.72" fill="#40294c" />
<rect x="373.48" y="556.62" width="2.00" height="4.34" fill="#5A3A6A" />
<rect x="374.78" y="556.62" width="0.70" height="4.34" fill="#40294c" />
<rect x="381.96" y="559.92" width="2.00" height="1.04" fill="#5A3A6A" />
<rect x="383.26" y="559.92" width="0.70" height="1.04" fill="#40294c" />
<rect x="407.07" y="557.88" width="2.00" height="3.08" fill="#5A3A6A" />
<rect x="408.37" y="557.88" width="0.70" height="3.08" fill="#40294c" />
<rect x="423.62" y="559.42" width="2.00" height="1.54" fill="#5A3A6A" />
<rect x="424.92" y="559.42" width="0.70" height="1.54" fill="#40294c" />
<rect x="432.37" y="559.56" width="2.00" height="1.40" fill="#5A3A6A" />
<rect x="433.67" y="559.56" width="0.70" height="1.40" fill="#40294c" />
<rect x="440.53" y="557.50" width="2.00" height="3.46" fill="#5A3A6A" />
<rect x="441.83" y="557.50" width="0.70" height="3.46" fill="#40294c" />
<rect x="449.23" y="560.21" width="2.00" height="0.75" fill="#5A3A6A" />
<rect x="450.53" y="560.21" width="0.70" height="0.75" fill="#40294c" />
<rect x="457.74" y="558.02" width="2.00" height="2.94" fill="#5A3A6A" />
<rect x="459.04" y="558.02" width="0.70" height="2.94" fill="#40294c" />
<rect x="296.57" y="553.64" width="2.00" height="8.40" fill="#6A8A40" />
<rect x="297.87" y="553.64" width="0.70" height="8.40" fill="#4c632e" />
<rect x="313.45" y="559.13" width="2.00" height="2.91" fill="#6A8A40" />
<rect x="314.75" y="559.13" width="0.70" height="2.91" fill="#4c632e" />
<rect x="321.36" y="558.44" width="2.00" height="3.60" fill="#6A8A40" />
<rect x="322.66" y="558.44" width="0.70" height="3.60" fill="#4c632e" />
<rect x="346.97" y="558.54" width="2.00" height="3.50" fill="#6A8A40" />
<rect x="348.27" y="558.54" width="0.70" height="3.50" fill="#4c632e" />
<rect x="354.93" y="555.71" width="2.00" height="6.33" fill="#6A8A40" />
<rect x="356.23" y="555.71" width="0.70" height="6.33" fill="#4c632e" />
<rect x="363.35" y="560.19" width="2.00" height="1.85" fill="#6A8A40" />
<rect x="364.65" y="560.19" width="0.70" height="1.85" fill="#4c632e" />
<rect x="371.83" y="553.31" width="2.00" height="8.73" fill="#6A8A40" />
<rect x="373.13" y="553.31" width="0.70" height="8.73" fill="#4c632e" />
<rect x="380.09" y="559.37" width="2.00" height="2.67" fill="#6A8A40" />
<rect x="381.39" y="559.37" width="0.70" height="2.67" fill="#4c632e" />
<rect x="388.87" y="560.27" width="2.00" height="1.77" fill="#6A8A40" />
<rect x="390.17" y="560.27" width="0.70" height="1.77" fill="#4c632e" />
<rect x="397.15" y="556.78" width="2.00" height="5.26" fill="#6A8A40" />
<rect x="398.45" y="556.78" width="0.70" height="5.26" fill="#4c632e" />
<rect x="405.86" y="561.00" width="2.00" height="1.04" fill="#6A8A40" />
<rect x="407.16" y="561.00" width="0.70" height="1.04" fill="#4c632e" />
<rect x="414.21" y="551.96" width="2.00" height="10.08" fill="#6A8A40" />
<rect x="415.51" y="551.96" width="0.70" height="10.08" fill="#4c632e" />
<rect x="447.73" y="557.96" width="2.00" height="4.08" fill="#6A8A40" />
<rect x="449.03" y="557.96" width="0.70" height="4.08" fill="#4c632e" />
<rect x="456.03" y="553.10" width="2.00" height="8.94" fill="#6A8A40" />
<rect x="457.33" y="553.10" width="0.70" height="8.94" fill="#4c632e" />
<rect x="464.38" y="560.85" width="2.00" height="1.19" fill="#6A8A40" />
<rect x="465.68" y="560.85" width="0.70" height="1.19" fill="#4c632e" />
<rect x="489.73" y="559.88" width="2.00" height="2.16" fill="#6A8A40" />
<rect x="491.03" y="559.88" width="0.70" height="2.16" fill="#4c632e" />
<rect x="304.00" y="558.30" width="2.00" height="3.74" fill="#6A8A40" />
<rect x="305.30" y="558.30" width="0.70" height="3.74" fill="#4c632e" />
<rect x="324.40" y="551.30" width="2.00" height="10.74" fill="#6A8A40" />
<rect x="325.70" y="551.30" width="0.70" height="10.74" fill="#4c632e" />
<rect x="359.00" y="555.40" width="2.00" height="6.64" fill="#6A8A40" />
<rect x="360.30" y="555.40" width="0.70" height="6.64" fill="#4c632e" />
<rect x="434.00" y="554.80" width="2.00" height="7.24" fill="#6A8A40" />
<rect x="435.30" y="554.80" width="0.70" height="7.24" fill="#4c632e" />
<rect x="294.98" y="556.38" width="2.00" height="6.74" fill="#8B2030" />
<rect x="296.28" y="556.38" width="0.70" height="6.74" fill="#641722" />
<rect x="311.64" y="561.82" width="2.00" height="1.29" fill="#8B2030" />
<rect x="312.94" y="561.82" width="0.70" height="1.29" fill="#641722" />
<rect x="320.02" y="555.21" width="2.00" height="7.90" fill="#8B2030" />
<rect x="321.32" y="555.21" width="0.70" height="7.90" fill="#641722" />
<rect x="328.72" y="553.03" width="2.00" height="10.09" fill="#8B2030" />
<rect x="330.02" y="553.03" width="0.70" height="10.09" fill="#641722" />
<rect x="336.85" y="558.06" width="2.00" height="5.05" fill="#8B2030" />
<rect x="338.15" y="558.06" width="0.70" height="5.05" fill="#641722" />
<rect x="345.46" y="556.81" width="2.00" height="6.31" fill="#8B2030" />
<rect x="346.76" y="556.81" width="0.70" height="6.31" fill="#641722" />
<rect x="353.64" y="558.30" width="2.00" height="4.81" fill="#8B2030" />
<rect x="354.94" y="558.30" width="0.70" height="4.81" fill="#641722" />
<rect x="370.82" y="555.89" width="2.00" height="7.23" fill="#8B2030" />
<rect x="372.12" y="555.89" width="0.70" height="7.23" fill="#641722" />
<rect x="396.03" y="553.56" width="2.00" height="9.56" fill="#8B2030" />
<rect x="397.33" y="553.56" width="0.70" height="9.56" fill="#641722" />
<rect x="404.19" y="554.99" width="2.00" height="8.12" fill="#8B2030" />
<rect x="405.49" y="554.99" width="0.70" height="8.12" fill="#641722" />
<rect x="412.29" y="557.72" width="2.00" height="5.39" fill="#8B2030" />
<rect x="413.59" y="557.72" width="0.70" height="5.39" fill="#641722" />
<rect x="420.90" y="555.94" width="2.00" height="7.17" fill="#8B2030" />
<rect x="422.20" y="555.94" width="0.70" height="7.17" fill="#641722" />
<rect x="437.70" y="551.39" width="2.00" height="11.72" fill="#8B2030" />
<rect x="439.00" y="551.39" width="0.70" height="11.72" fill="#641722" />
<rect x="446.30" y="560.04" width="2.00" height="3.07" fill="#8B2030" />
<rect x="447.60" y="560.04" width="0.70" height="3.07" fill="#641722" />
<rect x="462.99" y="557.68" width="2.00" height="5.44" fill="#8B2030" />
<rect x="464.29" y="557.68" width="0.70" height="5.44" fill="#641722" />
<rect x="479.89" y="560.30" width="2.00" height="2.81" fill="#8B2030" />
<rect x="481.19" y="560.30" width="0.70" height="2.81" fill="#641722" />
<rect x="301.80" y="554.80" width="2.00" height="8.32" fill="#8B2030" />
<rect x="303.10" y="554.80" width="0.70" height="8.32" fill="#641722" />
<rect x="341.50" y="554.80" width="2.00" height="8.32" fill="#8B2030" />
<rect x="342.80" y="554.80" width="0.70" height="8.32" fill="#641722" />
<rect x="416.00" y="547.30" width="2.00" height="15.82" fill="#8B2030" />
<rect x="417.30" y="547.30" width="0.70" height="15.82" fill="#641722" />
<rect x="454.00" y="518.75" width="2.00" height="44.37" fill="#8B2030" />
<rect x="455.30" y="518.75" width="0.70" height="44.37" fill="#641722" />
<rect x="318.56" y="562.08" width="2.00" height="2.11" fill="#1F4A78" />
<rect x="319.86" y="562.08" width="0.70" height="2.11" fill="#163556" />
<rect x="344.08" y="554.18" width="2.00" height="10.01" fill="#1F4A78" />
<rect x="345.38" y="554.18" width="0.70" height="10.01" fill="#163556" />
<rect x="352.03" y="553.63" width="2.00" height="10.56" fill="#1F4A78" />
<rect x="353.33" y="553.63" width="0.70" height="10.56" fill="#163556" />
<rect x="360.47" y="561.62" width="2.00" height="2.57" fill="#1F4A78" />
<rect x="361.77" y="561.62" width="0.70" height="2.57" fill="#163556" />
<rect x="368.93" y="550.61" width="2.00" height="13.58" fill="#1F4A78" />
<rect x="370.23" y="550.61" width="0.70" height="13.58" fill="#163556" />
<rect x="377.55" y="561.56" width="2.00" height="2.63" fill="#1F4A78" />
<rect x="378.85" y="561.56" width="0.70" height="2.63" fill="#163556" />
<rect x="394.48" y="560.61" width="2.00" height="3.58" fill="#1F4A78" />
<rect x="395.78" y="560.61" width="0.70" height="3.58" fill="#163556" />
<rect x="402.62" y="558.82" width="2.00" height="5.37" fill="#1F4A78" />
<rect x="403.92" y="558.82" width="0.70" height="5.37" fill="#163556" />
<rect x="428.18" y="551.39" width="2.00" height="12.81" fill="#1F4A78" />
<rect x="429.48" y="551.39" width="0.70" height="12.81" fill="#163556" />
<rect x="436.25" y="551.37" width="2.00" height="12.82" fill="#1F4A78" />
<rect x="437.55" y="551.37" width="0.70" height="12.82" fill="#163556" />
<rect x="495.39" y="563.25" width="2.00" height="0.94" fill="#1F4A78" />
<rect x="496.69" y="563.25" width="0.70" height="0.94" fill="#163556" />
<rect x="306.60" y="556.00" width="2.00" height="8.19" fill="#1F4A78" />
<rect x="307.90" y="556.00" width="0.70" height="8.19" fill="#163556" />
<rect x="321.60" y="553.00" width="2.00" height="11.19" fill="#1F4A78" />
<rect x="322.90" y="553.00" width="0.70" height="11.19" fill="#163556" />
<rect x="326.00" y="556.00" width="2.00" height="8.19" fill="#1F4A78" />
<rect x="327.30" y="556.00" width="0.70" height="8.19" fill="#163556" />
<rect x="355.50" y="550.20" width="2.00" height="13.99" fill="#1F4A78" />
<rect x="356.80" y="550.20" width="0.70" height="13.99" fill="#163556" />
<rect x="376.50" y="542.70" width="2.00" height="21.49" fill="#1F4A78" />
<rect x="377.80" y="542.70" width="0.70" height="21.49" fill="#163556" />
<rect x="385.00" y="545.60" width="2.00" height="18.59" fill="#1F4A78" />
<rect x="386.30" y="545.60" width="0.70" height="18.59" fill="#163556" />
<rect x="398.00" y="556.00" width="2.00" height="8.19" fill="#1F4A78" />
<rect x="399.30" y="556.00" width="0.70" height="8.19" fill="#163556" />
<rect x="413.50" y="556.00" width="2.00" height="8.19" fill="#1F4A78" />
<rect x="414.80" y="556.00" width="0.70" height="8.19" fill="#163556" />
<rect x="422.00" y="553.70" width="2.00" height="10.49" fill="#1F4A78" />
<rect x="423.30" y="553.70" width="0.70" height="10.49" fill="#163556" />
<rect x="452.00" y="541.00" width="2.00" height="23.19" fill="#1F4A78" />
<rect x="453.30" y="541.00" width="0.70" height="23.19" fill="#163556" />
<rect x="451.50" y="541.25" width="2.00" height="22.94" fill="#1F4A78" />
<rect x="452.80" y="541.25" width="0.70" height="22.94" fill="#163556" />
<rect x="490.50" y="553.10" width="2.00" height="11.09" fill="#1F4A78" />
<rect x="491.80" y="553.10" width="0.70" height="11.09" fill="#163556" />
<rect x="300.58" y="563.96" width="2.00" height="1.31" fill="#F09050" />
<rect x="301.88" y="563.96" width="0.70" height="1.31" fill="#ac6739" />
<rect x="308.74" y="558.76" width="2.00" height="6.51" fill="#F09050" />
<rect x="310.04" y="558.76" width="0.70" height="6.51" fill="#ac6739" />
<rect x="317.08" y="562.25" width="2.00" height="3.02" fill="#F09050" />
<rect x="318.38" y="562.25" width="0.70" height="3.02" fill="#ac6739" />
<rect x="334.34" y="563.41" width="2.00" height="1.86" fill="#F09050" />
<rect x="335.64" y="563.41" width="0.70" height="1.86" fill="#ac6739" />
<rect x="342.50" y="560.14" width="2.00" height="5.13" fill="#F09050" />
<rect x="343.80" y="560.14" width="0.70" height="5.13" fill="#ac6739" />
<rect x="359.01" y="554.42" width="2.00" height="10.85" fill="#F09050" />
<rect x="360.31" y="554.42" width="0.70" height="10.85" fill="#ac6739" />
<rect x="376.23" y="561.36" width="2.00" height="3.91" fill="#F09050" />
<rect x="377.53" y="561.36" width="0.70" height="3.91" fill="#ac6739" />
<rect x="392.86" y="560.90" width="2.00" height="4.37" fill="#F09050" />
<rect x="394.16" y="560.90" width="0.70" height="4.37" fill="#ac6739" />
<rect x="401.19" y="561.58" width="2.00" height="3.69" fill="#F09050" />
<rect x="402.49" y="561.58" width="0.70" height="3.69" fill="#ac6739" />
<rect x="409.66" y="562.53" width="2.00" height="2.74" fill="#F09050" />
<rect x="410.96" y="562.53" width="0.70" height="2.74" fill="#ac6739" />
<rect x="417.86" y="563.34" width="2.00" height="1.93" fill="#F09050" />
<rect x="419.16" y="563.34" width="0.70" height="1.93" fill="#ac6739" />
<rect x="426.48" y="560.35" width="2.00" height="4.92" fill="#F09050" />
<rect x="427.78" y="560.35" width="0.70" height="4.92" fill="#ac6739" />
<rect x="434.71" y="563.66" width="2.00" height="1.61" fill="#F09050" />
<rect x="436.01" y="563.66" width="0.70" height="1.61" fill="#ac6739" />
<rect x="451.59" y="557.24" width="2.00" height="8.03" fill="#F09050" />
<rect x="452.89" y="557.24" width="0.70" height="8.03" fill="#ac6739" />
<rect x="468.78" y="563.21" width="2.00" height="2.06" fill="#F09050" />
<rect x="470.08" y="563.21" width="0.70" height="2.06" fill="#ac6739" />
<rect x="476.72" y="563.96" width="2.00" height="1.31" fill="#F09050" />
<rect x="478.02" y="563.96" width="0.70" height="1.31" fill="#ac6739" />
<rect x="485.52" y="563.40" width="2.00" height="1.87" fill="#F09050" />
<rect x="486.82" y="563.40" width="0.70" height="1.87" fill="#ac6739" />
<rect x="299.00" y="560.60" width="2.00" height="4.67" fill="#F09050" />
<rect x="300.30" y="560.60" width="0.70" height="4.67" fill="#ac6739" />
<rect x="315.60" y="553.00" width="2.00" height="12.27" fill="#F09050" />
<rect x="316.90" y="553.00" width="0.70" height="12.27" fill="#ac6739" />
<rect x="335.00" y="559.40" width="2.00" height="5.87" fill="#F09050" />
<rect x="336.30" y="559.40" width="0.70" height="5.87" fill="#ac6739" />
<rect x="340.00" y="551.30" width="2.00" height="13.97" fill="#F09050" />
<rect x="341.30" y="551.30" width="0.70" height="13.97" fill="#ac6739" />
<rect x="381.00" y="552.50" width="2.00" height="12.77" fill="#F09050" />
<rect x="382.30" y="552.50" width="0.70" height="12.77" fill="#ac6739" />
<rect x="396.00" y="553.00" width="2.00" height="12.27" fill="#F09050" />
<rect x="397.30" y="553.00" width="0.70" height="12.27" fill="#ac6739" />
<rect x="465.00" y="552.50" width="2.00" height="12.77" fill="#F09050" />
<rect x="466.30" y="552.50" width="0.70" height="12.77" fill="#ac6739" />
<rect x="290.69" y="564.78" width="2.00" height="1.56" fill="#20A8B8" />
<rect x="291.99" y="564.78" width="0.70" height="1.56" fill="#177884" />
<rect x="298.75" y="564.31" width="2.00" height="2.04" fill="#20A8B8" />
<rect x="300.05" y="564.31" width="0.70" height="2.04" fill="#177884" />
<rect x="324.12" y="556.48" width="2.00" height="9.87" fill="#20A8B8" />
<rect x="325.42" y="556.48" width="0.70" height="9.87" fill="#177884" />
<rect x="332.78" y="554.00" width="2.00" height="12.34" fill="#20A8B8" />
<rect x="334.08" y="554.00" width="0.70" height="12.34" fill="#177884" />
<rect x="349.60" y="554.40" width="2.00" height="11.94" fill="#20A8B8" />
<rect x="350.90" y="554.40" width="0.70" height="11.94" fill="#177884" />
<rect x="358.06" y="562.13" width="2.00" height="4.22" fill="#20A8B8" />
<rect x="359.36" y="562.13" width="0.70" height="4.22" fill="#177884" />
<rect x="366.33" y="564.92" width="2.00" height="1.43" fill="#20A8B8" />
<rect x="367.63" y="564.92" width="0.70" height="1.43" fill="#177884" />
<rect x="374.80" y="559.50" width="2.00" height="6.85" fill="#20A8B8" />
<rect x="376.10" y="559.50" width="0.70" height="6.85" fill="#177884" />
<rect x="383.27" y="555.09" width="2.00" height="11.26" fill="#20A8B8" />
<rect x="384.57" y="555.09" width="0.70" height="11.26" fill="#177884" />
<rect x="391.57" y="564.59" width="2.00" height="1.76" fill="#20A8B8" />
<rect x="392.87" y="564.59" width="0.70" height="1.76" fill="#177884" />
<rect x="399.55" y="560.09" width="2.00" height="6.25" fill="#20A8B8" />
<rect x="400.85" y="560.09" width="0.70" height="6.25" fill="#177884" />
<rect x="416.90" y="563.85" width="2.00" height="2.50" fill="#20A8B8" />
<rect x="418.20" y="563.85" width="0.70" height="2.50" fill="#177884" />
<rect x="424.93" y="551.62" width="2.00" height="14.72" fill="#20A8B8" />
<rect x="426.23" y="551.62" width="0.70" height="14.72" fill="#177884" />
<rect x="433.27" y="557.94" width="2.00" height="8.40" fill="#20A8B8" />
<rect x="434.57" y="557.94" width="0.70" height="8.40" fill="#177884" />
<rect x="441.88" y="560.92" width="2.00" height="5.42" fill="#20A8B8" />
<rect x="443.18" y="560.92" width="0.70" height="5.42" fill="#177884" />
<rect x="466.86" y="563.48" width="2.00" height="2.87" fill="#20A8B8" />
<rect x="468.16" y="563.48" width="0.70" height="2.87" fill="#177884" />
<rect x="297.00" y="560.00" width="2.00" height="6.35" fill="#20A8B8" />
<rect x="298.30" y="560.00" width="0.70" height="6.35" fill="#177884" />
<rect x="309.00" y="553.00" width="2.00" height="13.35" fill="#20A8B8" />
<rect x="310.30" y="553.00" width="0.70" height="13.35" fill="#177884" />
<rect x="318.50" y="547.90" width="2.00" height="18.45" fill="#20A8B8" />
<rect x="319.80" y="547.90" width="0.70" height="18.45" fill="#177884" />
<rect x="344.80" y="557.70" width="2.00" height="8.65" fill="#20A8B8" />
<rect x="346.10" y="557.70" width="0.70" height="8.65" fill="#177884" />
<rect x="352.20" y="544.40" width="2.00" height="21.95" fill="#20A8B8" />
<rect x="353.50" y="544.40" width="0.70" height="21.95" fill="#177884" />
<rect x="361.40" y="554.80" width="2.00" height="11.55" fill="#20A8B8" />
<rect x="362.70" y="554.80" width="0.70" height="11.55" fill="#177884" />
<rect x="410.50" y="556.00" width="2.00" height="10.35" fill="#20A8B8" />
<rect x="411.80" y="556.00" width="0.70" height="10.35" fill="#177884" />
<rect x="429.00" y="555.40" width="2.00" height="10.95" fill="#20A8B8" />
<rect x="430.30" y="555.40" width="0.70" height="10.95" fill="#177884" />
<rect x="441.00" y="548.50" width="2.00" height="17.85" fill="#20A8B8" />
<rect x="442.30" y="548.50" width="0.70" height="17.85" fill="#177884" />
<rect x="457.00" y="554.40" width="2.00" height="11.95" fill="#20A8B8" />
<rect x="458.30" y="554.40" width="0.70" height="11.95" fill="#177884" />
<rect x="487.00" y="565.00" width="2.00" height="1.35" fill="#20A8B8" />
<rect x="488.30" y="565.00" width="0.70" height="1.35" fill="#177884" />
<rect x="289.37" y="564.51" width="2.00" height="2.92" fill="#9A88C0" />
<rect x="290.67" y="564.51" width="0.70" height="2.92" fill="#6e618a" />
<rect x="297.31" y="564.13" width="2.00" height="3.30" fill="#9A88C0" />
<rect x="298.61" y="564.13" width="0.70" height="3.30" fill="#6e618a" />
<rect x="314.22" y="565.78" width="2.00" height="1.65" fill="#9A88C0" />
<rect x="315.52" y="565.78" width="0.70" height="1.65" fill="#6e618a" />
<rect x="322.80" y="565.84" width="2.00" height="1.59" fill="#9A88C0" />
<rect x="324.10" y="565.84" width="0.70" height="1.59" fill="#6e618a" />
<rect x="331.05" y="561.30" width="2.00" height="6.12" fill="#9A88C0" />
<rect x="332.35" y="561.30" width="0.70" height="6.12" fill="#6e618a" />
<rect x="348.04" y="562.71" width="2.00" height="4.71" fill="#9A88C0" />
<rect x="349.34" y="562.71" width="0.70" height="4.71" fill="#6e618a" />
<rect x="356.44" y="566.64" width="2.00" height="0.78" fill="#9A88C0" />
<rect x="357.74" y="566.64" width="0.70" height="0.78" fill="#6e618a" />
<rect x="364.86" y="565.95" width="2.00" height="1.48" fill="#9A88C0" />
<rect x="366.16" y="565.95" width="0.70" height="1.48" fill="#6e618a" />
<rect x="373.47" y="562.69" width="2.00" height="4.73" fill="#9A88C0" />
<rect x="374.77" y="562.69" width="0.70" height="4.73" fill="#6e618a" />
<rect x="381.62" y="566.62" width="2.00" height="0.80" fill="#9A88C0" />
<rect x="382.92" y="566.62" width="0.70" height="0.80" fill="#6e618a" />
<rect x="389.96" y="562.79" width="2.00" height="4.63" fill="#9A88C0" />
<rect x="391.26" y="562.79" width="0.70" height="4.63" fill="#6e618a" />
<rect x="415.07" y="565.94" width="2.00" height="1.49" fill="#9A88C0" />
<rect x="416.37" y="565.94" width="0.70" height="1.49" fill="#6e618a" />
<rect x="423.89" y="562.25" width="2.00" height="5.17" fill="#9A88C0" />
<rect x="425.19" y="562.25" width="0.70" height="5.17" fill="#6e618a" />
<rect x="448.57" y="565.93" width="2.00" height="1.50" fill="#9A88C0" />
<rect x="449.87" y="565.93" width="0.70" height="1.50" fill="#6e618a" />
<rect x="465.87" y="562.73" width="2.00" height="4.69" fill="#9A88C0" />
<rect x="467.17" y="562.73" width="0.70" height="4.69" fill="#6e618a" />
<rect x="313.00" y="557.10" width="2.00" height="10.32" fill="#9A88C0" />
<rect x="314.30" y="557.10" width="0.70" height="10.32" fill="#6e618a" />
<rect x="390.00" y="556.00" width="2.00" height="11.42" fill="#9A88C0" />
<rect x="391.30" y="556.00" width="0.70" height="11.42" fill="#6e618a" />
<rect x="296.39" y="565.38" width="2.00" height="3.12" fill="#A0C870" />
<rect x="297.69" y="565.38" width="0.70" height="3.12" fill="#739050" />
<rect x="312.73" y="564.19" width="2.00" height="4.31" fill="#A0C870" />
<rect x="314.03" y="564.19" width="0.70" height="4.31" fill="#739050" />
<rect x="321.60" y="567.54" width="2.00" height="0.96" fill="#A0C870" />
<rect x="322.90" y="567.54" width="0.70" height="0.96" fill="#739050" />
<rect x="355.02" y="567.74" width="2.00" height="0.76" fill="#A0C870" />
<rect x="356.32" y="567.74" width="0.70" height="0.76" fill="#739050" />
<rect x="363.11" y="561.99" width="2.00" height="6.51" fill="#A0C870" />
<rect x="364.41" y="561.99" width="0.70" height="6.51" fill="#739050" />
<rect x="388.46" y="564.66" width="2.00" height="3.84" fill="#A0C870" />
<rect x="389.76" y="564.66" width="0.70" height="3.84" fill="#739050" />
<rect x="396.72" y="565.41" width="2.00" height="3.09" fill="#A0C870" />
<rect x="398.02" y="565.41" width="0.70" height="3.09" fill="#739050" />
<rect x="405.21" y="567.17" width="2.00" height="1.33" fill="#A0C870" />
<rect x="406.51" y="567.17" width="0.70" height="1.33" fill="#739050" />
<rect x="413.51" y="563.28" width="2.00" height="5.22" fill="#A0C870" />
<rect x="414.81" y="563.28" width="0.70" height="5.22" fill="#739050" />
<rect x="422.45" y="563.16" width="2.00" height="5.34" fill="#A0C870" />
<rect x="423.75" y="563.16" width="0.70" height="5.34" fill="#739050" />
<rect x="430.56" y="565.48" width="2.00" height="3.02" fill="#A0C870" />
<rect x="431.86" y="565.48" width="0.70" height="3.02" fill="#739050" />
<rect x="439.28" y="567.58" width="2.00" height="0.92" fill="#A0C870" />
<rect x="440.58" y="567.58" width="0.70" height="0.92" fill="#739050" />
<rect x="447.36" y="567.19" width="2.00" height="1.31" fill="#A0C870" />
<rect x="448.66" y="567.19" width="0.70" height="1.31" fill="#739050" />
<rect x="464.25" y="565.31" width="2.00" height="3.19" fill="#A0C870" />
<rect x="465.55" y="565.31" width="0.70" height="3.19" fill="#739050" />
<rect x="438.00" y="541.00" width="2.00" height="27.50" fill="#A0C870" />
<rect x="439.30" y="541.00" width="0.70" height="27.50" fill="#739050" />
<rect x="286.18" y="568.75" width="2.00" height="0.83" fill="#D86060" />
<rect x="287.48" y="568.75" width="0.70" height="0.83" fill="#9b4545" />
<rect x="294.42" y="567.80" width="2.00" height="1.78" fill="#D86060" />
<rect x="295.72" y="567.80" width="0.70" height="1.78" fill="#9b4545" />
<rect x="302.93" y="562.96" width="2.00" height="6.62" fill="#D86060" />
<rect x="304.23" y="562.96" width="0.70" height="6.62" fill="#9b4545" />
<rect x="311.54" y="562.76" width="2.00" height="6.82" fill="#D86060" />
<rect x="312.84" y="562.76" width="0.70" height="6.82" fill="#9b4545" />
<rect x="336.66" y="563.11" width="2.00" height="6.46" fill="#D86060" />
<rect x="337.96" y="563.11" width="0.70" height="6.46" fill="#9b4545" />
<rect x="344.81" y="566.33" width="2.00" height="3.25" fill="#D86060" />
<rect x="346.11" y="566.33" width="0.70" height="3.25" fill="#9b4545" />
<rect x="353.24" y="559.20" width="2.00" height="10.38" fill="#D86060" />
<rect x="354.54" y="559.20" width="0.70" height="10.38" fill="#9b4545" />
<rect x="361.81" y="567.17" width="2.00" height="2.40" fill="#D86060" />
<rect x="363.11" y="567.17" width="0.70" height="2.40" fill="#9b4545" />
<rect x="370.05" y="557.94" width="2.00" height="11.63" fill="#D86060" />
<rect x="371.35" y="557.94" width="0.70" height="11.63" fill="#9b4545" />
<rect x="378.96" y="560.15" width="2.00" height="9.43" fill="#D86060" />
<rect x="380.26" y="560.15" width="0.70" height="9.43" fill="#9b4545" />
<rect x="395.78" y="568.26" width="2.00" height="1.32" fill="#D86060" />
<rect x="397.08" y="568.26" width="0.70" height="1.32" fill="#9b4545" />
<rect x="404.04" y="567.15" width="2.00" height="2.43" fill="#D86060" />
<rect x="405.34" y="567.15" width="0.70" height="2.43" fill="#9b4545" />
<rect x="412.22" y="568.37" width="2.00" height="1.21" fill="#D86060" />
<rect x="413.52" y="568.37" width="0.70" height="1.21" fill="#9b4545" />
<rect x="428.86" y="562.00" width="2.00" height="7.58" fill="#D86060" />
<rect x="430.16" y="562.00" width="0.70" height="7.58" fill="#9b4545" />
<rect x="437.45" y="559.17" width="2.00" height="10.41" fill="#D86060" />
<rect x="438.75" y="559.17" width="0.70" height="10.41" fill="#9b4545" />
<rect x="446.24" y="557.01" width="2.00" height="12.57" fill="#D86060" />
<rect x="447.54" y="557.01" width="0.70" height="12.57" fill="#9b4545" />
<rect x="454.62" y="557.39" width="2.00" height="12.18" fill="#D86060" />
<rect x="455.92" y="557.39" width="0.70" height="12.18" fill="#9b4545" />
<rect x="462.50" y="564.92" width="2.00" height="4.65" fill="#D86060" />
<rect x="463.80" y="564.92" width="0.70" height="4.65" fill="#9b4545" />
<rect x="471.45" y="566.28" width="2.00" height="3.29" fill="#D86060" />
<rect x="472.75" y="566.28" width="0.70" height="3.29" fill="#9b4545" />
<rect x="294.50" y="564.60" width="2.00" height="4.98" fill="#D86060" />
<rect x="295.80" y="564.60" width="0.70" height="4.98" fill="#9b4545" />
<rect x="332.00" y="554.80" width="2.00" height="14.78" fill="#D86060" />
<rect x="333.30" y="554.80" width="0.70" height="14.78" fill="#9b4545" />
<rect x="348.00" y="545.60" width="2.00" height="23.98" fill="#D86060" />
<rect x="349.30" y="545.60" width="0.70" height="23.98" fill="#9b4545" />
<rect x="369.00" y="557.70" width="2.00" height="11.88" fill="#D86060" />
<rect x="370.30" y="557.70" width="0.70" height="11.88" fill="#9b4545" />
<rect x="378.50" y="550.80" width="2.00" height="18.78" fill="#D86060" />
<rect x="379.80" y="550.80" width="0.70" height="18.78" fill="#9b4545" />
<rect x="445.50" y="544.40" width="2.00" height="25.18" fill="#D86060" />
<rect x="446.80" y="544.40" width="0.70" height="25.18" fill="#9b4545" />
<rect x="482.00" y="563.00" width="2.00" height="6.58" fill="#D86060" />
<rect x="483.30" y="563.00" width="0.70" height="6.58" fill="#9b4545" />
<rect x="284.60" y="565.76" width="2.00" height="4.89" fill="#2A86B8" />
<rect x="285.90" y="565.76" width="0.70" height="4.89" fill="#1e6084" />
<rect x="293.45" y="565.33" width="2.00" height="5.32" fill="#2A86B8" />
<rect x="294.75" y="565.33" width="0.70" height="5.32" fill="#1e6084" />
<rect x="301.57" y="564.08" width="2.00" height="6.58" fill="#2A86B8" />
<rect x="302.87" y="564.08" width="0.70" height="6.58" fill="#1e6084" />
<rect x="318.52" y="567.35" width="2.00" height="3.30" fill="#2A86B8" />
<rect x="319.82" y="567.35" width="0.70" height="3.30" fill="#1e6084" />
<rect x="335.23" y="556.28" width="2.00" height="14.37" fill="#2A86B8" />
<rect x="336.53" y="556.28" width="0.70" height="14.37" fill="#1e6084" />
<rect x="343.87" y="569.07" width="2.00" height="1.59" fill="#2A86B8" />
<rect x="345.17" y="569.07" width="0.70" height="1.59" fill="#1e6084" />
<rect x="377.48" y="563.54" width="2.00" height="7.12" fill="#2A86B8" />
<rect x="378.78" y="563.54" width="0.70" height="7.12" fill="#1e6084" />
<rect x="385.73" y="569.36" width="2.00" height="1.29" fill="#2A86B8" />
<rect x="387.03" y="569.36" width="0.70" height="1.29" fill="#1e6084" />
<rect x="393.92" y="565.68" width="2.00" height="4.97" fill="#2A86B8" />
<rect x="395.22" y="565.68" width="0.70" height="4.97" fill="#1e6084" />
<rect x="411.15" y="569.20" width="2.00" height="1.45" fill="#2A86B8" />
<rect x="412.45" y="569.20" width="0.70" height="1.45" fill="#1e6084" />
<rect x="419.02" y="566.53" width="2.00" height="4.13" fill="#2A86B8" />
<rect x="420.32" y="566.53" width="0.70" height="4.13" fill="#1e6084" />
<rect x="436.25" y="557.56" width="2.00" height="13.10" fill="#2A86B8" />
<rect x="437.55" y="557.56" width="0.70" height="13.10" fill="#1e6084" />
<rect x="453.04" y="564.34" width="2.00" height="6.32" fill="#2A86B8" />
<rect x="454.34" y="564.34" width="0.70" height="6.32" fill="#1e6084" />
<rect x="461.40" y="567.60" width="2.00" height="3.06" fill="#2A86B8" />
<rect x="462.70" y="567.60" width="0.70" height="3.06" fill="#1e6084" />
<rect x="486.24" y="570.00" width="2.00" height="0.65" fill="#2A86B8" />
<rect x="487.54" y="570.00" width="0.70" height="0.65" fill="#1e6084" />
<rect x="291.40" y="565.20" width="2.00" height="5.45" fill="#2A86B8" />
<rect x="292.70" y="565.20" width="0.70" height="5.45" fill="#1e6084" />
<rect x="338.00" y="560.00" width="2.00" height="10.65" fill="#2A86B8" />
<rect x="339.30" y="560.00" width="0.70" height="10.65" fill="#1e6084" />
<rect x="347.00" y="552.50" width="2.00" height="18.15" fill="#2A86B8" />
<rect x="348.30" y="552.50" width="0.70" height="18.15" fill="#1e6084" />
<rect x="364.00" y="544.40" width="2.00" height="26.25" fill="#2A86B8" />
<rect x="365.30" y="544.40" width="0.70" height="26.25" fill="#1e6084" />
<rect x="423.00" y="550.80" width="2.00" height="19.85" fill="#2A86B8" />
<rect x="424.30" y="550.80" width="0.70" height="19.85" fill="#1e6084" />
<rect x="444.00" y="547.90" width="2.00" height="22.75" fill="#2A86B8" />
<rect x="445.30" y="547.90" width="0.70" height="22.75" fill="#1e6084" />
<rect x="449.00" y="547.30" width="2.00" height="23.35" fill="#2A86B8" />
<rect x="450.30" y="547.30" width="0.70" height="23.35" fill="#1e6084" />
<rect x="110.57" y="301.88" width="1.8" height="0.9" fill="#D9605F" opacity="0.8"/>
<rect x="163.82" y="301.88" width="1.8" height="0.9" fill="#D9605F" opacity="0.8"/>
<rect x="185.12" y="301.88" width="1.8" height="0.9" fill="#D9605F" opacity="0.8"/>
<rect x="217.07" y="301.88" width="1.8" height="0.9" fill="#D9605F" opacity="0.8"/>
<rect x="227.72" y="301.88" width="1.8" height="0.9" fill="#D9605F" opacity="0.8"/>
<rect x="80.58" y="300.43" width="1.8" height="0.9" fill="#8E80CC" opacity="0.8"/>
<rect x="101.88" y="300.43" width="1.8" height="0.9" fill="#8E80CC" opacity="0.8"/>
<rect x="123.18" y="300.43" width="1.8" height="0.9" fill="#8E80CC" opacity="0.8"/>
<rect x="133.83" y="300.43" width="1.8" height="0.9" fill="#8E80CC" opacity="0.8"/>
<rect x="155.13" y="300.43" width="1.8" height="0.9" fill="#8E80CC" opacity="0.8"/>
<rect x="165.78" y="300.43" width="1.8" height="0.9" fill="#8E80CC" opacity="0.8"/>
<rect x="50.59" y="298.98" width="1.8" height="0.9" fill="#F0A060" opacity="0.8"/>
<rect x="125.14" y="298.98" width="1.8" height="0.9" fill="#F0A060" opacity="0.8"/>
<rect x="135.79" y="298.98" width="1.8" height="0.9" fill="#F0A060" opacity="0.8"/>
<rect x="146.44" y="298.98" width="1.8" height="0.9" fill="#F0A060" opacity="0.8"/>
<rect x="178.39" y="298.98" width="1.8" height="0.9" fill="#F0A060" opacity="0.8"/>
<rect x="84.50" y="297.53" width="1.8" height="0.9" fill="#842430" opacity="0.8"/>
<rect x="105.80" y="297.53" width="1.8" height="0.9" fill="#842430" opacity="0.8"/>
<rect x="137.75" y="297.53" width="1.8" height="0.9" fill="#842430" opacity="0.8"/>
<rect x="180.35" y="297.53" width="1.8" height="0.9" fill="#842430" opacity="0.8"/>
<rect x="191.00" y="297.53" width="1.8" height="0.9" fill="#842430" opacity="0.8"/>
<rect x="201.65" y="297.53" width="1.8" height="0.9" fill="#842430" opacity="0.8"/>
<rect x="222.95" y="297.53" width="1.8" height="0.9" fill="#842430" opacity="0.8"/>
<rect x="118.40" y="296.08" width="1.8" height="0.9" fill="#4B2F6C" opacity="0.8"/>
<rect x="161.00" y="296.08" width="1.8" height="0.9" fill="#4B2F6C" opacity="0.8"/>
<rect x="182.30" y="296.08" width="1.8" height="0.9" fill="#4B2F6C" opacity="0.8"/>
<rect x="88.41" y="294.62" width="1.8" height="0.9" fill="#E06C1A" opacity="0.8"/>
<rect x="99.06" y="294.62" width="1.8" height="0.9" fill="#E06C1A" opacity="0.8"/>
<rect x="109.71" y="294.62" width="1.8" height="0.9" fill="#E06C1A" opacity="0.8"/>
<rect x="141.66" y="294.62" width="1.8" height="0.9" fill="#E06C1A" opacity="0.8"/>
<rect x="152.31" y="294.62" width="1.8" height="0.9" fill="#E06C1A" opacity="0.8"/>
<rect x="194.91" y="294.62" width="1.8" height="0.9" fill="#E06C1A" opacity="0.8"/>
<rect x="58.42" y="293.18" width="1.8" height="0.9" fill="#E8928F" opacity="0.8"/>
<rect x="79.72" y="293.18" width="1.8" height="0.9" fill="#E8928F" opacity="0.8"/>
<rect x="111.67" y="293.18" width="1.8" height="0.9" fill="#E8928F" opacity="0.8"/>
<rect x="164.92" y="293.18" width="1.8" height="0.9" fill="#E8928F" opacity="0.8"/>
<rect x="186.22" y="293.18" width="1.8" height="0.9" fill="#E8928F" opacity="0.8"/>
<rect x="134.93" y="291.73" width="1.8" height="0.9" fill="#BBA6CC" opacity="0.8"/>
<rect x="209.48" y="291.73" width="1.8" height="0.9" fill="#BBA6CC" opacity="0.8"/>
<rect x="232.74" y="290.28" width="1.8" height="0.9" fill="#F0B488" opacity="0.8"/>
<rect x="66.25" y="287.38" width="1.8" height="0.9" fill="#6B5F95" opacity="0.8"/>
<rect x="140.80" y="287.38" width="1.8" height="0.9" fill="#6B5F95" opacity="0.8"/>
<rect x="236.65" y="287.38" width="1.8" height="0.9" fill="#6B5F95" opacity="0.8"/>
<rect x="247.30" y="287.38" width="1.8" height="0.9" fill="#6B5F95" opacity="0.8"/>
<rect x="89.51" y="285.93" width="1.8" height="0.9" fill="#E58A30" opacity="0.8"/>
<rect x="121.46" y="285.93" width="1.8" height="0.9" fill="#E58A30" opacity="0.8"/>
<rect x="142.76" y="285.93" width="1.8" height="0.9" fill="#E58A30" opacity="0.8"/>
<rect x="153.41" y="285.93" width="1.8" height="0.9" fill="#E58A30" opacity="0.8"/>
<rect x="164.06" y="285.93" width="1.8" height="0.9" fill="#E58A30" opacity="0.8"/>
<rect x="185.36" y="285.93" width="1.8" height="0.9" fill="#E58A30" opacity="0.8"/>
<rect x="196.01" y="285.93" width="1.8" height="0.9" fill="#E58A30" opacity="0.8"/>
<rect x="206.66" y="285.93" width="1.8" height="0.9" fill="#E58A30" opacity="0.8"/>
<rect x="71.29" y="439.66" width="1.8" height="0.9" fill="#D9605F" opacity="0.8"/>
<rect x="81.66" y="439.66" width="1.8" height="0.9" fill="#D9605F" opacity="0.8"/>
<rect x="143.87" y="439.66" width="1.8" height="0.9" fill="#D9605F" opacity="0.8"/>
<rect x="206.08" y="439.66" width="1.8" height="0.9" fill="#D9605F" opacity="0.8"/>
<rect x="42.02" y="438.29" width="1.8" height="0.9" fill="#9A86CC" opacity="0.8"/>
<rect x="83.49" y="438.29" width="1.8" height="0.9" fill="#9A86CC" opacity="0.8"/>
<rect x="93.86" y="438.29" width="1.8" height="0.9" fill="#9A86CC" opacity="0.8"/>
<rect x="135.33" y="438.29" width="1.8" height="0.9" fill="#9A86CC" opacity="0.8"/>
<rect x="145.70" y="438.29" width="1.8" height="0.9" fill="#9A86CC" opacity="0.8"/>
<rect x="166.44" y="438.29" width="1.8" height="0.9" fill="#9A86CC" opacity="0.8"/>
<rect x="197.54" y="438.29" width="1.8" height="0.9" fill="#9A86CC" opacity="0.8"/>
<rect x="106.06" y="436.91" width="1.8" height="0.9" fill="#F0A060" opacity="0.8"/>
<rect x="137.16" y="436.91" width="1.8" height="0.9" fill="#F0A060" opacity="0.8"/>
<rect x="157.90" y="436.91" width="1.8" height="0.9" fill="#F0A060" opacity="0.8"/>
<rect x="189.01" y="436.91" width="1.8" height="0.9" fill="#F0A060" opacity="0.8"/>
<rect x="209.74" y="436.91" width="1.8" height="0.9" fill="#F0A060" opacity="0.8"/>
<rect x="220.11" y="436.91" width="1.8" height="0.9" fill="#F0A060" opacity="0.8"/>
<rect x="45.68" y="435.54" width="1.8" height="0.9" fill="#7A2030" opacity="0.8"/>
<rect x="56.05" y="435.54" width="1.8" height="0.9" fill="#7A2030" opacity="0.8"/>
<rect x="87.16" y="435.54" width="1.8" height="0.9" fill="#7A2030" opacity="0.8"/>
<rect x="107.89" y="435.54" width="1.8" height="0.9" fill="#7A2030" opacity="0.8"/>
<rect x="118.26" y="435.54" width="1.8" height="0.9" fill="#7A2030" opacity="0.8"/>
<rect x="149.37" y="435.54" width="1.8" height="0.9" fill="#7A2030" opacity="0.8"/>
<rect x="180.47" y="435.54" width="1.8" height="0.9" fill="#7A2030" opacity="0.8"/>
<rect x="201.21" y="435.54" width="1.8" height="0.9" fill="#7A2030" opacity="0.8"/>
<rect x="57.88" y="434.16" width="1.8" height="0.9" fill="#4B2F6C" opacity="0.8"/>
<rect x="182.31" y="434.16" width="1.8" height="0.9" fill="#4B2F6C" opacity="0.8"/>
<rect x="203.04" y="434.16" width="1.8" height="0.9" fill="#4B2F6C" opacity="0.8"/>
<rect x="234.15" y="434.16" width="1.8" height="0.9" fill="#4B2F6C" opacity="0.8"/>
<rect x="49.35" y="432.79" width="1.8" height="0.9" fill="#E06C1A" opacity="0.8"/>
<rect x="59.72" y="432.79" width="1.8" height="0.9" fill="#E06C1A" opacity="0.8"/>
<rect x="90.82" y="432.79" width="1.8" height="0.9" fill="#E06C1A" opacity="0.8"/>
<rect x="121.93" y="432.79" width="1.8" height="0.9" fill="#E06C1A" opacity="0.8"/>
<rect x="163.40" y="432.79" width="1.8" height="0.9" fill="#E06C1A" opacity="0.8"/>
<rect x="194.51" y="432.79" width="1.8" height="0.9" fill="#E06C1A" opacity="0.8"/>
<rect x="215.24" y="432.79" width="1.8" height="0.9" fill="#E06C1A" opacity="0.8"/>
<rect x="235.98" y="432.79" width="1.8" height="0.9" fill="#E06C1A" opacity="0.8"/>
<rect x="103.02" y="431.41" width="1.8" height="0.9" fill="#E8928F" opacity="0.8"/>
<rect x="154.87" y="431.41" width="1.8" height="0.9" fill="#E8928F" opacity="0.8"/>
<rect x="165.24" y="431.41" width="1.8" height="0.9" fill="#E8928F" opacity="0.8"/>
<rect x="185.97" y="431.41" width="1.8" height="0.9" fill="#E8928F" opacity="0.8"/>
<rect x="196.34" y="431.41" width="1.8" height="0.9" fill="#E8928F" opacity="0.8"/>
<rect x="217.08" y="431.41" width="1.8" height="0.9" fill="#E8928F" opacity="0.8"/>
<rect x="73.75" y="430.04" width="1.8" height="0.9" fill="#C8A8D8" opacity="0.8"/>
<rect x="84.12" y="430.04" width="1.8" height="0.9" fill="#C8A8D8" opacity="0.8"/>
<rect x="167.07" y="430.04" width="1.8" height="0.9" fill="#C8A8D8" opacity="0.8"/>
<rect x="187.81" y="430.04" width="1.8" height="0.9" fill="#C8A8D8" opacity="0.8"/>
<rect x="218.91" y="430.04" width="1.8" height="0.9" fill="#C8A8D8" opacity="0.8"/>
<rect x="239.65" y="430.04" width="1.8" height="0.9" fill="#C8A8D8" opacity="0.8"/>
<rect x="54.85" y="428.66" width="1.8" height="0.9" fill="#F0B488" opacity="0.8"/>
<rect x="117.06" y="428.66" width="1.8" height="0.9" fill="#F0B488" opacity="0.8"/>
<rect x="137.80" y="428.66" width="1.8" height="0.9" fill="#F0B488" opacity="0.8"/>
<rect x="220.74" y="428.66" width="1.8" height="0.9" fill="#F0B488" opacity="0.8"/>
<rect x="87.79" y="427.29" width="1.8" height="0.9" fill="#C23452" opacity="0.8"/>
<rect x="108.52" y="427.29" width="1.8" height="0.9" fill="#C23452" opacity="0.8"/>
<rect x="139.63" y="427.29" width="1.8" height="0.9" fill="#C23452" opacity="0.8"/>
<rect x="160.37" y="427.29" width="1.8" height="0.9" fill="#C23452" opacity="0.8"/>
<rect x="181.10" y="427.29" width="1.8" height="0.9" fill="#C23452" opacity="0.8"/>
<rect x="222.58" y="427.29" width="1.8" height="0.9" fill="#C23452" opacity="0.8"/>
<rect x="232.95" y="427.29" width="1.8" height="0.9" fill="#C23452" opacity="0.8"/>
<rect x="79.25" y="425.91" width="1.8" height="0.9" fill="#6B5F95" opacity="0.8"/>
<rect x="89.62" y="425.91" width="1.8" height="0.9" fill="#6B5F95" opacity="0.8"/>
<rect x="110.36" y="425.91" width="1.8" height="0.9" fill="#6B5F95" opacity="0.8"/>
<rect x="162.20" y="425.91" width="1.8" height="0.9" fill="#6B5F95" opacity="0.8"/>
<rect x="172.57" y="425.91" width="1.8" height="0.9" fill="#6B5F95" opacity="0.8"/>
<rect x="193.31" y="425.91" width="1.8" height="0.9" fill="#6B5F95" opacity="0.8"/>
<rect x="234.78" y="425.91" width="1.8" height="0.9" fill="#6B5F95" opacity="0.8"/>
<rect x="245.15" y="425.91" width="1.8" height="0.9" fill="#6B5F95" opacity="0.8"/>
<rect x="70.72" y="424.54" width="1.8" height="0.9" fill="#E58A30" opacity="0.8"/>
<rect x="91.45" y="424.54" width="1.8" height="0.9" fill="#E58A30" opacity="0.8"/>
<rect x="101.82" y="424.54" width="1.8" height="0.9" fill="#E58A30" opacity="0.8"/>
<rect x="112.19" y="424.54" width="1.8" height="0.9" fill="#E58A30" opacity="0.8"/>
<rect x="143.30" y="424.54" width="1.8" height="0.9" fill="#E58A30" opacity="0.8"/>
<rect x="153.66" y="424.54" width="1.8" height="0.9" fill="#E58A30" opacity="0.8"/>
<rect x="195.14" y="424.54" width="1.8" height="0.9" fill="#E58A30" opacity="0.8"/>
<rect x="205.51" y="424.54" width="1.8" height="0.9" fill="#E58A30" opacity="0.8"/>
<rect x="215.88" y="424.54" width="1.8" height="0.9" fill="#E58A30" opacity="0.8"/>
<rect x="50.41" y="572.70" width="1.8" height="0.9" fill="#2B8FC8" opacity="0.8"/>
<rect x="70.04" y="572.70" width="1.8" height="0.9" fill="#2B8FC8" opacity="0.8"/>
<rect x="99.47" y="572.70" width="1.8" height="0.9" fill="#2B8FC8" opacity="0.8"/>
<rect x="119.10" y="572.70" width="1.8" height="0.9" fill="#2B8FC8" opacity="0.8"/>
<rect x="138.72" y="572.70" width="1.8" height="0.9" fill="#2B8FC8" opacity="0.8"/>
<rect x="148.54" y="572.70" width="1.8" height="0.9" fill="#2B8FC8" opacity="0.8"/>
<rect x="177.97" y="572.70" width="1.8" height="0.9" fill="#2B8FC8" opacity="0.8"/>
<rect x="187.79" y="572.70" width="1.8" height="0.9" fill="#2B8FC8" opacity="0.8"/>
<rect x="52.08" y="571.41" width="1.8" height="0.9" fill="#E06070" opacity="0.8"/>
<rect x="71.70" y="571.41" width="1.8" height="0.9" fill="#E06070" opacity="0.8"/>
<rect x="81.52" y="571.41" width="1.8" height="0.9" fill="#E06070" opacity="0.8"/>
<rect x="91.33" y="571.41" width="1.8" height="0.9" fill="#E06070" opacity="0.8"/>
<rect x="120.77" y="571.41" width="1.8" height="0.9" fill="#E06070" opacity="0.8"/>
<rect x="169.83" y="571.41" width="1.8" height="0.9" fill="#E06070" opacity="0.8"/>
<rect x="179.64" y="571.41" width="1.8" height="0.9" fill="#E06070" opacity="0.8"/>
<rect x="189.45" y="571.41" width="1.8" height="0.9" fill="#E06070" opacity="0.8"/>
<rect x="53.74" y="570.12" width="1.8" height="0.9" fill="#9AC860" opacity="0.8"/>
<rect x="83.18" y="570.12" width="1.8" height="0.9" fill="#9AC860" opacity="0.8"/>
<rect x="132.24" y="570.12" width="1.8" height="0.9" fill="#9AC860" opacity="0.8"/>
<rect x="151.87" y="570.12" width="1.8" height="0.9" fill="#9AC860" opacity="0.8"/>
<rect x="181.31" y="570.12" width="1.8" height="0.9" fill="#9AC860" opacity="0.8"/>
<rect x="200.93" y="570.12" width="1.8" height="0.9" fill="#9AC860" opacity="0.8"/>
<rect x="143.72" y="568.83" width="1.8" height="0.9" fill="#A070C0" opacity="0.8"/>
<rect x="192.79" y="568.83" width="1.8" height="0.9" fill="#A070C0" opacity="0.8"/>
<rect x="222.22" y="568.83" width="1.8" height="0.9" fill="#A070C0" opacity="0.8"/>
<rect x="47.27" y="567.54" width="1.8" height="0.9" fill="#20B0C0" opacity="0.8"/>
<rect x="57.08" y="567.54" width="1.8" height="0.9" fill="#20B0C0" opacity="0.8"/>
<rect x="66.89" y="567.54" width="1.8" height="0.9" fill="#20B0C0" opacity="0.8"/>
<rect x="86.52" y="567.54" width="1.8" height="0.9" fill="#20B0C0" opacity="0.8"/>
<rect x="96.33" y="567.54" width="1.8" height="0.9" fill="#20B0C0" opacity="0.8"/>
<rect x="125.77" y="567.54" width="1.8" height="0.9" fill="#20B0C0" opacity="0.8"/>
<rect x="184.64" y="567.54" width="1.8" height="0.9" fill="#20B0C0" opacity="0.8"/>
<rect x="233.70" y="567.54" width="1.8" height="0.9" fill="#20B0C0" opacity="0.8"/>
<rect x="48.93" y="566.25" width="1.8" height="0.9" fill="#F09040" opacity="0.8"/>
<rect x="58.74" y="566.25" width="1.8" height="0.9" fill="#F09040" opacity="0.8"/>
<rect x="68.56" y="566.25" width="1.8" height="0.9" fill="#F09040" opacity="0.8"/>
<rect x="97.99" y="566.25" width="1.8" height="0.9" fill="#F09040" opacity="0.8"/>
<rect x="107.81" y="566.25" width="1.8" height="0.9" fill="#F09040" opacity="0.8"/>
<rect x="196.12" y="566.25" width="1.8" height="0.9" fill="#F09040" opacity="0.8"/>
<rect x="70.22" y="564.95" width="1.8" height="0.9" fill="#1F4A70" opacity="0.8"/>
<rect x="89.85" y="564.95" width="1.8" height="0.9" fill="#1F4A70" opacity="0.8"/>
<rect x="99.66" y="564.95" width="1.8" height="0.9" fill="#1F4A70" opacity="0.8"/>
<rect x="109.47" y="564.95" width="1.8" height="0.9" fill="#1F4A70" opacity="0.8"/>
<rect x="119.29" y="564.95" width="1.8" height="0.9" fill="#1F4A70" opacity="0.8"/>
<rect x="138.91" y="564.95" width="1.8" height="0.9" fill="#1F4A70" opacity="0.8"/>
<rect x="148.72" y="564.95" width="1.8" height="0.9" fill="#1F4A70" opacity="0.8"/>
<rect x="158.54" y="564.95" width="1.8" height="0.9" fill="#1F4A70" opacity="0.8"/>
<rect x="168.35" y="564.95" width="1.8" height="0.9" fill="#1F4A70" opacity="0.8"/>
<rect x="187.97" y="564.95" width="1.8" height="0.9" fill="#1F4A70" opacity="0.8"/>
<rect x="217.41" y="564.95" width="1.8" height="0.9" fill="#1F4A70" opacity="0.8"/>
<rect x="227.22" y="564.95" width="1.8" height="0.9" fill="#1F4A70" opacity="0.8"/>
<rect x="62.08" y="563.66" width="1.8" height="0.9" fill="#8B2030" opacity="0.8"/>
<rect x="111.14" y="563.66" width="1.8" height="0.9" fill="#8B2030" opacity="0.8"/>
<rect x="120.95" y="563.66" width="1.8" height="0.9" fill="#8B2030" opacity="0.8"/>
<rect x="140.58" y="563.66" width="1.8" height="0.9" fill="#8B2030" opacity="0.8"/>
<rect x="160.20" y="563.66" width="1.8" height="0.9" fill="#8B2030" opacity="0.8"/>
<rect x="170.02" y="563.66" width="1.8" height="0.9" fill="#8B2030" opacity="0.8"/>
<rect x="199.45" y="563.66" width="1.8" height="0.9" fill="#8B2030" opacity="0.8"/>
<rect x="219.08" y="563.66" width="1.8" height="0.9" fill="#8B2030" opacity="0.8"/>
<rect x="73.56" y="562.37" width="1.8" height="0.9" fill="#6A8A40" opacity="0.8"/>
<rect x="93.18" y="562.37" width="1.8" height="0.9" fill="#6A8A40" opacity="0.8"/>
<rect x="142.24" y="562.37" width="1.8" height="0.9" fill="#6A8A40" opacity="0.8"/>
<rect x="210.93" y="562.37" width="1.8" height="0.9" fill="#6A8A40" opacity="0.8"/>
<rect x="240.37" y="562.37" width="1.8" height="0.9" fill="#6A8A40" opacity="0.8"/>
<rect x="55.60" y="561.08" width="1.8" height="0.9" fill="#4A4080" opacity="0.8"/>
<rect x="65.41" y="561.08" width="1.8" height="0.9" fill="#4A4080" opacity="0.8"/>
<rect x="75.22" y="561.08" width="1.8" height="0.9" fill="#4A4080" opacity="0.8"/>
<rect x="153.72" y="561.08" width="1.8" height="0.9" fill="#4A4080" opacity="0.8"/>
<rect x="163.54" y="561.08" width="1.8" height="0.9" fill="#4A4080" opacity="0.8"/>
<rect x="173.35" y="561.08" width="1.8" height="0.9" fill="#4A4080" opacity="0.8"/>
<rect x="183.16" y="561.08" width="1.8" height="0.9" fill="#4A4080" opacity="0.8"/>
<rect x="57.27" y="559.79" width="1.8" height="0.9" fill="#1F6A80" opacity="0.8"/>
<rect x="116.14" y="559.79" width="1.8" height="0.9" fill="#1F6A80" opacity="0.8"/>
<rect x="204.45" y="559.79" width="1.8" height="0.9" fill="#1F6A80" opacity="0.8"/>
<rect x="214.27" y="559.79" width="1.8" height="0.9" fill="#1F6A80" opacity="0.8"/>
<rect x="224.08" y="559.79" width="1.8" height="0.9" fill="#1F6A80" opacity="0.8"/>
<rect x="58.93" y="558.50" width="1.8" height="0.9" fill="#E06010" opacity="0.8"/>
<rect x="117.81" y="558.50" width="1.8" height="0.9" fill="#E06010" opacity="0.8"/>
<rect x="127.62" y="558.50" width="1.8" height="0.9" fill="#E06010" opacity="0.8"/>
<rect x="206.12" y="558.50" width="1.8" height="0.9" fill="#E06010" opacity="0.8"/>
<rect x="215.93" y="558.50" width="1.8" height="0.9" fill="#E06010" opacity="0.8"/>
<rect x="225.74" y="558.50" width="1.8" height="0.9" fill="#E06010" opacity="0.8"/>
<rect x="235.56" y="558.50" width="1.8" height="0.9" fill="#E06010" opacity="0.8"/>
<rect x="52.60" y="294.12" width="2.80" height="1.96" fill="#4B2F6C"/>
<rect x="72.20" y="283.69" width="2.60" height="1.82" fill="#E8892A"/>
<rect x="83.50" y="283.69" width="2.60" height="1.82" fill="#E8892A"/>
<rect x="111.80" y="283.69" width="2.60" height="1.82" fill="#E8892A"/>
<rect x="158.30" y="283.69" width="2.60" height="1.82" fill="#E8892A"/>
<rect x="127.00" y="284.60" width="2.60" height="6.90" fill="#A898C0" />
<rect x="128.90" y="284.60" width="0.70" height="6.90" fill="#786d8a" />
<rect x="128.80" y="269.20" width="2.70" height="16.20" fill="#E8892A" />
<rect x="130.80" y="269.20" width="0.70" height="16.20" fill="#a7621e" />
<rect x="153.20" y="246.50" width="2.90" height="51.20" fill="#8E2233" />
<rect x="155.40" y="246.50" width="0.70" height="51.20" fill="#661824" />
<rect x="177.00" y="293.80" width="2.60" height="6.50" fill="#A898C0" />
<rect x="178.90" y="293.80" width="0.70" height="6.50" fill="#786d8a" />
<rect x="253.80" y="272.70" width="2.70" height="13.30" fill="#E8892A" />
<rect x="255.80" y="272.70" width="0.70" height="13.30" fill="#a7621e" />
<rect x="127.10" y="295.57" width="1.80" height="1.26" fill="#4B2F6C"/>
<rect x="136.40" y="300.87" width="1.80" height="1.26" fill="#8E2233"/>
<rect x="165.00" y="300.94" width="1.60" height="1.12" fill="#8E2233"/>
<rect x="142.70" y="292.44" width="1.60" height="1.12" fill="#A898C0"/>
<rect x="132.70" y="290.24" width="1.60" height="1.12" fill="#A898C0"/>
<rect x="58.80" y="398.00" width="3.10" height="42.80" fill="#2E8BC0" />
<rect x="61.20" y="398.00" width="0.70" height="42.80" fill="#21648a" />
<rect x="64.20" y="437.70" width="2.80" height="2.60" fill="#3A80B0" />
<rect x="66.30" y="437.70" width="0.70" height="2.60" fill="#295c7e" />
<rect x="66.20" y="433.50" width="2.60" height="4.20" fill="#E05060" />
<rect x="68.10" y="433.50" width="0.70" height="4.20" fill="#a13945" />
<rect x="98.00" y="428.50" width="2.80" height="10.70" fill="#E05060" />
<rect x="100.10" y="428.50" width="0.70" height="10.70" fill="#a13945" />
<rect x="107.30" y="418.90" width="2.70" height="12.60" fill="#1F4A70" />
<rect x="109.30" y="418.90" width="0.70" height="12.60" fill="#163550" />
<rect x="108.80" y="432.30" width="2.70" height="2.30" fill="#20B0C0" />
<rect x="110.80" y="432.30" width="0.70" height="2.30" fill="#177e8a" />
<rect x="137.70" y="419.20" width="2.30" height="5.00" fill="#E08030" />
<rect x="139.30" y="419.20" width="0.70" height="5.00" fill="#a15c22" />
<rect x="135.80" y="425.80" width="2.70" height="5.00" fill="#8B2030" />
<rect x="137.80" y="425.80" width="0.70" height="5.00" fill="#641722" />
<rect x="211.90" y="421.20" width="2.60" height="7.60" fill="#6A9A40" />
<rect x="213.80" y="421.20" width="0.70" height="7.60" fill="#4c6e2e" />
<rect x="217.30" y="419.20" width="2.70" height="5.50" fill="#E08030" />
<rect x="219.30" y="419.20" width="0.70" height="5.50" fill="#a15c22" />
<rect x="215.30" y="433.20" width="2.70" height="5.30" fill="#E07090" />
<rect x="217.30" y="433.20" width="0.70" height="5.30" fill="#a15067" />
<rect x="224.60" y="429.96" width="2.40" height="1.68" fill="#1F4A70"/>
<rect x="238.80" y="418.50" width="2.80" height="6.20" fill="#E08030" />
<rect x="240.90" y="418.50" width="0.70" height="6.20" fill="#a15c22" />
<rect x="198.50" y="434.00" width="2.50" height="5.60" fill="#20A0B0" />
<rect x="200.30" y="434.00" width="0.70" height="5.60" fill="#17737e" />
<rect x="192.50" y="437.30" width="2.00" height="1.40" fill="#20A0B0"/>
<rect x="206.80" y="430.30" width="2.00" height="1.40" fill="#F0A070"/>
<rect x="68.50" y="563.69" width="2.60" height="1.82" fill="#1F3A60"/>
<rect x="63.70" y="564.04" width="1.60" height="1.12" fill="#3A6A90"/>
<rect x="84.50" y="564.60" width="2.30" height="7.70" fill="#E05060" />
<rect x="86.10" y="564.60" width="0.70" height="7.70" fill="#a13945" />
<rect x="122.30" y="550.10" width="2.60" height="9.50" fill="#E07020" />
<rect x="124.20" y="550.10" width="0.70" height="9.50" fill="#a15017" />
<rect x="165.40" y="551.50" width="2.60" height="21.20" fill="#E05060" />
<rect x="167.30" y="551.50" width="0.70" height="21.20" fill="#a13945" />
<rect x="182.80" y="526.10" width="2.60" height="33.50" fill="#E07020" />
<rect x="184.70" y="526.10" width="0.70" height="33.50" fill="#a15017" />
<rect x="225.80" y="556.20" width="2.30" height="16.90" fill="#E05060" />
<rect x="227.40" y="556.20" width="0.70" height="16.90" fill="#a13945" />
<rect x="154.50" y="568.17" width="1.80" height="1.26" fill="#6A4A90"/>
<rect x="120.70" y="570.64" width="1.60" height="1.12" fill="#8B2030"/>
<text x="347.00" y="648.60" font-size="8.6" fill="#333" textLength="66.80" lengthAdjust="spacingAndGlyphs" stroke="#333" stroke-width="0.22">Total T cells minus CD8</text>
<text x="414.00" y="645.00" font-size="5.5" fill="#333" stroke="#333" stroke-width="0.22">+</text>
<text x="364.90" y="658.20" font-size="8.6" fill="#333" textLength="34.50" lengthAdjust="spacingAndGlyphs" stroke="#333" stroke-width="0.22">TEMRA cells</text>
</svg>
<div class="frame"></div>
</body></html>
